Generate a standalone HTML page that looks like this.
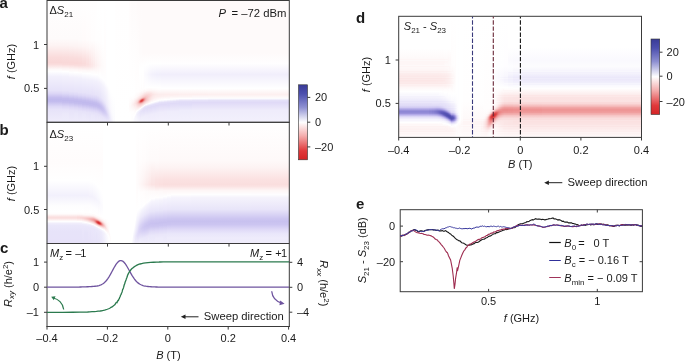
<!DOCTYPE html>
<html><head><meta charset="utf-8"><title>Figure</title>
<style>
html,body{margin:0;padding:0;background:#fff;}
svg{display:block;will-change:transform;font-family:"Liberation Sans", sans-serif;fill:#1a1a1a;}
</style></head>
<body>
<svg width="685" height="362" viewBox="0 0 685 362">
<rect width="685" height="362" fill="#fff"/>
<defs>
<filter id="b0_6" x="-50%" y="-50%" width="200%" height="200%"><feGaussianBlur stdDeviation="0.6"/></filter>
<filter id="b1" x="-50%" y="-50%" width="200%" height="200%"><feGaussianBlur stdDeviation="1"/></filter>
<filter id="b1_5" x="-50%" y="-50%" width="200%" height="200%"><feGaussianBlur stdDeviation="1.5"/></filter>
<filter id="b2" x="-50%" y="-50%" width="200%" height="200%"><feGaussianBlur stdDeviation="2"/></filter>
<filter id="b2_5" x="-50%" y="-50%" width="200%" height="200%"><feGaussianBlur stdDeviation="2.5"/></filter>
<filter id="b3" x="-50%" y="-50%" width="200%" height="200%"><feGaussianBlur stdDeviation="3"/></filter>
<filter id="b4" x="-50%" y="-50%" width="200%" height="200%"><feGaussianBlur stdDeviation="4"/></filter>
<filter id="b5" x="-50%" y="-50%" width="200%" height="200%"><feGaussianBlur stdDeviation="5"/></filter>
<filter id="b6" x="-50%" y="-50%" width="200%" height="200%"><feGaussianBlur stdDeviation="6"/></filter>
<linearGradient id="cbar" x1="0" y1="0" x2="0" y2="1">
<stop offset="0" stop-color="#393b97"/>
<stop offset="0.12" stop-color="#4c4fae"/>
<stop offset="0.3" stop-color="#8e90d2"/>
<stop offset="0.5" stop-color="#ffffff"/>
<stop offset="0.68" stop-color="#f4adad"/>
<stop offset="0.88" stop-color="#e0393b"/>
<stop offset="1" stop-color="#d42426"/>
</linearGradient>
<clipPath id="ca"><rect x="47" y="0.5" width="242.3" height="121.8"/></clipPath>
<clipPath id="cb"><rect x="47" y="122.3" width="242.3" height="121.2"/></clipPath>
<clipPath id="cd"><rect x="398.7" y="16.3" width="242.8" height="121.1"/></clipPath>
<clipPath id="ce"><rect x="400.2" y="209.7" width="242.2" height="82"/></clipPath>
<linearGradient id="fadeR" x1="0" y1="0" x2="1" y2="0"><stop offset="0" stop-color="#fff" stop-opacity="1"/><stop offset="0.75" stop-color="#fff" stop-opacity="1"/><stop offset="1" stop-color="#fff" stop-opacity="0"/></linearGradient>
</defs>
<defs><linearGradient id="ga0" gradientUnits="userSpaceOnUse" x1="0" y1="0" x2="0" y2="122"><stop offset="0.0041" stop-color="#fffefe"/><stop offset="0.3156" stop-color="#fefbfb"/><stop offset="0.3730" stop-color="#fdf3f3"/><stop offset="0.4713" stop-color="#fadbdb"/><stop offset="0.5123" stop-color="#f9d7d7"/><stop offset="0.5287" stop-color="#fadddd"/><stop offset="0.5697" stop-color="#fefafa"/><stop offset="0.5861" stop-color="#fefeff"/><stop offset="0.6270" stop-color="#f2f0fc"/><stop offset="0.7418" stop-color="#e6e2f9"/><stop offset="0.7664" stop-color="#dcd6f6"/><stop offset="0.7992" stop-color="#c6beef"/><stop offset="0.8156" stop-color="#c0b9ed"/><stop offset="0.8320" stop-color="#c3bcee"/><stop offset="0.8730" stop-color="#ded9f7"/><stop offset="0.8975" stop-color="#e7e3f9"/><stop offset="0.9959" stop-color="#efecfb"/></linearGradient>
<linearGradient id="ga1" gradientUnits="userSpaceOnUse" x1="0" y1="0" x2="0" y2="122"><stop offset="0.0041" stop-color="#fffefe"/><stop offset="0.3156" stop-color="#fefbfb"/><stop offset="0.3730" stop-color="#fdf3f3"/><stop offset="0.4713" stop-color="#fadcdc"/><stop offset="0.5123" stop-color="#f9d8d8"/><stop offset="0.5287" stop-color="#fadbdb"/><stop offset="0.5615" stop-color="#fdf3f3"/><stop offset="0.5861" stop-color="#ffffff"/><stop offset="0.6270" stop-color="#f3f1fc"/><stop offset="0.7418" stop-color="#e7e3f9"/><stop offset="0.7664" stop-color="#ded9f7"/><stop offset="0.8074" stop-color="#c4bcee"/><stop offset="0.8238" stop-color="#c0b9ed"/><stop offset="0.8402" stop-color="#c5beee"/><stop offset="0.8730" stop-color="#dcd6f6"/><stop offset="0.8975" stop-color="#e6e2f9"/><stop offset="0.9303" stop-color="#ebe8fa"/><stop offset="0.9959" stop-color="#eeecfb"/></linearGradient>
<linearGradient id="ga2" gradientUnits="userSpaceOnUse" x1="0" y1="0" x2="0" y2="122"><stop offset="0.0041" stop-color="#fffefe"/><stop offset="0.3156" stop-color="#fefbfb"/><stop offset="0.3730" stop-color="#fdf4f4"/><stop offset="0.4713" stop-color="#fadddd"/><stop offset="0.5123" stop-color="#fad8d8"/><stop offset="0.5287" stop-color="#fadada"/><stop offset="0.5697" stop-color="#fef7f7"/><stop offset="0.5943" stop-color="#fefeff"/><stop offset="0.6352" stop-color="#f3f0fc"/><stop offset="0.7500" stop-color="#e6e2f9"/><stop offset="0.7746" stop-color="#dcd7f6"/><stop offset="0.8074" stop-color="#c6bfef"/><stop offset="0.8238" stop-color="#c1b9ed"/><stop offset="0.8402" stop-color="#c3bcee"/><stop offset="0.8811" stop-color="#ded8f7"/><stop offset="0.9057" stop-color="#e7e3f9"/><stop offset="0.9959" stop-color="#eeebfb"/></linearGradient>
<linearGradient id="ga3" gradientUnits="userSpaceOnUse" x1="0" y1="0" x2="0" y2="122"><stop offset="0.0041" stop-color="#fffefe"/><stop offset="0.3156" stop-color="#fefbfb"/><stop offset="0.3811" stop-color="#fdf3f3"/><stop offset="0.4795" stop-color="#fadcdc"/><stop offset="0.5205" stop-color="#fad8d8"/><stop offset="0.5369" stop-color="#fadede"/><stop offset="0.5697" stop-color="#fef6f6"/><stop offset="0.5943" stop-color="#ffffff"/><stop offset="0.6352" stop-color="#f3f1fc"/><stop offset="0.7500" stop-color="#e7e3f9"/><stop offset="0.7746" stop-color="#ded9f7"/><stop offset="0.8156" stop-color="#c4bcee"/><stop offset="0.8320" stop-color="#c0b9ed"/><stop offset="0.8484" stop-color="#c5beee"/><stop offset="0.8811" stop-color="#dcd6f6"/><stop offset="0.9057" stop-color="#e6e2f9"/><stop offset="0.9303" stop-color="#eae7fa"/><stop offset="0.9959" stop-color="#eeebfb"/></linearGradient>
<linearGradient id="ga4" gradientUnits="userSpaceOnUse" x1="0" y1="0" x2="0" y2="122"><stop offset="0.0041" stop-color="#fffefe"/><stop offset="0.3238" stop-color="#fefbfb"/><stop offset="0.3811" stop-color="#fdf4f4"/><stop offset="0.4795" stop-color="#fadddd"/><stop offset="0.5205" stop-color="#fad9d9"/><stop offset="0.5369" stop-color="#fadddd"/><stop offset="0.5697" stop-color="#fef4f4"/><stop offset="0.5943" stop-color="#fffefe"/><stop offset="0.6434" stop-color="#f2f0fc"/><stop offset="0.7582" stop-color="#e6e2f9"/><stop offset="0.7828" stop-color="#dcd7f6"/><stop offset="0.8156" stop-color="#c6bfef"/><stop offset="0.8320" stop-color="#c1b9ed"/><stop offset="0.8484" stop-color="#c3bcee"/><stop offset="0.8893" stop-color="#ded8f7"/><stop offset="0.9139" stop-color="#e7e3f9"/><stop offset="0.9959" stop-color="#eeebfb"/></linearGradient>
<linearGradient id="ga5" gradientUnits="userSpaceOnUse" x1="0" y1="0" x2="0" y2="122"><stop offset="0.0041" stop-color="#fffefe"/><stop offset="0.3238" stop-color="#fffbfb"/><stop offset="0.3811" stop-color="#fef5f5"/><stop offset="0.4795" stop-color="#fbe0e0"/><stop offset="0.5205" stop-color="#fadbdb"/><stop offset="0.5369" stop-color="#fadede"/><stop offset="0.5779" stop-color="#fef8f8"/><stop offset="0.6025" stop-color="#fefeff"/><stop offset="0.6516" stop-color="#f2f0fc"/><stop offset="0.7582" stop-color="#e7e3f9"/><stop offset="0.7828" stop-color="#dfd9f7"/><stop offset="0.8238" stop-color="#c4bdee"/><stop offset="0.8402" stop-color="#c0b9ed"/><stop offset="0.8566" stop-color="#c5bdee"/><stop offset="0.8893" stop-color="#dbd5f6"/><stop offset="0.9139" stop-color="#e6e2f9"/><stop offset="0.9385" stop-color="#eae7fa"/><stop offset="0.9959" stop-color="#eeebfb"/></linearGradient>
<linearGradient id="ga6" gradientUnits="userSpaceOnUse" x1="0" y1="0" x2="0" y2="122"><stop offset="0.0041" stop-color="#fffefe"/><stop offset="0.3238" stop-color="#fffcfc"/><stop offset="0.3893" stop-color="#fef5f5"/><stop offset="0.4877" stop-color="#fbe2e2"/><stop offset="0.5287" stop-color="#fbdfdf"/><stop offset="0.5451" stop-color="#fbe4e4"/><stop offset="0.5779" stop-color="#fef7f7"/><stop offset="0.6025" stop-color="#ffffff"/><stop offset="0.6516" stop-color="#f3f1fc"/><stop offset="0.7664" stop-color="#e6e2f9"/><stop offset="0.7910" stop-color="#ddd7f6"/><stop offset="0.8238" stop-color="#c7bfef"/><stop offset="0.8402" stop-color="#c1b9ed"/><stop offset="0.8566" stop-color="#c3bbee"/><stop offset="0.8975" stop-color="#ded8f7"/><stop offset="0.9221" stop-color="#e7e3f9"/><stop offset="0.9959" stop-color="#eeebfb"/></linearGradient>
<linearGradient id="ga7" gradientUnits="userSpaceOnUse" x1="0" y1="0" x2="0" y2="122"><stop offset="0.0041" stop-color="#fffefe"/><stop offset="0.3320" stop-color="#fffcfc"/><stop offset="0.3893" stop-color="#fef7f7"/><stop offset="0.4877" stop-color="#fce6e6"/><stop offset="0.5287" stop-color="#fbe3e3"/><stop offset="0.5451" stop-color="#fce6e6"/><stop offset="0.5779" stop-color="#fef7f7"/><stop offset="0.6025" stop-color="#ffffff"/><stop offset="0.6598" stop-color="#f2f0fc"/><stop offset="0.7664" stop-color="#e7e3f9"/><stop offset="0.7910" stop-color="#ded9f7"/><stop offset="0.8320" stop-color="#c4bdee"/><stop offset="0.8484" stop-color="#c0b9ed"/><stop offset="0.8648" stop-color="#c5beee"/><stop offset="0.8975" stop-color="#dcd6f6"/><stop offset="0.9221" stop-color="#e6e2f9"/><stop offset="0.9959" stop-color="#edeafb"/></linearGradient>
<linearGradient id="ga8" gradientUnits="userSpaceOnUse" x1="0" y1="0" x2="0" y2="122"><stop offset="0.0041" stop-color="#fffefe"/><stop offset="0.3320" stop-color="#fffdfd"/><stop offset="0.5287" stop-color="#fce7e7"/><stop offset="0.5451" stop-color="#fce9e9"/><stop offset="0.5861" stop-color="#fefbfb"/><stop offset="0.6107" stop-color="#fefeff"/><stop offset="0.6598" stop-color="#f2f0fc"/><stop offset="0.7746" stop-color="#e6e1f9"/><stop offset="0.7992" stop-color="#dcd6f6"/><stop offset="0.8320" stop-color="#c6beef"/><stop offset="0.8484" stop-color="#c1b9ed"/><stop offset="0.8648" stop-color="#c4bcee"/><stop offset="0.8975" stop-color="#dad4f6"/><stop offset="0.9221" stop-color="#e5e1f9"/><stop offset="0.9467" stop-color="#eae7fa"/><stop offset="0.9959" stop-color="#edeafb"/></linearGradient>
<linearGradient id="ga9" gradientUnits="userSpaceOnUse" x1="0" y1="0" x2="0" y2="122"><stop offset="0.0041" stop-color="#fffefe"/><stop offset="0.3320" stop-color="#fffdfd"/><stop offset="0.5287" stop-color="#fcebeb"/><stop offset="0.5451" stop-color="#fceded"/><stop offset="0.5861" stop-color="#fefbfb"/><stop offset="0.6107" stop-color="#fffeff"/><stop offset="0.6598" stop-color="#f3f1fc"/><stop offset="0.7746" stop-color="#e7e2f9"/><stop offset="0.7992" stop-color="#ddd8f7"/><stop offset="0.8402" stop-color="#c3bcee"/><stop offset="0.8566" stop-color="#c1b9ed"/><stop offset="0.8730" stop-color="#c7bfef"/><stop offset="0.9057" stop-color="#ddd7f7"/><stop offset="0.9221" stop-color="#e4e0f8"/><stop offset="0.9467" stop-color="#eae6fa"/><stop offset="0.9959" stop-color="#edeafb"/></linearGradient>
<linearGradient id="ga10" gradientUnits="userSpaceOnUse" x1="0" y1="0" x2="0" y2="122"><stop offset="0.0041" stop-color="#fffefe"/><stop offset="0.3320" stop-color="#fffefe"/><stop offset="0.5369" stop-color="#fdf0f0"/><stop offset="0.6107" stop-color="#ffffff"/><stop offset="0.6680" stop-color="#f2f0fc"/><stop offset="0.7746" stop-color="#e8e4f9"/><stop offset="0.8074" stop-color="#dbd5f6"/><stop offset="0.8402" stop-color="#c5beee"/><stop offset="0.8566" stop-color="#c1b9ed"/><stop offset="0.8730" stop-color="#c5beee"/><stop offset="0.9057" stop-color="#dbd5f6"/><stop offset="0.9303" stop-color="#e6e2f9"/><stop offset="0.9959" stop-color="#edeafb"/></linearGradient>
<linearGradient id="ga11" gradientUnits="userSpaceOnUse" x1="0" y1="0" x2="0" y2="122"><stop offset="0.0041" stop-color="#ffffff"/><stop offset="0.3320" stop-color="#fffefe"/><stop offset="0.5369" stop-color="#fdf3f3"/><stop offset="0.6107" stop-color="#ffffff"/><stop offset="0.6680" stop-color="#f3f1fc"/><stop offset="0.7828" stop-color="#e7e3f9"/><stop offset="0.8074" stop-color="#ded8f7"/><stop offset="0.8484" stop-color="#c4bdee"/><stop offset="0.8648" stop-color="#c2baed"/><stop offset="0.8811" stop-color="#c7c0ef"/><stop offset="0.9139" stop-color="#ded8f7"/><stop offset="0.9303" stop-color="#e5e0f8"/><stop offset="0.9549" stop-color="#eae6fa"/><stop offset="0.9959" stop-color="#edeafa"/></linearGradient>
<linearGradient id="ga12" gradientUnits="userSpaceOnUse" x1="0" y1="0" x2="0" y2="122"><stop offset="0.0041" stop-color="#ffffff"/><stop offset="0.3320" stop-color="#fffefe"/><stop offset="0.5369" stop-color="#fef4f4"/><stop offset="0.6189" stop-color="#fefeff"/><stop offset="0.6762" stop-color="#f3f0fc"/><stop offset="0.7828" stop-color="#e8e4f9"/><stop offset="0.8156" stop-color="#dcd6f6"/><stop offset="0.8484" stop-color="#c7bfef"/><stop offset="0.8648" stop-color="#c2baed"/><stop offset="0.8811" stop-color="#c6beef"/><stop offset="0.9139" stop-color="#dcd6f6"/><stop offset="0.9385" stop-color="#e6e2f9"/><stop offset="0.9959" stop-color="#edeafa"/></linearGradient>
<linearGradient id="ga13" gradientUnits="userSpaceOnUse" x1="0" y1="0" x2="0" y2="122"><stop offset="0.0041" stop-color="#ffffff"/><stop offset="0.3402" stop-color="#fffefe"/><stop offset="0.5369" stop-color="#fef6f6"/><stop offset="0.6025" stop-color="#fffefe"/><stop offset="0.6270" stop-color="#fefeff"/><stop offset="0.6762" stop-color="#f3f1fc"/><stop offset="0.7910" stop-color="#e8e4f9"/><stop offset="0.8156" stop-color="#dfdaf7"/><stop offset="0.8566" stop-color="#c6beef"/><stop offset="0.8730" stop-color="#c3bbee"/><stop offset="0.8893" stop-color="#c8c1ef"/><stop offset="0.9221" stop-color="#ded8f7"/><stop offset="0.9385" stop-color="#e5e1f8"/><stop offset="0.9631" stop-color="#eae7fa"/><stop offset="0.9959" stop-color="#edeafa"/></linearGradient>
<linearGradient id="ga14" gradientUnits="userSpaceOnUse" x1="0" y1="0" x2="0" y2="122"><stop offset="0.0041" stop-color="#ffffff"/><stop offset="0.3402" stop-color="#fffefe"/><stop offset="0.5369" stop-color="#fef7f7"/><stop offset="0.6025" stop-color="#fffefe"/><stop offset="0.6352" stop-color="#fefeff"/><stop offset="0.6844" stop-color="#f3f1fc"/><stop offset="0.7992" stop-color="#e7e3f9"/><stop offset="0.8238" stop-color="#ded9f7"/><stop offset="0.8566" stop-color="#cac3f0"/><stop offset="0.8730" stop-color="#c4bdee"/><stop offset="0.8893" stop-color="#c7bfef"/><stop offset="0.9221" stop-color="#dbd5f6"/><stop offset="0.9467" stop-color="#e6e2f9"/><stop offset="0.9959" stop-color="#edeafa"/></linearGradient>
<linearGradient id="ga15" gradientUnits="userSpaceOnUse" x1="0" y1="0" x2="0" y2="122"><stop offset="0.0041" stop-color="#ffffff"/><stop offset="0.3402" stop-color="#fffefe"/><stop offset="0.5369" stop-color="#fef9f9"/><stop offset="0.6352" stop-color="#fefeff"/><stop offset="0.6926" stop-color="#f3f1fc"/><stop offset="0.7992" stop-color="#e9e6fa"/><stop offset="0.8238" stop-color="#e2ddf8"/><stop offset="0.8648" stop-color="#cac3f0"/><stop offset="0.8811" stop-color="#c6beef"/><stop offset="0.8975" stop-color="#c9c1f0"/><stop offset="0.9303" stop-color="#ddd7f6"/><stop offset="0.9549" stop-color="#e7e3f9"/><stop offset="0.9959" stop-color="#edeafa"/></linearGradient>
<linearGradient id="ga16" gradientUnits="userSpaceOnUse" x1="0" y1="0" x2="0" y2="122"><stop offset="0.0041" stop-color="#ffffff"/><stop offset="0.3402" stop-color="#ffffff"/><stop offset="0.5369" stop-color="#fefafa"/><stop offset="0.6434" stop-color="#fefeff"/><stop offset="0.7008" stop-color="#f4f2fc"/><stop offset="0.8074" stop-color="#eae7fa"/><stop offset="0.8320" stop-color="#e3def8"/><stop offset="0.8730" stop-color="#ccc5f1"/><stop offset="0.8893" stop-color="#c8c1ef"/><stop offset="0.9057" stop-color="#cbc4f0"/><stop offset="0.9549" stop-color="#e6e1f9"/><stop offset="0.9959" stop-color="#edeafa"/></linearGradient>
<linearGradient id="ga17" gradientUnits="userSpaceOnUse" x1="0" y1="0" x2="0" y2="122"><stop offset="0.0041" stop-color="#ffffff"/><stop offset="0.3402" stop-color="#ffffff"/><stop offset="0.5451" stop-color="#fefbfb"/><stop offset="0.6516" stop-color="#fefeff"/><stop offset="0.7090" stop-color="#f4f2fc"/><stop offset="0.8156" stop-color="#ebe8fa"/><stop offset="0.8402" stop-color="#e4e0f8"/><stop offset="0.8811" stop-color="#cfc8f2"/><stop offset="0.8975" stop-color="#cbc4f0"/><stop offset="0.9139" stop-color="#cec7f1"/><stop offset="0.9631" stop-color="#e7e3f9"/><stop offset="0.9959" stop-color="#edeafb"/></linearGradient>
<linearGradient id="ga18" gradientUnits="userSpaceOnUse" x1="0" y1="0" x2="0" y2="122"><stop offset="0.0041" stop-color="#ffffff"/><stop offset="0.5451" stop-color="#fffcfc"/><stop offset="0.6598" stop-color="#fefeff"/><stop offset="0.7172" stop-color="#f5f3fd"/><stop offset="0.8238" stop-color="#edeafa"/><stop offset="0.8484" stop-color="#e6e2f9"/><stop offset="0.8893" stop-color="#d3cdf3"/><stop offset="0.9057" stop-color="#cfc8f2"/><stop offset="0.9221" stop-color="#d1cbf3"/><stop offset="0.9631" stop-color="#e5e1f8"/><stop offset="0.9959" stop-color="#edeafb"/></linearGradient>
<linearGradient id="ga19" gradientUnits="userSpaceOnUse" x1="0" y1="0" x2="0" y2="122"><stop offset="0.0041" stop-color="#ffffff"/><stop offset="0.5451" stop-color="#fffcfc"/><stop offset="0.6762" stop-color="#fefeff"/><stop offset="0.7254" stop-color="#f6f5fd"/><stop offset="0.8402" stop-color="#edeafb"/><stop offset="0.9139" stop-color="#d4cdf4"/><stop offset="0.9303" stop-color="#d5cff4"/><stop offset="0.9713" stop-color="#e7e2f9"/><stop offset="0.9959" stop-color="#edebfb"/></linearGradient>
<linearGradient id="ga20" gradientUnits="userSpaceOnUse" x1="0" y1="0" x2="0" y2="122"><stop offset="0.0041" stop-color="#ffffff"/><stop offset="0.6844" stop-color="#fefeff"/><stop offset="0.7418" stop-color="#f7f5fd"/><stop offset="0.8484" stop-color="#f0edfb"/><stop offset="0.8730" stop-color="#eae7fa"/><stop offset="0.9139" stop-color="#dcd6f6"/><stop offset="0.9303" stop-color="#d9d3f5"/><stop offset="0.9467" stop-color="#dcd6f6"/><stop offset="0.9959" stop-color="#edeafb"/></linearGradient>
<linearGradient id="ga21" gradientUnits="userSpaceOnUse" x1="0" y1="0" x2="0" y2="122"><stop offset="0.0041" stop-color="#ffffff"/><stop offset="0.6926" stop-color="#ffffff"/><stop offset="0.7500" stop-color="#f8f7fd"/><stop offset="0.8566" stop-color="#f2f0fc"/><stop offset="0.9385" stop-color="#dfdaf7"/><stop offset="0.9631" stop-color="#e2def8"/><stop offset="0.9959" stop-color="#edeafa"/></linearGradient>
<linearGradient id="ga22" gradientUnits="userSpaceOnUse" x1="0" y1="0" x2="0" y2="122"><stop offset="0.0041" stop-color="#ffffff"/><stop offset="0.7008" stop-color="#ffffff"/><stop offset="0.8730" stop-color="#f4f2fc"/><stop offset="0.9467" stop-color="#e5e1f8"/><stop offset="0.9713" stop-color="#e6e2f9"/><stop offset="0.9959" stop-color="#edeafa"/></linearGradient>
<linearGradient id="ga23" gradientUnits="userSpaceOnUse" x1="0" y1="0" x2="0" y2="122"><stop offset="0.0041" stop-color="#ffffff"/><stop offset="0.7172" stop-color="#ffffff"/><stop offset="0.8893" stop-color="#f6f5fd"/><stop offset="0.9631" stop-color="#eae7fa"/><stop offset="0.9959" stop-color="#eeebfb"/></linearGradient>
<linearGradient id="ga24" gradientUnits="userSpaceOnUse" x1="0" y1="0" x2="0" y2="122"><stop offset="0.0041" stop-color="#ffffff"/><stop offset="0.7336" stop-color="#ffffff"/><stop offset="0.8975" stop-color="#f9f7fd"/><stop offset="0.9713" stop-color="#efedfb"/><stop offset="0.9959" stop-color="#f0edfb"/></linearGradient>
<linearGradient id="ga25" gradientUnits="userSpaceOnUse" x1="0" y1="0" x2="0" y2="122"><stop offset="0.0041" stop-color="#ffffff"/><stop offset="0.7500" stop-color="#ffffff"/><stop offset="0.9139" stop-color="#faf9fe"/><stop offset="0.9959" stop-color="#f3f1fc"/></linearGradient>
<linearGradient id="ga26" gradientUnits="userSpaceOnUse" x1="0" y1="0" x2="0" y2="122"><stop offset="0.0041" stop-color="#ffffff"/><stop offset="0.7664" stop-color="#ffffff"/><stop offset="0.9303" stop-color="#fbfbfe"/><stop offset="0.9959" stop-color="#f7f5fd"/></linearGradient>
<linearGradient id="ga27" gradientUnits="userSpaceOnUse" x1="0" y1="0" x2="0" y2="122"><stop offset="0.0041" stop-color="#ffffff"/><stop offset="0.7828" stop-color="#ffffff"/><stop offset="0.9959" stop-color="#fbfbfe"/></linearGradient>
<linearGradient id="ga28" gradientUnits="userSpaceOnUse" x1="0" y1="0" x2="0" y2="122"><stop offset="0.0041" stop-color="#fffefe"/><stop offset="0.9959" stop-color="#ffffff"/></linearGradient>
<linearGradient id="ga29" gradientUnits="userSpaceOnUse" x1="0" y1="0" x2="0" y2="122"><stop offset="0.0041" stop-color="#fffcfc"/><stop offset="0.7828" stop-color="#ffffff"/><stop offset="0.8730" stop-color="#fefafa"/><stop offset="0.9303" stop-color="#ffffff"/><stop offset="0.9959" stop-color="#ffffff"/></linearGradient>
<linearGradient id="ga30" gradientUnits="userSpaceOnUse" x1="0" y1="0" x2="0" y2="122"><stop offset="0.0041" stop-color="#fefbfb"/><stop offset="0.7828" stop-color="#ffffff"/><stop offset="0.8648" stop-color="#fef6f6"/><stop offset="0.9221" stop-color="#fffefe"/><stop offset="0.9959" stop-color="#fffefe"/></linearGradient>
<linearGradient id="ga31" gradientUnits="userSpaceOnUse" x1="0" y1="0" x2="0" y2="122"><stop offset="0.0041" stop-color="#fefbfb"/><stop offset="0.7746" stop-color="#ffffff"/><stop offset="0.8074" stop-color="#fffdfd"/><stop offset="0.8566" stop-color="#fdf2f2"/><stop offset="0.9221" stop-color="#fffefe"/><stop offset="0.9959" stop-color="#fefdff"/></linearGradient>
<linearGradient id="ga32" gradientUnits="userSpaceOnUse" x1="0" y1="0" x2="0" y2="122"><stop offset="0.0041" stop-color="#fefbfb"/><stop offset="0.7746" stop-color="#ffffff"/><stop offset="0.8074" stop-color="#fffcfc"/><stop offset="0.8566" stop-color="#fdeeee"/><stop offset="0.9139" stop-color="#fffdfd"/><stop offset="0.9631" stop-color="#ffffff"/><stop offset="0.9959" stop-color="#fbfafe"/></linearGradient>
<linearGradient id="ga33" gradientUnits="userSpaceOnUse" x1="0" y1="0" x2="0" y2="122"><stop offset="0.0041" stop-color="#fefbfb"/><stop offset="0.7664" stop-color="#ffffff"/><stop offset="0.7992" stop-color="#fffcfc"/><stop offset="0.8484" stop-color="#fce9e9"/><stop offset="0.8648" stop-color="#fcebeb"/><stop offset="0.8975" stop-color="#fef9f9"/><stop offset="0.9467" stop-color="#ffffff"/><stop offset="0.9713" stop-color="#f9f8fe"/><stop offset="0.9959" stop-color="#f9f8fe"/></linearGradient>
<linearGradient id="ga34" gradientUnits="userSpaceOnUse" x1="0" y1="0" x2="0" y2="122"><stop offset="0.0041" stop-color="#fefbfb"/><stop offset="0.7582" stop-color="#fffefe"/><stop offset="0.7992" stop-color="#fefafa"/><stop offset="0.8320" stop-color="#fce8e8"/><stop offset="0.8484" stop-color="#fbe3e3"/><stop offset="0.8893" stop-color="#fdf3f3"/><stop offset="0.9303" stop-color="#ffffff"/><stop offset="0.9549" stop-color="#f7f5fd"/><stop offset="0.9959" stop-color="#f8f7fd"/></linearGradient>
<linearGradient id="ga35" gradientUnits="userSpaceOnUse" x1="0" y1="0" x2="0" y2="122"><stop offset="0.0041" stop-color="#fefbfb"/><stop offset="0.7500" stop-color="#fffefe"/><stop offset="0.7910" stop-color="#fefafa"/><stop offset="0.8074" stop-color="#fdf2f2"/><stop offset="0.8320" stop-color="#fbdfdf"/><stop offset="0.8484" stop-color="#fadbdb"/><stop offset="0.9139" stop-color="#ffffff"/><stop offset="0.9385" stop-color="#f4f2fc"/><stop offset="0.9959" stop-color="#f8f7fd"/></linearGradient>
<linearGradient id="ga36" gradientUnits="userSpaceOnUse" x1="0" y1="0" x2="0" y2="122"><stop offset="0.0041" stop-color="#fefafa"/><stop offset="0.7500" stop-color="#fffefe"/><stop offset="0.7910" stop-color="#fef7f7"/><stop offset="0.8074" stop-color="#fcecec"/><stop offset="0.8402" stop-color="#f8cdcd"/><stop offset="0.8484" stop-color="#f8d0d0"/><stop offset="0.9057" stop-color="#fffefe"/><stop offset="0.9221" stop-color="#f4f2fc"/><stop offset="0.9385" stop-color="#f0eefb"/><stop offset="0.9959" stop-color="#f7f6fd"/></linearGradient>
<linearGradient id="ga37" gradientUnits="userSpaceOnUse" x1="0" y1="0" x2="0" y2="122"><stop offset="0.0041" stop-color="#fefafa"/><stop offset="0.7500" stop-color="#fffefe"/><stop offset="0.7828" stop-color="#fef7f7"/><stop offset="0.7992" stop-color="#fcecec"/><stop offset="0.8156" stop-color="#fadada"/><stop offset="0.8320" stop-color="#f4b8b8"/><stop offset="0.8402" stop-color="#f3b3b3"/><stop offset="0.8566" stop-color="#f8d0d0"/><stop offset="0.8975" stop-color="#fefbfb"/><stop offset="0.9057" stop-color="#faf9fe"/><stop offset="0.9139" stop-color="#f2f0fc"/><stop offset="0.9303" stop-color="#eeebfb"/><stop offset="0.9959" stop-color="#f6f4fd"/></linearGradient>
<linearGradient id="ga38" gradientUnits="userSpaceOnUse" x1="0" y1="0" x2="0" y2="122"><stop offset="0.0041" stop-color="#fefafa"/><stop offset="0.4303" stop-color="#fefbfb"/><stop offset="0.5697" stop-color="#ffffff"/><stop offset="0.7500" stop-color="#fffdfd"/><stop offset="0.7828" stop-color="#fdf3f3"/><stop offset="0.7992" stop-color="#fbe5e5"/><stop offset="0.8074" stop-color="#fadbdb"/><stop offset="0.8156" stop-color="#f7c8c8"/><stop offset="0.8238" stop-color="#f1a4a4"/><stop offset="0.8320" stop-color="#eb8686"/><stop offset="0.8402" stop-color="#ed9191"/><stop offset="0.8484" stop-color="#f4b5b5"/><stop offset="0.8566" stop-color="#f8cccc"/><stop offset="0.8893" stop-color="#fef8f8"/><stop offset="0.8975" stop-color="#fcfcfe"/><stop offset="0.9057" stop-color="#f2f0fc"/><stop offset="0.9221" stop-color="#ebe8fa"/><stop offset="0.9959" stop-color="#f5f3fc"/></linearGradient>
<linearGradient id="ga39" gradientUnits="userSpaceOnUse" x1="0" y1="0" x2="0" y2="122"><stop offset="0.0041" stop-color="#fefafa"/><stop offset="0.4303" stop-color="#fefbfb"/><stop offset="0.5615" stop-color="#ffffff"/><stop offset="0.7172" stop-color="#ffffff"/><stop offset="0.7500" stop-color="#fffcfc"/><stop offset="0.7828" stop-color="#fdeeee"/><stop offset="0.7992" stop-color="#fadddd"/><stop offset="0.8074" stop-color="#f8cdcd"/><stop offset="0.8156" stop-color="#f1a4a4"/><stop offset="0.8238" stop-color="#e66767"/><stop offset="0.8320" stop-color="#e25151"/><stop offset="0.8402" stop-color="#ea8080"/><stop offset="0.8484" stop-color="#f3b3b3"/><stop offset="0.8566" stop-color="#f8cdcd"/><stop offset="0.8893" stop-color="#fffeff"/><stop offset="0.8975" stop-color="#f3f1fc"/><stop offset="0.9057" stop-color="#ece8fa"/><stop offset="0.9139" stop-color="#e9e5f9"/><stop offset="0.9303" stop-color="#e9e5fa"/><stop offset="0.9959" stop-color="#f4f2fc"/></linearGradient>
<linearGradient id="ga40" gradientUnits="userSpaceOnUse" x1="0" y1="0" x2="0" y2="122"><stop offset="0.0041" stop-color="#fefafa"/><stop offset="0.4303" stop-color="#fefbfb"/><stop offset="0.5533" stop-color="#ffffff"/><stop offset="0.7418" stop-color="#fffdfd"/><stop offset="0.7746" stop-color="#fdefef"/><stop offset="0.7910" stop-color="#fbe0e0"/><stop offset="0.7992" stop-color="#f9d4d4"/><stop offset="0.8074" stop-color="#f4b6b6"/><stop offset="0.8156" stop-color="#e87575"/><stop offset="0.8238" stop-color="#dc4142"/><stop offset="0.8320" stop-color="#df4b4b"/><stop offset="0.8402" stop-color="#ec8d8d"/><stop offset="0.8484" stop-color="#f5bcbc"/><stop offset="0.8566" stop-color="#f9d2d2"/><stop offset="0.8811" stop-color="#fffcfc"/><stop offset="0.8975" stop-color="#ebe8fa"/><stop offset="0.9139" stop-color="#e6e2f9"/><stop offset="0.9631" stop-color="#f0eefb"/><stop offset="0.9959" stop-color="#f3f1fc"/></linearGradient>
<linearGradient id="ga41" gradientUnits="userSpaceOnUse" x1="0" y1="0" x2="0" y2="122"><stop offset="0.0041" stop-color="#fefafa"/><stop offset="0.4303" stop-color="#fefafa"/><stop offset="0.5533" stop-color="#ffffff"/><stop offset="0.7172" stop-color="#ffffff"/><stop offset="0.7418" stop-color="#fffcfc"/><stop offset="0.7582" stop-color="#fef6f6"/><stop offset="0.7746" stop-color="#fceaea"/><stop offset="0.7910" stop-color="#fad8d8"/><stop offset="0.7992" stop-color="#f7c8c8"/><stop offset="0.8074" stop-color="#f09e9e"/><stop offset="0.8156" stop-color="#e35858"/><stop offset="0.8238" stop-color="#dd4545"/><stop offset="0.8320" stop-color="#e66b6b"/><stop offset="0.8402" stop-color="#f1a7a7"/><stop offset="0.8484" stop-color="#f7c8c8"/><stop offset="0.8566" stop-color="#fadada"/><stop offset="0.8730" stop-color="#fef8f8"/><stop offset="0.8811" stop-color="#f7f6fd"/><stop offset="0.8893" stop-color="#ece8fa"/><stop offset="0.9057" stop-color="#e5e0f8"/><stop offset="0.9631" stop-color="#f0eefb"/><stop offset="0.9959" stop-color="#f3f1fc"/></linearGradient>
<linearGradient id="ga42" gradientUnits="userSpaceOnUse" x1="0" y1="0" x2="0" y2="122"><stop offset="0.0041" stop-color="#fefafa"/><stop offset="0.4303" stop-color="#fefafa"/><stop offset="0.5451" stop-color="#ffffff"/><stop offset="0.7336" stop-color="#fffdfd"/><stop offset="0.7582" stop-color="#fdf3f3"/><stop offset="0.7746" stop-color="#fbe5e5"/><stop offset="0.7910" stop-color="#f9d1d1"/><stop offset="0.7992" stop-color="#f5bebe"/><stop offset="0.8156" stop-color="#e66969"/><stop offset="0.8238" stop-color="#e76f6f"/><stop offset="0.8320" stop-color="#ef9b9b"/><stop offset="0.8402" stop-color="#f5bfbf"/><stop offset="0.8484" stop-color="#f9d4d4"/><stop offset="0.8648" stop-color="#fdf3f3"/><stop offset="0.8730" stop-color="#fbfafe"/><stop offset="0.8811" stop-color="#edeafa"/><stop offset="0.8893" stop-color="#e6e2f9"/><stop offset="0.8975" stop-color="#e4dff8"/><stop offset="0.9139" stop-color="#e5e1f8"/><stop offset="0.9549" stop-color="#efedfb"/><stop offset="0.9959" stop-color="#f2f0fc"/></linearGradient>
<linearGradient id="ga43" gradientUnits="userSpaceOnUse" x1="0" y1="0" x2="0" y2="122"><stop offset="0.0041" stop-color="#fefafa"/><stop offset="0.4303" stop-color="#fefafa"/><stop offset="0.5369" stop-color="#ffffff"/><stop offset="0.6107" stop-color="#fcfbfe"/><stop offset="0.7254" stop-color="#fffefe"/><stop offset="0.7500" stop-color="#fef6f6"/><stop offset="0.7828" stop-color="#f9d7d7"/><stop offset="0.7910" stop-color="#f8cccc"/><stop offset="0.7992" stop-color="#f4baba"/><stop offset="0.8074" stop-color="#f09f9f"/><stop offset="0.8156" stop-color="#ed9191"/><stop offset="0.8238" stop-color="#f0a0a0"/><stop offset="0.8320" stop-color="#f5bbbb"/><stop offset="0.8402" stop-color="#f8cfcf"/><stop offset="0.8648" stop-color="#fefeff"/><stop offset="0.8730" stop-color="#efecfb"/><stop offset="0.8811" stop-color="#e6e2f9"/><stop offset="0.8893" stop-color="#e3dff8"/><stop offset="0.9057" stop-color="#e4dff8"/><stop offset="0.9549" stop-color="#f0edfb"/><stop offset="0.9959" stop-color="#f2f0fc"/></linearGradient>
<linearGradient id="ga44" gradientUnits="userSpaceOnUse" x1="0" y1="0" x2="0" y2="122"><stop offset="0.0041" stop-color="#fefafa"/><stop offset="0.4303" stop-color="#fefafa"/><stop offset="0.5369" stop-color="#ffffff"/><stop offset="0.6107" stop-color="#fbfafe"/><stop offset="0.7172" stop-color="#ffffff"/><stop offset="0.7336" stop-color="#fffdfd"/><stop offset="0.7500" stop-color="#fef5f5"/><stop offset="0.7828" stop-color="#f9d3d3"/><stop offset="0.8074" stop-color="#f3b2b2"/><stop offset="0.8156" stop-color="#f3b1b1"/><stop offset="0.8238" stop-color="#f5bdbd"/><stop offset="0.8566" stop-color="#fef8f8"/><stop offset="0.8648" stop-color="#f6f4fd"/><stop offset="0.8730" stop-color="#e9e6fa"/><stop offset="0.8811" stop-color="#e4dff8"/><stop offset="0.8893" stop-color="#e2ddf8"/><stop offset="0.9467" stop-color="#efecfb"/><stop offset="0.9959" stop-color="#f2f0fc"/></linearGradient>
<linearGradient id="ga45" gradientUnits="userSpaceOnUse" x1="0" y1="0" x2="0" y2="122"><stop offset="0.0041" stop-color="#fefafa"/><stop offset="0.4303" stop-color="#fefafa"/><stop offset="0.5287" stop-color="#ffffff"/><stop offset="0.6107" stop-color="#faf9fe"/><stop offset="0.7172" stop-color="#ffffff"/><stop offset="0.7418" stop-color="#fef9f9"/><stop offset="0.7910" stop-color="#f7caca"/><stop offset="0.8074" stop-color="#f6c1c1"/><stop offset="0.8156" stop-color="#f6c3c3"/><stop offset="0.8238" stop-color="#f7cbcb"/><stop offset="0.8566" stop-color="#fffefe"/><stop offset="0.8730" stop-color="#e6e2f9"/><stop offset="0.8893" stop-color="#e1dcf8"/><stop offset="0.9467" stop-color="#efecfb"/><stop offset="0.9959" stop-color="#f2f0fc"/></linearGradient>
<linearGradient id="ga46" gradientUnits="userSpaceOnUse" x1="0" y1="0" x2="0" y2="122"><stop offset="0.0041" stop-color="#fefafa"/><stop offset="0.4303" stop-color="#fefafa"/><stop offset="0.5287" stop-color="#ffffff"/><stop offset="0.6107" stop-color="#f9f8fd"/><stop offset="0.7172" stop-color="#ffffff"/><stop offset="0.7418" stop-color="#fef8f8"/><stop offset="0.7828" stop-color="#f9d1d1"/><stop offset="0.7992" stop-color="#f7cbcb"/><stop offset="0.8156" stop-color="#f8cece"/><stop offset="0.8238" stop-color="#f9d5d5"/><stop offset="0.8484" stop-color="#fef6f6"/><stop offset="0.8566" stop-color="#faf9fe"/><stop offset="0.8648" stop-color="#ece9fa"/><stop offset="0.8730" stop-color="#e4dff8"/><stop offset="0.8811" stop-color="#e1dcf8"/><stop offset="0.8975" stop-color="#e2ddf8"/><stop offset="0.9467" stop-color="#efecfb"/><stop offset="0.9959" stop-color="#f2f0fc"/></linearGradient>
<linearGradient id="ga47" gradientUnits="userSpaceOnUse" x1="0" y1="0" x2="0" y2="122"><stop offset="0.0041" stop-color="#fefafa"/><stop offset="0.4303" stop-color="#fefafa"/><stop offset="0.5287" stop-color="#ffffff"/><stop offset="0.6107" stop-color="#f7f6fd"/><stop offset="0.7172" stop-color="#ffffff"/><stop offset="0.7418" stop-color="#fef7f7"/><stop offset="0.7746" stop-color="#fad8d8"/><stop offset="0.7910" stop-color="#f9d1d1"/><stop offset="0.8156" stop-color="#f9d7d7"/><stop offset="0.8238" stop-color="#fadede"/><stop offset="0.8484" stop-color="#fffbfb"/><stop offset="0.8566" stop-color="#f5f4fd"/><stop offset="0.8648" stop-color="#e8e5f9"/><stop offset="0.8730" stop-color="#e2def8"/><stop offset="0.8811" stop-color="#e1dcf7"/><stop offset="0.9467" stop-color="#efecfb"/><stop offset="0.9959" stop-color="#f2effc"/></linearGradient>
<linearGradient id="ga48" gradientUnits="userSpaceOnUse" x1="0" y1="0" x2="0" y2="122"><stop offset="0.0041" stop-color="#fefafa"/><stop offset="0.4303" stop-color="#fefafa"/><stop offset="0.5205" stop-color="#ffffff"/><stop offset="0.6107" stop-color="#f6f5fd"/><stop offset="0.7172" stop-color="#ffffff"/><stop offset="0.7418" stop-color="#fef6f6"/><stop offset="0.7746" stop-color="#fadada"/><stop offset="0.7910" stop-color="#f9d7d7"/><stop offset="0.8156" stop-color="#fbdfdf"/><stop offset="0.8484" stop-color="#fefeff"/><stop offset="0.8648" stop-color="#e6e2f9"/><stop offset="0.8811" stop-color="#e0dbf7"/><stop offset="0.9385" stop-color="#eeebfb"/><stop offset="0.9959" stop-color="#f2effc"/></linearGradient>
<linearGradient id="ga49" gradientUnits="userSpaceOnUse" x1="0" y1="0" x2="0" y2="122"><stop offset="0.0041" stop-color="#fefafa"/><stop offset="0.4303" stop-color="#fefafa"/><stop offset="0.5205" stop-color="#ffffff"/><stop offset="0.6107" stop-color="#f5f3fd"/><stop offset="0.7172" stop-color="#ffffff"/><stop offset="0.7418" stop-color="#fef6f6"/><stop offset="0.7664" stop-color="#fbe1e1"/><stop offset="0.7828" stop-color="#fadbdb"/><stop offset="0.8156" stop-color="#fbe5e5"/><stop offset="0.8402" stop-color="#fefafa"/><stop offset="0.8484" stop-color="#faf9fe"/><stop offset="0.8566" stop-color="#edeafa"/><stop offset="0.8648" stop-color="#e4dff8"/><stop offset="0.8811" stop-color="#e0dbf7"/><stop offset="0.9385" stop-color="#eeebfb"/><stop offset="0.9959" stop-color="#f2effc"/></linearGradient>
<linearGradient id="ga50" gradientUnits="userSpaceOnUse" x1="0" y1="0" x2="0" y2="122"><stop offset="0.0041" stop-color="#fefafa"/><stop offset="0.4303" stop-color="#fefafa"/><stop offset="0.5205" stop-color="#ffffff"/><stop offset="0.6107" stop-color="#f4f2fc"/><stop offset="0.7172" stop-color="#ffffff"/><stop offset="0.7418" stop-color="#fef6f6"/><stop offset="0.7664" stop-color="#fbe3e3"/><stop offset="0.7828" stop-color="#fbdfdf"/><stop offset="0.8156" stop-color="#fcebeb"/><stop offset="0.8402" stop-color="#fffefe"/><stop offset="0.8484" stop-color="#f6f4fd"/><stop offset="0.8566" stop-color="#e9e6fa"/><stop offset="0.8648" stop-color="#e2def8"/><stop offset="0.8730" stop-color="#e0dbf7"/><stop offset="0.8893" stop-color="#e2ddf8"/><stop offset="0.9385" stop-color="#efecfb"/><stop offset="0.9959" stop-color="#f2effc"/></linearGradient>
<linearGradient id="ga51" gradientUnits="userSpaceOnUse" x1="0" y1="0" x2="0" y2="122"><stop offset="0.0041" stop-color="#fefafa"/><stop offset="0.4303" stop-color="#fefafa"/><stop offset="0.5205" stop-color="#ffffff"/><stop offset="0.6107" stop-color="#f3f1fc"/><stop offset="0.7172" stop-color="#ffffff"/><stop offset="0.7336" stop-color="#fefbfb"/><stop offset="0.7746" stop-color="#fbe3e3"/><stop offset="0.8074" stop-color="#fcebeb"/><stop offset="0.8402" stop-color="#fdfdff"/><stop offset="0.8566" stop-color="#e6e2f9"/><stop offset="0.8730" stop-color="#e0dbf7"/><stop offset="0.9385" stop-color="#efecfb"/><stop offset="0.9959" stop-color="#f2effc"/></linearGradient>
<linearGradient id="ga52" gradientUnits="userSpaceOnUse" x1="0" y1="0" x2="0" y2="122"><stop offset="0.0041" stop-color="#fefafa"/><stop offset="0.4303" stop-color="#fefafa"/><stop offset="0.5205" stop-color="#ffffff"/><stop offset="0.6107" stop-color="#f3f1fc"/><stop offset="0.7172" stop-color="#ffffff"/><stop offset="0.7336" stop-color="#fefbfb"/><stop offset="0.7746" stop-color="#fbe6e6"/><stop offset="0.8074" stop-color="#fdeeee"/><stop offset="0.8320" stop-color="#fffcfc"/><stop offset="0.8402" stop-color="#fbfafe"/><stop offset="0.8566" stop-color="#e4e0f8"/><stop offset="0.8730" stop-color="#e0dbf7"/><stop offset="0.9303" stop-color="#eeebfb"/><stop offset="0.9959" stop-color="#f2effc"/></linearGradient>
<linearGradient id="ga53" gradientUnits="userSpaceOnUse" x1="0" y1="0" x2="0" y2="122"><stop offset="0.0041" stop-color="#fefafa"/><stop offset="0.4303" stop-color="#fefafa"/><stop offset="0.5205" stop-color="#ffffff"/><stop offset="0.6107" stop-color="#f2f0fc"/><stop offset="0.7172" stop-color="#ffffff"/><stop offset="0.7336" stop-color="#fefbfb"/><stop offset="0.7746" stop-color="#fce8e8"/><stop offset="0.7992" stop-color="#fdeded"/><stop offset="0.8320" stop-color="#fffefe"/><stop offset="0.8402" stop-color="#f7f6fd"/><stop offset="0.8484" stop-color="#ebe7fa"/><stop offset="0.8566" stop-color="#e3def8"/><stop offset="0.8730" stop-color="#e0dbf7"/><stop offset="0.9303" stop-color="#eeebfb"/><stop offset="0.9959" stop-color="#f2effc"/></linearGradient>
<linearGradient id="ga54" gradientUnits="userSpaceOnUse" x1="0" y1="0" x2="0" y2="122"><stop offset="0.0041" stop-color="#fefafa"/><stop offset="0.4303" stop-color="#fefafa"/><stop offset="0.5205" stop-color="#ffffff"/><stop offset="0.6107" stop-color="#f2f0fc"/><stop offset="0.7172" stop-color="#ffffff"/><stop offset="0.7336" stop-color="#fffbfb"/><stop offset="0.7746" stop-color="#fceaea"/><stop offset="0.7992" stop-color="#fdefef"/><stop offset="0.8320" stop-color="#fefeff"/><stop offset="0.8484" stop-color="#e8e4f9"/><stop offset="0.8566" stop-color="#e2ddf8"/><stop offset="0.8648" stop-color="#e0dbf7"/><stop offset="0.8811" stop-color="#e1ddf8"/><stop offset="0.9303" stop-color="#eeecfb"/><stop offset="0.9959" stop-color="#f2effc"/></linearGradient>
<linearGradient id="ga55" gradientUnits="userSpaceOnUse" x1="0" y1="0" x2="0" y2="122"><stop offset="0.0041" stop-color="#fefafa"/><stop offset="0.4303" stop-color="#fefafa"/><stop offset="0.5205" stop-color="#ffffff"/><stop offset="0.6107" stop-color="#f1effc"/><stop offset="0.7172" stop-color="#ffffff"/><stop offset="0.7336" stop-color="#fffcfc"/><stop offset="0.7746" stop-color="#fcebeb"/><stop offset="0.7992" stop-color="#fdf0f0"/><stop offset="0.8238" stop-color="#fffcfc"/><stop offset="0.8320" stop-color="#fcfbfe"/><stop offset="0.8484" stop-color="#e6e1f9"/><stop offset="0.8648" stop-color="#e0daf7"/><stop offset="0.9303" stop-color="#efecfb"/><stop offset="0.9959" stop-color="#f2effc"/></linearGradient>
<linearGradient id="ga56" gradientUnits="userSpaceOnUse" x1="0" y1="0" x2="0" y2="122"><stop offset="0.0041" stop-color="#fefafa"/><stop offset="0.4303" stop-color="#fefafa"/><stop offset="0.5205" stop-color="#ffffff"/><stop offset="0.6107" stop-color="#f1effc"/><stop offset="0.7172" stop-color="#ffffff"/><stop offset="0.7336" stop-color="#fffcfc"/><stop offset="0.7746" stop-color="#fcecec"/><stop offset="0.7910" stop-color="#fdeeee"/><stop offset="0.8238" stop-color="#fffefe"/><stop offset="0.8320" stop-color="#f9f8fe"/><stop offset="0.8484" stop-color="#e4dff8"/><stop offset="0.8648" stop-color="#e0daf7"/><stop offset="0.9221" stop-color="#eeebfb"/><stop offset="0.9959" stop-color="#f2f0fc"/></linearGradient>
<linearGradient id="ga57" gradientUnits="userSpaceOnUse" x1="0" y1="0" x2="0" y2="122"><stop offset="0.0041" stop-color="#fefafa"/><stop offset="0.4303" stop-color="#fefafa"/><stop offset="0.5205" stop-color="#ffffff"/><stop offset="0.6107" stop-color="#f1effc"/><stop offset="0.7172" stop-color="#ffffff"/><stop offset="0.7336" stop-color="#fffdfd"/><stop offset="0.7746" stop-color="#fceded"/><stop offset="0.7910" stop-color="#fdeeee"/><stop offset="0.8238" stop-color="#ffffff"/><stop offset="0.8320" stop-color="#f6f5fd"/><stop offset="0.8402" stop-color="#eae6fa"/><stop offset="0.8484" stop-color="#e2def8"/><stop offset="0.8648" stop-color="#e0dbf7"/><stop offset="0.9221" stop-color="#eeebfb"/><stop offset="0.9959" stop-color="#f2f0fc"/></linearGradient>
<linearGradient id="ga58" gradientUnits="userSpaceOnUse" x1="0" y1="0" x2="0" y2="122"><stop offset="0.0041" stop-color="#fefafa"/><stop offset="0.4303" stop-color="#fefafa"/><stop offset="0.5205" stop-color="#ffffff"/><stop offset="0.6107" stop-color="#f1effb"/><stop offset="0.7172" stop-color="#ffffff"/><stop offset="0.7336" stop-color="#fffdfd"/><stop offset="0.7746" stop-color="#fceded"/><stop offset="0.7910" stop-color="#fdefef"/><stop offset="0.8156" stop-color="#fffcfc"/><stop offset="0.8238" stop-color="#fcfcfe"/><stop offset="0.8402" stop-color="#e6e2f9"/><stop offset="0.8566" stop-color="#e0daf7"/><stop offset="0.9221" stop-color="#efecfb"/><stop offset="0.9959" stop-color="#f2f0fc"/></linearGradient>
<linearGradient id="ga59" gradientUnits="userSpaceOnUse" x1="0" y1="0" x2="0" y2="122"><stop offset="0.0041" stop-color="#fefafa"/><stop offset="0.4303" stop-color="#fefafa"/><stop offset="0.5205" stop-color="#fffeff"/><stop offset="0.6107" stop-color="#f1eefb"/><stop offset="0.7254" stop-color="#ffffff"/><stop offset="0.7746" stop-color="#fceded"/><stop offset="0.7910" stop-color="#fdf0f0"/><stop offset="0.8156" stop-color="#fffdfd"/><stop offset="0.8238" stop-color="#faf9fe"/><stop offset="0.8402" stop-color="#e4e0f8"/><stop offset="0.8566" stop-color="#e0daf7"/><stop offset="0.9221" stop-color="#efecfb"/><stop offset="0.9959" stop-color="#f2f0fc"/></linearGradient>
<linearGradient id="ga60" gradientUnits="userSpaceOnUse" x1="0" y1="0" x2="0" y2="122"><stop offset="0.0041" stop-color="#fefafa"/><stop offset="0.4303" stop-color="#fefafa"/><stop offset="0.5205" stop-color="#fffeff"/><stop offset="0.6107" stop-color="#f1eefb"/><stop offset="0.7254" stop-color="#ffffff"/><stop offset="0.7746" stop-color="#fdeded"/><stop offset="0.7910" stop-color="#fdf1f1"/><stop offset="0.8156" stop-color="#ffffff"/><stop offset="0.8238" stop-color="#f7f6fd"/><stop offset="0.8320" stop-color="#ebe8fa"/><stop offset="0.8402" stop-color="#e3def8"/><stop offset="0.8566" stop-color="#e0daf7"/><stop offset="0.9139" stop-color="#eeebfb"/><stop offset="0.9959" stop-color="#f2f0fc"/></linearGradient>
<linearGradient id="ga61" gradientUnits="userSpaceOnUse" x1="0" y1="0" x2="0" y2="122"><stop offset="0.0041" stop-color="#fefafa"/><stop offset="0.4303" stop-color="#fefafa"/><stop offset="0.5205" stop-color="#fffeff"/><stop offset="0.6107" stop-color="#f1eefb"/><stop offset="0.7254" stop-color="#ffffff"/><stop offset="0.7746" stop-color="#fdeded"/><stop offset="0.7910" stop-color="#fdf2f2"/><stop offset="0.8156" stop-color="#fefeff"/><stop offset="0.8320" stop-color="#e8e4f9"/><stop offset="0.8402" stop-color="#e2ddf8"/><stop offset="0.8484" stop-color="#e0dbf7"/><stop offset="0.8648" stop-color="#e1dcf8"/><stop offset="0.9139" stop-color="#eeecfb"/><stop offset="0.9959" stop-color="#f2f0fc"/></linearGradient>
<linearGradient id="ga62" gradientUnits="userSpaceOnUse" x1="0" y1="0" x2="0" y2="122"><stop offset="0.0041" stop-color="#fefafa"/><stop offset="0.4303" stop-color="#fefafa"/><stop offset="0.5205" stop-color="#fffeff"/><stop offset="0.6107" stop-color="#f1eefb"/><stop offset="0.7254" stop-color="#ffffff"/><stop offset="0.7746" stop-color="#fdeeee"/><stop offset="0.7828" stop-color="#fdefef"/><stop offset="0.8074" stop-color="#fffcfc"/><stop offset="0.8156" stop-color="#fcfcfe"/><stop offset="0.8320" stop-color="#e6e2f9"/><stop offset="0.8484" stop-color="#e0daf7"/><stop offset="0.9139" stop-color="#efecfb"/><stop offset="0.9959" stop-color="#f2f0fc"/></linearGradient>
<linearGradient id="ga63" gradientUnits="userSpaceOnUse" x1="0" y1="0" x2="0" y2="122"><stop offset="0.0041" stop-color="#fefafa"/><stop offset="0.4303" stop-color="#fefafa"/><stop offset="0.5205" stop-color="#fffeff"/><stop offset="0.6107" stop-color="#f1eefb"/><stop offset="0.7254" stop-color="#ffffff"/><stop offset="0.7746" stop-color="#fdeeee"/><stop offset="0.7910" stop-color="#fdf3f3"/><stop offset="0.8074" stop-color="#fffdfd"/><stop offset="0.8156" stop-color="#faf9fe"/><stop offset="0.8320" stop-color="#e4e0f8"/><stop offset="0.8484" stop-color="#e0daf7"/><stop offset="0.9139" stop-color="#efecfb"/><stop offset="0.9959" stop-color="#f2f0fc"/></linearGradient>
<linearGradient id="ga64" gradientUnits="userSpaceOnUse" x1="0" y1="0" x2="0" y2="122"><stop offset="0.0041" stop-color="#fefafa"/><stop offset="0.4303" stop-color="#fefafa"/><stop offset="0.5205" stop-color="#fffeff"/><stop offset="0.6107" stop-color="#f1eefb"/><stop offset="0.7254" stop-color="#ffffff"/><stop offset="0.7746" stop-color="#fdeeee"/><stop offset="0.7910" stop-color="#fdf3f3"/><stop offset="0.8074" stop-color="#fffefe"/><stop offset="0.8156" stop-color="#f7f6fd"/><stop offset="0.8238" stop-color="#ebe7fa"/><stop offset="0.8320" stop-color="#e3def8"/><stop offset="0.8484" stop-color="#e0dbf7"/><stop offset="0.9139" stop-color="#efecfb"/><stop offset="0.9959" stop-color="#f2f0fc"/></linearGradient>
<linearGradient id="ga65" gradientUnits="userSpaceOnUse" x1="0" y1="0" x2="0" y2="122"><stop offset="0.0041" stop-color="#fefafa"/><stop offset="0.4303" stop-color="#fefafa"/><stop offset="0.5205" stop-color="#fffeff"/><stop offset="0.6107" stop-color="#f1eefb"/><stop offset="0.7254" stop-color="#ffffff"/><stop offset="0.7746" stop-color="#fdefef"/><stop offset="0.7910" stop-color="#fdf4f4"/><stop offset="0.8074" stop-color="#fffeff"/><stop offset="0.8238" stop-color="#e8e4f9"/><stop offset="0.8320" stop-color="#e2ddf8"/><stop offset="0.8402" stop-color="#e0dbf7"/><stop offset="0.8566" stop-color="#e1dcf8"/><stop offset="0.9057" stop-color="#eeecfb"/><stop offset="0.9959" stop-color="#f2f0fc"/></linearGradient>
<linearGradient id="ga66" gradientUnits="userSpaceOnUse" x1="0" y1="0" x2="0" y2="122"><stop offset="0.0041" stop-color="#fefafa"/><stop offset="0.4303" stop-color="#fefafa"/><stop offset="0.5205" stop-color="#fffeff"/><stop offset="0.6107" stop-color="#f1eefb"/><stop offset="0.7254" stop-color="#ffffff"/><stop offset="0.7746" stop-color="#fdefef"/><stop offset="0.8074" stop-color="#fdfdff"/><stop offset="0.8238" stop-color="#e6e2f9"/><stop offset="0.8402" stop-color="#e0daf7"/><stop offset="0.9057" stop-color="#efecfb"/><stop offset="0.9959" stop-color="#f2f0fc"/></linearGradient>
<linearGradient id="ga67" gradientUnits="userSpaceOnUse" x1="0" y1="0" x2="0" y2="122"><stop offset="0.0041" stop-color="#fefafa"/><stop offset="0.4303" stop-color="#fefafa"/><stop offset="0.5205" stop-color="#fffeff"/><stop offset="0.6107" stop-color="#f1eefb"/><stop offset="0.7254" stop-color="#ffffff"/><stop offset="0.7746" stop-color="#fdf0f0"/><stop offset="0.7992" stop-color="#fefafa"/><stop offset="0.8074" stop-color="#fbfbfe"/><stop offset="0.8238" stop-color="#e4e0f8"/><stop offset="0.8402" stop-color="#e0daf7"/><stop offset="0.9057" stop-color="#efecfb"/><stop offset="0.9959" stop-color="#f2f0fc"/></linearGradient>
<linearGradient id="gb0" gradientUnits="userSpaceOnUse" x1="0" y1="122" x2="0" y2="244"><stop offset="0.0041" stop-color="#ffffff"/><stop offset="0.3238" stop-color="#fffcfc"/><stop offset="0.4795" stop-color="#ffffff"/><stop offset="0.6025" stop-color="#f2f0fc"/><stop offset="0.6844" stop-color="#fdfdfe"/><stop offset="0.7336" stop-color="#ffffff"/><stop offset="0.7500" stop-color="#fffdfd"/><stop offset="0.7582" stop-color="#fef7f7"/><stop offset="0.7746" stop-color="#fbe4e4"/><stop offset="0.7828" stop-color="#fadede"/><stop offset="0.7910" stop-color="#fbe2e2"/><stop offset="0.8074" stop-color="#fef7f7"/><stop offset="0.8156" stop-color="#fefeff"/><stop offset="0.8320" stop-color="#f0edfb"/><stop offset="0.8484" stop-color="#eae7fa"/><stop offset="0.8975" stop-color="#e7e3f9"/><stop offset="0.9959" stop-color="#e7e2f9"/></linearGradient>
<linearGradient id="gb1" gradientUnits="userSpaceOnUse" x1="0" y1="122" x2="0" y2="244"><stop offset="0.0041" stop-color="#ffffff"/><stop offset="0.3238" stop-color="#fffcfc"/><stop offset="0.4795" stop-color="#ffffff"/><stop offset="0.6025" stop-color="#f2f0fc"/><stop offset="0.6844" stop-color="#fdfdfe"/><stop offset="0.7336" stop-color="#ffffff"/><stop offset="0.7500" stop-color="#fffcfc"/><stop offset="0.7582" stop-color="#fef7f7"/><stop offset="0.7746" stop-color="#fbe0e0"/><stop offset="0.7828" stop-color="#fadada"/><stop offset="0.7910" stop-color="#fadede"/><stop offset="0.8156" stop-color="#ffffff"/><stop offset="0.8320" stop-color="#f0edfb"/><stop offset="0.8484" stop-color="#eae7fa"/><stop offset="0.8975" stop-color="#e7e3f9"/><stop offset="0.9959" stop-color="#e7e2f9"/></linearGradient>
<linearGradient id="gb2" gradientUnits="userSpaceOnUse" x1="0" y1="122" x2="0" y2="244"><stop offset="0.0041" stop-color="#ffffff"/><stop offset="0.3238" stop-color="#fffcfc"/><stop offset="0.4795" stop-color="#ffffff"/><stop offset="0.6025" stop-color="#f2f0fc"/><stop offset="0.6844" stop-color="#fdfdfe"/><stop offset="0.7336" stop-color="#ffffff"/><stop offset="0.7500" stop-color="#fffcfc"/><stop offset="0.7582" stop-color="#fef7f7"/><stop offset="0.7746" stop-color="#fbe0e0"/><stop offset="0.7828" stop-color="#f9d7d7"/><stop offset="0.7910" stop-color="#fadada"/><stop offset="0.8156" stop-color="#fffefe"/><stop offset="0.8320" stop-color="#f1eefb"/><stop offset="0.8484" stop-color="#ebe7fa"/><stop offset="0.8975" stop-color="#e7e3f9"/><stop offset="0.9959" stop-color="#e7e2f9"/></linearGradient>
<linearGradient id="gb3" gradientUnits="userSpaceOnUse" x1="0" y1="122" x2="0" y2="244"><stop offset="0.0041" stop-color="#ffffff"/><stop offset="0.3238" stop-color="#fffcfc"/><stop offset="0.4795" stop-color="#ffffff"/><stop offset="0.6025" stop-color="#f2f0fc"/><stop offset="0.6844" stop-color="#fdfdfe"/><stop offset="0.7336" stop-color="#ffffff"/><stop offset="0.7500" stop-color="#fffdfd"/><stop offset="0.7582" stop-color="#fef8f8"/><stop offset="0.7828" stop-color="#f9d6d6"/><stop offset="0.7910" stop-color="#f9d6d6"/><stop offset="0.8156" stop-color="#fefbfb"/><stop offset="0.8238" stop-color="#faf9fe"/><stop offset="0.8402" stop-color="#edeafa"/><stop offset="0.8566" stop-color="#eae6fa"/><stop offset="0.9959" stop-color="#e7e2f9"/></linearGradient>
<linearGradient id="gb4" gradientUnits="userSpaceOnUse" x1="0" y1="122" x2="0" y2="244"><stop offset="0.0041" stop-color="#ffffff"/><stop offset="0.3238" stop-color="#fffcfc"/><stop offset="0.4795" stop-color="#ffffff"/><stop offset="0.6025" stop-color="#f2f0fc"/><stop offset="0.6844" stop-color="#fdfdfe"/><stop offset="0.7336" stop-color="#ffffff"/><stop offset="0.7500" stop-color="#fffdfd"/><stop offset="0.7582" stop-color="#fef9f9"/><stop offset="0.7664" stop-color="#fdefef"/><stop offset="0.7828" stop-color="#f9d5d5"/><stop offset="0.7910" stop-color="#f9d4d4"/><stop offset="0.8156" stop-color="#fef9f9"/><stop offset="0.8238" stop-color="#fbfbfe"/><stop offset="0.8402" stop-color="#eeebfb"/><stop offset="0.8566" stop-color="#eae6fa"/><stop offset="0.9959" stop-color="#e7e2f9"/></linearGradient>
<linearGradient id="gb5" gradientUnits="userSpaceOnUse" x1="0" y1="122" x2="0" y2="244"><stop offset="0.0041" stop-color="#ffffff"/><stop offset="0.3238" stop-color="#fffcfc"/><stop offset="0.4795" stop-color="#ffffff"/><stop offset="0.6025" stop-color="#f2f0fc"/><stop offset="0.6844" stop-color="#fdfdfe"/><stop offset="0.7418" stop-color="#fffefe"/><stop offset="0.7582" stop-color="#fef9f9"/><stop offset="0.7664" stop-color="#fdf0f0"/><stop offset="0.7828" stop-color="#f9d4d4"/><stop offset="0.7910" stop-color="#f8d0d0"/><stop offset="0.7992" stop-color="#fadada"/><stop offset="0.8156" stop-color="#fef7f7"/><stop offset="0.8238" stop-color="#fdfdfe"/><stop offset="0.8402" stop-color="#eeebfb"/><stop offset="0.8566" stop-color="#eae7fa"/><stop offset="0.9057" stop-color="#e7e3f9"/><stop offset="0.9959" stop-color="#e7e2f9"/></linearGradient>
<linearGradient id="gb6" gradientUnits="userSpaceOnUse" x1="0" y1="122" x2="0" y2="244"><stop offset="0.0041" stop-color="#ffffff"/><stop offset="0.3238" stop-color="#fffcfc"/><stop offset="0.4795" stop-color="#ffffff"/><stop offset="0.6025" stop-color="#f2f0fc"/><stop offset="0.6844" stop-color="#fdfdfe"/><stop offset="0.7418" stop-color="#fffefe"/><stop offset="0.7582" stop-color="#fef9f9"/><stop offset="0.7664" stop-color="#fdf1f1"/><stop offset="0.7828" stop-color="#f9d3d3"/><stop offset="0.7910" stop-color="#f8cdcd"/><stop offset="0.7992" stop-color="#f9d5d5"/><stop offset="0.8156" stop-color="#fef4f4"/><stop offset="0.8238" stop-color="#fffeff"/><stop offset="0.8402" stop-color="#efecfb"/><stop offset="0.8566" stop-color="#eae7fa"/><stop offset="0.9057" stop-color="#e7e3f9"/><stop offset="0.9959" stop-color="#e7e2f9"/></linearGradient>
<linearGradient id="gb7" gradientUnits="userSpaceOnUse" x1="0" y1="122" x2="0" y2="244"><stop offset="0.0041" stop-color="#ffffff"/><stop offset="0.3238" stop-color="#fffcfc"/><stop offset="0.4795" stop-color="#ffffff"/><stop offset="0.6025" stop-color="#f2f0fc"/><stop offset="0.6844" stop-color="#fdfdfe"/><stop offset="0.7418" stop-color="#fffefe"/><stop offset="0.7582" stop-color="#fefafa"/><stop offset="0.7664" stop-color="#fdf1f1"/><stop offset="0.7828" stop-color="#f9d2d2"/><stop offset="0.7910" stop-color="#f7c9c9"/><stop offset="0.7992" stop-color="#f8d0d0"/><stop offset="0.8156" stop-color="#fdf1f1"/><stop offset="0.8238" stop-color="#fffdfd"/><stop offset="0.8402" stop-color="#f0edfb"/><stop offset="0.8566" stop-color="#eae7fa"/><stop offset="0.9057" stop-color="#e7e3f9"/><stop offset="0.9959" stop-color="#e7e2f9"/></linearGradient>
<linearGradient id="gb8" gradientUnits="userSpaceOnUse" x1="0" y1="122" x2="0" y2="244"><stop offset="0.0041" stop-color="#ffffff"/><stop offset="0.3238" stop-color="#fffcfc"/><stop offset="0.4795" stop-color="#ffffff"/><stop offset="0.6025" stop-color="#f2f0fc"/><stop offset="0.6844" stop-color="#fdfdfe"/><stop offset="0.7418" stop-color="#fffefe"/><stop offset="0.7582" stop-color="#fefafa"/><stop offset="0.7664" stop-color="#fdf1f1"/><stop offset="0.7828" stop-color="#f8d1d1"/><stop offset="0.7910" stop-color="#f6c5c5"/><stop offset="0.7992" stop-color="#f7caca"/><stop offset="0.8156" stop-color="#fceded"/><stop offset="0.8238" stop-color="#fefafa"/><stop offset="0.8320" stop-color="#f9f8fe"/><stop offset="0.8402" stop-color="#f1effb"/><stop offset="0.8566" stop-color="#ebe7fa"/><stop offset="0.9057" stop-color="#e7e3f9"/><stop offset="0.9959" stop-color="#e7e2f9"/></linearGradient>
<linearGradient id="gb9" gradientUnits="userSpaceOnUse" x1="0" y1="122" x2="0" y2="244"><stop offset="0.0041" stop-color="#ffffff"/><stop offset="0.3238" stop-color="#fffcfc"/><stop offset="0.4795" stop-color="#ffffff"/><stop offset="0.6025" stop-color="#f3f0fc"/><stop offset="0.6844" stop-color="#fdfdfe"/><stop offset="0.7418" stop-color="#fffefe"/><stop offset="0.7582" stop-color="#fefafa"/><stop offset="0.7664" stop-color="#fdf2f2"/><stop offset="0.7910" stop-color="#f6c1c1"/><stop offset="0.7992" stop-color="#f6c3c3"/><stop offset="0.8238" stop-color="#fef7f7"/><stop offset="0.8320" stop-color="#fbfbfe"/><stop offset="0.8402" stop-color="#f2f0fc"/><stop offset="0.8484" stop-color="#edeafb"/><stop offset="0.8648" stop-color="#eae6fa"/><stop offset="0.9959" stop-color="#e7e2f9"/></linearGradient>
<linearGradient id="gb10" gradientUnits="userSpaceOnUse" x1="0" y1="122" x2="0" y2="244"><stop offset="0.0041" stop-color="#ffffff"/><stop offset="0.3238" stop-color="#fffcfc"/><stop offset="0.4795" stop-color="#ffffff"/><stop offset="0.6107" stop-color="#f3f1fc"/><stop offset="0.6844" stop-color="#fdfdfe"/><stop offset="0.7418" stop-color="#ffffff"/><stop offset="0.7582" stop-color="#fefafa"/><stop offset="0.7664" stop-color="#fdf2f2"/><stop offset="0.7746" stop-color="#fbe3e3"/><stop offset="0.7910" stop-color="#f5bdbd"/><stop offset="0.7992" stop-color="#f5bcbc"/><stop offset="0.8074" stop-color="#f8cbcb"/><stop offset="0.8238" stop-color="#fdf2f2"/><stop offset="0.8320" stop-color="#fefeff"/><stop offset="0.8402" stop-color="#f4f2fc"/><stop offset="0.8484" stop-color="#eeebfb"/><stop offset="0.8648" stop-color="#eae6fa"/><stop offset="0.9959" stop-color="#e7e2f9"/></linearGradient>
<linearGradient id="gb11" gradientUnits="userSpaceOnUse" x1="0" y1="122" x2="0" y2="244"><stop offset="0.0041" stop-color="#ffffff"/><stop offset="0.3320" stop-color="#fffcfc"/><stop offset="0.4877" stop-color="#ffffff"/><stop offset="0.6107" stop-color="#f3f1fc"/><stop offset="0.6844" stop-color="#fdfcfe"/><stop offset="0.7418" stop-color="#ffffff"/><stop offset="0.7582" stop-color="#fefafa"/><stop offset="0.7664" stop-color="#fdf3f3"/><stop offset="0.7746" stop-color="#fbe4e4"/><stop offset="0.7910" stop-color="#f4b9b9"/><stop offset="0.7992" stop-color="#f3b4b4"/><stop offset="0.8074" stop-color="#f6c2c2"/><stop offset="0.8238" stop-color="#fcecec"/><stop offset="0.8320" stop-color="#fffcfc"/><stop offset="0.8484" stop-color="#efecfb"/><stop offset="0.8648" stop-color="#eae7fa"/><stop offset="0.9057" stop-color="#e7e3f9"/><stop offset="0.9959" stop-color="#e7e2f9"/></linearGradient>
<linearGradient id="gb12" gradientUnits="userSpaceOnUse" x1="0" y1="122" x2="0" y2="244"><stop offset="0.0041" stop-color="#ffffff"/><stop offset="0.3320" stop-color="#fffcfc"/><stop offset="0.4877" stop-color="#ffffff"/><stop offset="0.6107" stop-color="#f3f1fc"/><stop offset="0.6926" stop-color="#fdfdff"/><stop offset="0.7418" stop-color="#ffffff"/><stop offset="0.7582" stop-color="#fefbfb"/><stop offset="0.7664" stop-color="#fdf4f4"/><stop offset="0.7746" stop-color="#fbe5e5"/><stop offset="0.7910" stop-color="#f4b7b7"/><stop offset="0.7992" stop-color="#f2adad"/><stop offset="0.8074" stop-color="#f4b8b8"/><stop offset="0.8238" stop-color="#fbe5e5"/><stop offset="0.8320" stop-color="#fef6f6"/><stop offset="0.8402" stop-color="#faf9fe"/><stop offset="0.8484" stop-color="#f1eefb"/><stop offset="0.8566" stop-color="#ece9fa"/><stop offset="0.8730" stop-color="#e9e6fa"/><stop offset="0.9959" stop-color="#e7e2f9"/></linearGradient>
<linearGradient id="gb13" gradientUnits="userSpaceOnUse" x1="0" y1="122" x2="0" y2="244"><stop offset="0.0041" stop-color="#ffffff"/><stop offset="0.3238" stop-color="#fffcfc"/><stop offset="0.4877" stop-color="#ffffff"/><stop offset="0.6107" stop-color="#f3f1fc"/><stop offset="0.7008" stop-color="#fefdff"/><stop offset="0.7500" stop-color="#fffefe"/><stop offset="0.7664" stop-color="#fef5f5"/><stop offset="0.7746" stop-color="#fce7e7"/><stop offset="0.7910" stop-color="#f4b5b5"/><stop offset="0.7992" stop-color="#f1a6a6"/><stop offset="0.8074" stop-color="#f2adad"/><stop offset="0.8238" stop-color="#fadcdc"/><stop offset="0.8320" stop-color="#fdefef"/><stop offset="0.8402" stop-color="#fefeff"/><stop offset="0.8484" stop-color="#f3f1fc"/><stop offset="0.8566" stop-color="#edeafb"/><stop offset="0.8730" stop-color="#eae6fa"/><stop offset="0.9959" stop-color="#e7e2f9"/></linearGradient>
<linearGradient id="gb14" gradientUnits="userSpaceOnUse" x1="0" y1="122" x2="0" y2="244"><stop offset="0.0041" stop-color="#ffffff"/><stop offset="0.3320" stop-color="#fffcfc"/><stop offset="0.4959" stop-color="#ffffff"/><stop offset="0.6189" stop-color="#f4f2fc"/><stop offset="0.7008" stop-color="#fdfdff"/><stop offset="0.7500" stop-color="#fffefe"/><stop offset="0.7664" stop-color="#fef6f6"/><stop offset="0.7746" stop-color="#fce9e9"/><stop offset="0.7828" stop-color="#f9d2d2"/><stop offset="0.7910" stop-color="#f4b5b5"/><stop offset="0.7992" stop-color="#f0a1a1"/><stop offset="0.8074" stop-color="#f0a2a2"/><stop offset="0.8156" stop-color="#f4b6b6"/><stop offset="0.8238" stop-color="#f8d1d1"/><stop offset="0.8320" stop-color="#fce7e7"/><stop offset="0.8402" stop-color="#fefbfb"/><stop offset="0.8566" stop-color="#efecfb"/><stop offset="0.8730" stop-color="#eae6fa"/><stop offset="0.9959" stop-color="#e7e3f9"/></linearGradient>
<linearGradient id="gb15" gradientUnits="userSpaceOnUse" x1="0" y1="122" x2="0" y2="244"><stop offset="0.0041" stop-color="#ffffff"/><stop offset="0.3238" stop-color="#fffcfc"/><stop offset="0.4959" stop-color="#ffffff"/><stop offset="0.6270" stop-color="#f4f2fc"/><stop offset="0.7008" stop-color="#fdfdff"/><stop offset="0.7500" stop-color="#fffefe"/><stop offset="0.7664" stop-color="#fef9f9"/><stop offset="0.7746" stop-color="#fdeeee"/><stop offset="0.7828" stop-color="#fadada"/><stop offset="0.7992" stop-color="#f09f9f"/><stop offset="0.8074" stop-color="#ed9292"/><stop offset="0.8156" stop-color="#f09e9e"/><stop offset="0.8320" stop-color="#fadada"/><stop offset="0.8402" stop-color="#fdf1f1"/><stop offset="0.8484" stop-color="#fcfbfe"/><stop offset="0.8566" stop-color="#f2effc"/><stop offset="0.8648" stop-color="#edeafa"/><stop offset="0.8811" stop-color="#e9e6fa"/><stop offset="0.9959" stop-color="#e7e3f9"/></linearGradient>
<linearGradient id="gb16" gradientUnits="userSpaceOnUse" x1="0" y1="122" x2="0" y2="244"><stop offset="0.0041" stop-color="#ffffff"/><stop offset="0.3320" stop-color="#fffcfc"/><stop offset="0.5041" stop-color="#ffffff"/><stop offset="0.6270" stop-color="#f5f3fc"/><stop offset="0.7090" stop-color="#fdfdff"/><stop offset="0.7582" stop-color="#fffefe"/><stop offset="0.7746" stop-color="#fdf4f4"/><stop offset="0.7828" stop-color="#fbe4e4"/><stop offset="0.7910" stop-color="#f7caca"/><stop offset="0.8074" stop-color="#eb8383"/><stop offset="0.8156" stop-color="#e97b7b"/><stop offset="0.8238" stop-color="#ef9999"/><stop offset="0.8320" stop-color="#f6c4c4"/><stop offset="0.8402" stop-color="#fbe3e3"/><stop offset="0.8484" stop-color="#fef9f9"/><stop offset="0.8566" stop-color="#f6f5fd"/><stop offset="0.8648" stop-color="#efecfb"/><stop offset="0.8811" stop-color="#eae7fa"/><stop offset="0.9959" stop-color="#e7e3f9"/></linearGradient>
<linearGradient id="gb17" gradientUnits="userSpaceOnUse" x1="0" y1="122" x2="0" y2="244"><stop offset="0.0041" stop-color="#ffffff"/><stop offset="0.3320" stop-color="#fffcfc"/><stop offset="0.5123" stop-color="#ffffff"/><stop offset="0.6352" stop-color="#f5f4fd"/><stop offset="0.7172" stop-color="#fefdff"/><stop offset="0.7582" stop-color="#fffefe"/><stop offset="0.7746" stop-color="#fef7f7"/><stop offset="0.7828" stop-color="#fcecec"/><stop offset="0.7910" stop-color="#fad8d8"/><stop offset="0.7992" stop-color="#f3b3b3"/><stop offset="0.8074" stop-color="#ea8080"/><stop offset="0.8156" stop-color="#e25353"/><stop offset="0.8238" stop-color="#e56262"/><stop offset="0.8320" stop-color="#f09e9e"/><stop offset="0.8402" stop-color="#f9d2d2"/><stop offset="0.8484" stop-color="#fdeded"/><stop offset="0.8566" stop-color="#fdfdff"/><stop offset="0.8648" stop-color="#f2f0fc"/><stop offset="0.8811" stop-color="#ebe8fa"/><stop offset="0.9221" stop-color="#e7e4f9"/><stop offset="0.9959" stop-color="#e7e3f9"/></linearGradient>
<linearGradient id="gb18" gradientUnits="userSpaceOnUse" x1="0" y1="122" x2="0" y2="244"><stop offset="0.0041" stop-color="#ffffff"/><stop offset="0.3320" stop-color="#fffcfc"/><stop offset="0.5205" stop-color="#ffffff"/><stop offset="0.6434" stop-color="#f6f5fd"/><stop offset="0.7254" stop-color="#fefeff"/><stop offset="0.7664" stop-color="#fffdfd"/><stop offset="0.7828" stop-color="#fdf2f2"/><stop offset="0.7910" stop-color="#fbe3e3"/><stop offset="0.7992" stop-color="#f6c5c5"/><stop offset="0.8074" stop-color="#ed8d8d"/><stop offset="0.8156" stop-color="#df4949"/><stop offset="0.8238" stop-color="#d93a3b"/><stop offset="0.8320" stop-color="#e56565"/><stop offset="0.8402" stop-color="#f3b4b4"/><stop offset="0.8484" stop-color="#fbe0e0"/><stop offset="0.8566" stop-color="#fef7f7"/><stop offset="0.8648" stop-color="#f7f6fd"/><stop offset="0.8730" stop-color="#f0edfb"/><stop offset="0.8893" stop-color="#eae7fa"/><stop offset="0.9959" stop-color="#e7e3f9"/></linearGradient>
<linearGradient id="gb19" gradientUnits="userSpaceOnUse" x1="0" y1="122" x2="0" y2="244"><stop offset="0.0041" stop-color="#ffffff"/><stop offset="0.3320" stop-color="#fffcfc"/><stop offset="0.5287" stop-color="#ffffff"/><stop offset="0.6516" stop-color="#f7f6fd"/><stop offset="0.7664" stop-color="#fffefe"/><stop offset="0.7828" stop-color="#fef6f6"/><stop offset="0.7910" stop-color="#fcecec"/><stop offset="0.7992" stop-color="#f9d7d7"/><stop offset="0.8074" stop-color="#f1a8a8"/><stop offset="0.8156" stop-color="#e35555"/><stop offset="0.8238" stop-color="#d42c2e"/><stop offset="0.8320" stop-color="#da3d3e"/><stop offset="0.8402" stop-color="#ec8c8c"/><stop offset="0.8484" stop-color="#f8cfcf"/><stop offset="0.8566" stop-color="#fdeded"/><stop offset="0.8648" stop-color="#fefeff"/><stop offset="0.8730" stop-color="#f3f1fc"/><stop offset="0.8893" stop-color="#ebe8fa"/><stop offset="0.9959" stop-color="#e7e4f9"/></linearGradient>
<linearGradient id="gb20" gradientUnits="userSpaceOnUse" x1="0" y1="122" x2="0" y2="244"><stop offset="0.0041" stop-color="#ffffff"/><stop offset="0.3320" stop-color="#fffcfc"/><stop offset="0.5369" stop-color="#ffffff"/><stop offset="0.6598" stop-color="#f8f7fd"/><stop offset="0.7582" stop-color="#ffffff"/><stop offset="0.7746" stop-color="#fffdfd"/><stop offset="0.7910" stop-color="#fdf2f2"/><stop offset="0.7992" stop-color="#fbe4e4"/><stop offset="0.8074" stop-color="#f7c6c6"/><stop offset="0.8156" stop-color="#eb8585"/><stop offset="0.8238" stop-color="#db3e3f"/><stop offset="0.8320" stop-color="#d73335"/><stop offset="0.8402" stop-color="#e66868"/><stop offset="0.8484" stop-color="#f4b9b9"/><stop offset="0.8566" stop-color="#fbe3e3"/><stop offset="0.8648" stop-color="#fef8f8"/><stop offset="0.8730" stop-color="#f8f7fd"/><stop offset="0.8811" stop-color="#f0eefb"/><stop offset="0.8975" stop-color="#ebe8fa"/><stop offset="0.9959" stop-color="#e8e4f9"/></linearGradient>
<linearGradient id="gb21" gradientUnits="userSpaceOnUse" x1="0" y1="122" x2="0" y2="244"><stop offset="0.0041" stop-color="#ffffff"/><stop offset="0.3320" stop-color="#fffcfc"/><stop offset="0.5451" stop-color="#ffffff"/><stop offset="0.6680" stop-color="#faf9fe"/><stop offset="0.7746" stop-color="#fffefe"/><stop offset="0.7910" stop-color="#fef6f6"/><stop offset="0.7992" stop-color="#fceded"/><stop offset="0.8074" stop-color="#fadbdb"/><stop offset="0.8156" stop-color="#f3b3b3"/><stop offset="0.8238" stop-color="#e77070"/><stop offset="0.8320" stop-color="#de4848"/><stop offset="0.8402" stop-color="#e45f5f"/><stop offset="0.8484" stop-color="#f1a5a5"/><stop offset="0.8566" stop-color="#f9d7d7"/><stop offset="0.8648" stop-color="#fdf0f0"/><stop offset="0.8730" stop-color="#fefeff"/><stop offset="0.8811" stop-color="#f4f2fc"/><stop offset="0.8975" stop-color="#edeafa"/><stop offset="0.9959" stop-color="#e9e5f9"/></linearGradient>
<linearGradient id="gb22" gradientUnits="userSpaceOnUse" x1="0" y1="122" x2="0" y2="244"><stop offset="0.0041" stop-color="#ffffff"/><stop offset="0.3320" stop-color="#fffcfc"/><stop offset="0.5533" stop-color="#ffffff"/><stop offset="0.6844" stop-color="#fbfafe"/><stop offset="0.7746" stop-color="#ffffff"/><stop offset="0.7910" stop-color="#fefafa"/><stop offset="0.7992" stop-color="#fdf3f3"/><stop offset="0.8074" stop-color="#fce8e8"/><stop offset="0.8156" stop-color="#f9d3d3"/><stop offset="0.8320" stop-color="#ea7c7c"/><stop offset="0.8402" stop-color="#e97878"/><stop offset="0.8484" stop-color="#f0a0a0"/><stop offset="0.8566" stop-color="#f8cccc"/><stop offset="0.8648" stop-color="#fce8e8"/><stop offset="0.8730" stop-color="#fef9f9"/><stop offset="0.8811" stop-color="#f9f9fe"/><stop offset="0.8893" stop-color="#f2f0fc"/><stop offset="0.9057" stop-color="#edeafb"/><stop offset="0.9959" stop-color="#eae7fa"/></linearGradient>
<linearGradient id="gb23" gradientUnits="userSpaceOnUse" x1="0" y1="122" x2="0" y2="244"><stop offset="0.0041" stop-color="#ffffff"/><stop offset="0.3320" stop-color="#fffcfc"/><stop offset="0.5697" stop-color="#ffffff"/><stop offset="0.6926" stop-color="#fcfbfe"/><stop offset="0.7746" stop-color="#ffffff"/><stop offset="0.7910" stop-color="#fffcfc"/><stop offset="0.8074" stop-color="#fdf0f0"/><stop offset="0.8156" stop-color="#fbe4e4"/><stop offset="0.8238" stop-color="#f8cece"/><stop offset="0.8320" stop-color="#f3afaf"/><stop offset="0.8402" stop-color="#ef9c9c"/><stop offset="0.8484" stop-color="#f1a8a8"/><stop offset="0.8648" stop-color="#fbe0e0"/><stop offset="0.8730" stop-color="#fdf2f2"/><stop offset="0.8811" stop-color="#ffffff"/><stop offset="0.8893" stop-color="#f6f5fd"/><stop offset="0.9057" stop-color="#f0edfb"/><stop offset="0.9959" stop-color="#ece9fa"/></linearGradient>
<linearGradient id="gb24" gradientUnits="userSpaceOnUse" x1="0" y1="122" x2="0" y2="244"><stop offset="0.0041" stop-color="#ffffff"/><stop offset="0.7828" stop-color="#ffffff"/><stop offset="0.7992" stop-color="#fefbfb"/><stop offset="0.8156" stop-color="#fdeeee"/><stop offset="0.8238" stop-color="#fbe2e2"/><stop offset="0.8402" stop-color="#f5bdbd"/><stop offset="0.8484" stop-color="#f4b9b9"/><stop offset="0.8566" stop-color="#f7c6c6"/><stop offset="0.8730" stop-color="#fceded"/><stop offset="0.8811" stop-color="#fefafa"/><stop offset="0.8893" stop-color="#fbfbfe"/><stop offset="0.8975" stop-color="#f5f4fd"/><stop offset="0.9139" stop-color="#f1effc"/><stop offset="0.9959" stop-color="#eeecfb"/></linearGradient>
<linearGradient id="gb25" gradientUnits="userSpaceOnUse" x1="0" y1="122" x2="0" y2="244"><stop offset="0.0041" stop-color="#ffffff"/><stop offset="0.7828" stop-color="#ffffff"/><stop offset="0.7992" stop-color="#fffdfd"/><stop offset="0.8156" stop-color="#fef5f5"/><stop offset="0.8238" stop-color="#fdeeee"/><stop offset="0.8484" stop-color="#f8cccc"/><stop offset="0.8566" stop-color="#f8cdcd"/><stop offset="0.8811" stop-color="#fef6f6"/><stop offset="0.8893" stop-color="#fffefe"/><stop offset="0.9139" stop-color="#f4f2fc"/><stop offset="0.9959" stop-color="#f1effc"/></linearGradient>
<linearGradient id="gb26" gradientUnits="userSpaceOnUse" x1="0" y1="122" x2="0" y2="244"><stop offset="0.0041" stop-color="#ffffff"/><stop offset="0.7910" stop-color="#ffffff"/><stop offset="0.8238" stop-color="#fef5f5"/><stop offset="0.8566" stop-color="#fadcdc"/><stop offset="0.8648" stop-color="#fadbdb"/><stop offset="0.8975" stop-color="#fffefe"/><stop offset="0.9221" stop-color="#f7f5fd"/><stop offset="0.9959" stop-color="#f4f3fc"/></linearGradient>
<linearGradient id="gb27" gradientUnits="userSpaceOnUse" x1="0" y1="122" x2="0" y2="244"><stop offset="0.0041" stop-color="#ffffff"/><stop offset="0.7910" stop-color="#ffffff"/><stop offset="0.8238" stop-color="#fef9f9"/><stop offset="0.8730" stop-color="#fce7e7"/><stop offset="0.9057" stop-color="#fffefe"/><stop offset="0.9303" stop-color="#f9f8fe"/><stop offset="0.9959" stop-color="#f7f6fd"/></linearGradient>
<linearGradient id="gb28" gradientUnits="userSpaceOnUse" x1="0" y1="122" x2="0" y2="244"><stop offset="0.0041" stop-color="#ffffff"/><stop offset="0.7910" stop-color="#ffffff"/><stop offset="0.8156" stop-color="#fffdfd"/><stop offset="0.8811" stop-color="#fdf0f0"/><stop offset="0.9221" stop-color="#fefeff"/><stop offset="0.9467" stop-color="#fbfafe"/><stop offset="0.9959" stop-color="#faf9fe"/></linearGradient>
<linearGradient id="gb29" gradientUnits="userSpaceOnUse" x1="0" y1="122" x2="0" y2="244"><stop offset="0.0041" stop-color="#ffffff"/><stop offset="0.7992" stop-color="#ffffff"/><stop offset="0.8975" stop-color="#fef6f6"/><stop offset="0.9303" stop-color="#ffffff"/><stop offset="0.9959" stop-color="#fcfbfe"/></linearGradient>
<linearGradient id="gb30" gradientUnits="userSpaceOnUse" x1="0" y1="122" x2="0" y2="244"><stop offset="0.0041" stop-color="#ffffff"/><stop offset="0.7992" stop-color="#ffffff"/><stop offset="0.8566" stop-color="#fffcfc"/><stop offset="0.8893" stop-color="#fffefe"/><stop offset="0.9221" stop-color="#fef9f9"/><stop offset="0.9549" stop-color="#ffffff"/><stop offset="0.9959" stop-color="#fdfdfe"/></linearGradient>
<linearGradient id="gb31" gradientUnits="userSpaceOnUse" x1="0" y1="122" x2="0" y2="244"><stop offset="0.0041" stop-color="#ffffff"/><stop offset="0.9139" stop-color="#ffffff"/><stop offset="0.9549" stop-color="#fffbfb"/><stop offset="0.9959" stop-color="#fefeff"/></linearGradient>
<linearGradient id="gb32" gradientUnits="userSpaceOnUse" x1="0" y1="122" x2="0" y2="244"><stop offset="0.0041" stop-color="#ffffff"/><stop offset="0.9959" stop-color="#ffffff"/></linearGradient>
<linearGradient id="gb33" gradientUnits="userSpaceOnUse" x1="0" y1="122" x2="0" y2="244"><stop offset="0.0041" stop-color="#ffffff"/><stop offset="0.9385" stop-color="#ffffff"/><stop offset="0.9959" stop-color="#f8f7fd"/></linearGradient>
<linearGradient id="gb34" gradientUnits="userSpaceOnUse" x1="0" y1="122" x2="0" y2="244"><stop offset="0.0041" stop-color="#ffffff"/><stop offset="0.8893" stop-color="#ffffff"/><stop offset="0.9385" stop-color="#f6f5fd"/><stop offset="0.9959" stop-color="#f4f3fc"/></linearGradient>
<linearGradient id="gb35" gradientUnits="userSpaceOnUse" x1="0" y1="122" x2="0" y2="244"><stop offset="0.0041" stop-color="#ffffff"/><stop offset="0.8484" stop-color="#ffffff"/><stop offset="0.9385" stop-color="#f1eefb"/><stop offset="0.9959" stop-color="#f2effc"/></linearGradient>
<linearGradient id="gb36" gradientUnits="userSpaceOnUse" x1="0" y1="122" x2="0" y2="244"><stop offset="0.0041" stop-color="#ffffff"/><stop offset="0.7992" stop-color="#ffffff"/><stop offset="0.9303" stop-color="#ebe8fa"/><stop offset="0.9631" stop-color="#ebe8fa"/><stop offset="0.9959" stop-color="#f0eefb"/></linearGradient>
<linearGradient id="gb37" gradientUnits="userSpaceOnUse" x1="0" y1="122" x2="0" y2="244"><stop offset="0.0041" stop-color="#ffffff"/><stop offset="0.5123" stop-color="#fffcfc"/><stop offset="0.7500" stop-color="#ffffff"/><stop offset="0.9303" stop-color="#e6e2f9"/><stop offset="0.9959" stop-color="#f0eefb"/></linearGradient>
<linearGradient id="gb38" gradientUnits="userSpaceOnUse" x1="0" y1="122" x2="0" y2="244"><stop offset="0.0041" stop-color="#ffffff"/><stop offset="0.5123" stop-color="#fefbfb"/><stop offset="0.7254" stop-color="#ffffff"/><stop offset="0.9139" stop-color="#e2ddf8"/><stop offset="0.9385" stop-color="#e4dff8"/><stop offset="0.9959" stop-color="#f1eefb"/></linearGradient>
<linearGradient id="gb39" gradientUnits="userSpaceOnUse" x1="0" y1="122" x2="0" y2="244"><stop offset="0.0041" stop-color="#ffffff"/><stop offset="0.5123" stop-color="#fefafa"/><stop offset="0.5779" stop-color="#fffefe"/><stop offset="0.7172" stop-color="#ffffff"/><stop offset="0.7992" stop-color="#f1effc"/><stop offset="0.8730" stop-color="#e0dbf7"/><stop offset="0.8975" stop-color="#ded8f7"/><stop offset="0.9221" stop-color="#e0dbf7"/><stop offset="0.9959" stop-color="#f1effc"/></linearGradient>
<linearGradient id="gb40" gradientUnits="userSpaceOnUse" x1="0" y1="122" x2="0" y2="244"><stop offset="0.0041" stop-color="#ffffff"/><stop offset="0.3156" stop-color="#fffdfd"/><stop offset="0.5123" stop-color="#fef8f8"/><stop offset="0.5779" stop-color="#fffefe"/><stop offset="0.7090" stop-color="#ffffff"/><stop offset="0.7910" stop-color="#efecfb"/><stop offset="0.8566" stop-color="#ddd7f7"/><stop offset="0.8811" stop-color="#dad4f6"/><stop offset="0.9057" stop-color="#dcd6f6"/><stop offset="0.9631" stop-color="#ece9fa"/><stop offset="0.9959" stop-color="#f2effc"/></linearGradient>
<linearGradient id="gb41" gradientUnits="userSpaceOnUse" x1="0" y1="122" x2="0" y2="244"><stop offset="0.0041" stop-color="#ffffff"/><stop offset="0.3156" stop-color="#fffdfd"/><stop offset="0.5123" stop-color="#fef7f7"/><stop offset="0.5779" stop-color="#fffdfd"/><stop offset="0.7008" stop-color="#ffffff"/><stop offset="0.7828" stop-color="#edeafa"/><stop offset="0.8484" stop-color="#dad4f6"/><stop offset="0.8730" stop-color="#d6d0f4"/><stop offset="0.8975" stop-color="#dad3f5"/><stop offset="0.9631" stop-color="#edeafb"/><stop offset="0.9959" stop-color="#f1effc"/></linearGradient>
<linearGradient id="gb42" gradientUnits="userSpaceOnUse" x1="0" y1="122" x2="0" y2="244"><stop offset="0.0041" stop-color="#ffffff"/><stop offset="0.3156" stop-color="#fffdfd"/><stop offset="0.5123" stop-color="#fef5f5"/><stop offset="0.5779" stop-color="#fffdfd"/><stop offset="0.7008" stop-color="#fefeff"/><stop offset="0.7254" stop-color="#f6f5fd"/><stop offset="0.7746" stop-color="#edeafa"/><stop offset="0.8402" stop-color="#d8d2f5"/><stop offset="0.8730" stop-color="#d3cdf3"/><stop offset="0.8975" stop-color="#d8d2f5"/><stop offset="0.9549" stop-color="#ebe8fa"/><stop offset="0.9959" stop-color="#f1eefb"/></linearGradient>
<linearGradient id="gb43" gradientUnits="userSpaceOnUse" x1="0" y1="122" x2="0" y2="244"><stop offset="0.0041" stop-color="#ffffff"/><stop offset="0.3156" stop-color="#fffcfc"/><stop offset="0.5123" stop-color="#fdf4f4"/><stop offset="0.5779" stop-color="#fffdfd"/><stop offset="0.6926" stop-color="#fffeff"/><stop offset="0.7172" stop-color="#f6f5fd"/><stop offset="0.7746" stop-color="#ebe7fa"/><stop offset="0.8402" stop-color="#d5cef4"/><stop offset="0.8648" stop-color="#d1caf2"/><stop offset="0.8893" stop-color="#d4cef4"/><stop offset="0.9549" stop-color="#ebe8fa"/><stop offset="0.9959" stop-color="#f0eefb"/></linearGradient>
<linearGradient id="gb44" gradientUnits="userSpaceOnUse" x1="0" y1="122" x2="0" y2="244"><stop offset="0.0041" stop-color="#ffffff"/><stop offset="0.3156" stop-color="#fffcfc"/><stop offset="0.5123" stop-color="#fdf2f2"/><stop offset="0.5697" stop-color="#fffcfc"/><stop offset="0.6844" stop-color="#ffffff"/><stop offset="0.7090" stop-color="#f6f5fd"/><stop offset="0.7664" stop-color="#ebe8fa"/><stop offset="0.8402" stop-color="#d2cbf3"/><stop offset="0.8648" stop-color="#cfc8f2"/><stop offset="0.8893" stop-color="#d4cef4"/><stop offset="0.9467" stop-color="#e9e6fa"/><stop offset="0.9959" stop-color="#f0eefb"/></linearGradient>
<linearGradient id="gb45" gradientUnits="userSpaceOnUse" x1="0" y1="122" x2="0" y2="244"><stop offset="0.0041" stop-color="#ffffff"/><stop offset="0.3156" stop-color="#fffcfc"/><stop offset="0.5123" stop-color="#fdf0f0"/><stop offset="0.5697" stop-color="#fffcfc"/><stop offset="0.6762" stop-color="#ffffff"/><stop offset="0.7008" stop-color="#f6f5fd"/><stop offset="0.7582" stop-color="#ebe8fa"/><stop offset="0.8320" stop-color="#d1cbf3"/><stop offset="0.8566" stop-color="#cdc6f1"/><stop offset="0.8811" stop-color="#d1caf3"/><stop offset="0.9467" stop-color="#eae6fa"/><stop offset="0.9959" stop-color="#f0edfb"/></linearGradient>
<linearGradient id="gb46" gradientUnits="userSpaceOnUse" x1="0" y1="122" x2="0" y2="244"><stop offset="0.0041" stop-color="#ffffff"/><stop offset="0.3156" stop-color="#fffcfc"/><stop offset="0.5123" stop-color="#fdeeee"/><stop offset="0.5697" stop-color="#fefbfb"/><stop offset="0.6680" stop-color="#fffefe"/><stop offset="0.6926" stop-color="#f7f5fd"/><stop offset="0.7582" stop-color="#eae6fa"/><stop offset="0.8320" stop-color="#cfc8f2"/><stop offset="0.8566" stop-color="#ccc5f1"/><stop offset="0.8811" stop-color="#d2cbf3"/><stop offset="0.9467" stop-color="#eae7fa"/><stop offset="0.9959" stop-color="#f0edfb"/></linearGradient>
<linearGradient id="gb47" gradientUnits="userSpaceOnUse" x1="0" y1="122" x2="0" y2="244"><stop offset="0.0041" stop-color="#ffffff"/><stop offset="0.3156" stop-color="#fefbfb"/><stop offset="0.5123" stop-color="#fcecec"/><stop offset="0.5697" stop-color="#fefbfb"/><stop offset="0.6598" stop-color="#fffefe"/><stop offset="0.6926" stop-color="#f5f3fc"/><stop offset="0.7500" stop-color="#eae7fa"/><stop offset="0.8238" stop-color="#cfc9f2"/><stop offset="0.8484" stop-color="#cbc4f0"/><stop offset="0.8730" stop-color="#cfc8f2"/><stop offset="0.9385" stop-color="#e9e5fa"/><stop offset="0.9959" stop-color="#efedfb"/></linearGradient>
<linearGradient id="gb48" gradientUnits="userSpaceOnUse" x1="0" y1="122" x2="0" y2="244"><stop offset="0.0041" stop-color="#ffffff"/><stop offset="0.3156" stop-color="#fefbfb"/><stop offset="0.5123" stop-color="#fcebeb"/><stop offset="0.5697" stop-color="#fefbfb"/><stop offset="0.6598" stop-color="#fefeff"/><stop offset="0.6844" stop-color="#f5f3fd"/><stop offset="0.7500" stop-color="#e9e5f9"/><stop offset="0.8238" stop-color="#cec7f1"/><stop offset="0.8484" stop-color="#cac3f0"/><stop offset="0.8730" stop-color="#d0c9f2"/><stop offset="0.9385" stop-color="#eae6fa"/><stop offset="0.9959" stop-color="#efedfb"/></linearGradient>
<linearGradient id="gb49" gradientUnits="userSpaceOnUse" x1="0" y1="122" x2="0" y2="244"><stop offset="0.0041" stop-color="#ffffff"/><stop offset="0.3156" stop-color="#fefbfb"/><stop offset="0.5123" stop-color="#fce9e9"/><stop offset="0.5697" stop-color="#fefafa"/><stop offset="0.6516" stop-color="#fffeff"/><stop offset="0.6762" stop-color="#f5f4fd"/><stop offset="0.7418" stop-color="#eae6fa"/><stop offset="0.8156" stop-color="#cec7f2"/><stop offset="0.8402" stop-color="#cac3f0"/><stop offset="0.8648" stop-color="#cec7f1"/><stop offset="0.9303" stop-color="#e9e5f9"/><stop offset="0.9549" stop-color="#edeafb"/><stop offset="0.9959" stop-color="#efedfb"/></linearGradient>
<linearGradient id="gb50" gradientUnits="userSpaceOnUse" x1="0" y1="122" x2="0" y2="244"><stop offset="0.0041" stop-color="#ffffff"/><stop offset="0.3156" stop-color="#fefafa"/><stop offset="0.5123" stop-color="#fce7e7"/><stop offset="0.5697" stop-color="#fefafa"/><stop offset="0.6434" stop-color="#ffffff"/><stop offset="0.6680" stop-color="#f5f4fd"/><stop offset="0.7418" stop-color="#e8e4f9"/><stop offset="0.8156" stop-color="#cdc6f1"/><stop offset="0.8402" stop-color="#c9c2f0"/><stop offset="0.8648" stop-color="#cfc8f2"/><stop offset="0.9057" stop-color="#e2ddf8"/><stop offset="0.9303" stop-color="#e9e6fa"/><stop offset="0.9959" stop-color="#efedfb"/></linearGradient>
<linearGradient id="gb51" gradientUnits="userSpaceOnUse" x1="0" y1="122" x2="0" y2="244"><stop offset="0.0041" stop-color="#ffffff"/><stop offset="0.3156" stop-color="#fefafa"/><stop offset="0.5123" stop-color="#fce6e6"/><stop offset="0.5697" stop-color="#fefafa"/><stop offset="0.6352" stop-color="#ffffff"/><stop offset="0.6598" stop-color="#f6f4fd"/><stop offset="0.7336" stop-color="#e9e6fa"/><stop offset="0.8074" stop-color="#cec7f1"/><stop offset="0.8320" stop-color="#c9c2f0"/><stop offset="0.8566" stop-color="#cdc6f1"/><stop offset="0.8975" stop-color="#dfdaf7"/><stop offset="0.9303" stop-color="#eae6fa"/><stop offset="0.9959" stop-color="#efedfb"/></linearGradient>
<linearGradient id="gb52" gradientUnits="userSpaceOnUse" x1="0" y1="122" x2="0" y2="244"><stop offset="0.0041" stop-color="#ffffff"/><stop offset="0.3156" stop-color="#fefafa"/><stop offset="0.4713" stop-color="#fbe6e6"/><stop offset="0.5123" stop-color="#fbe3e3"/><stop offset="0.5697" stop-color="#fefafa"/><stop offset="0.6270" stop-color="#fffeff"/><stop offset="0.6516" stop-color="#f6f4fd"/><stop offset="0.7336" stop-color="#e8e5f9"/><stop offset="0.8074" stop-color="#cdc6f1"/><stop offset="0.8320" stop-color="#c9c1f0"/><stop offset="0.8566" stop-color="#cdc6f1"/><stop offset="0.8975" stop-color="#e0dbf7"/><stop offset="0.9303" stop-color="#eae7fa"/><stop offset="0.9959" stop-color="#efecfb"/></linearGradient>
<linearGradient id="gb53" gradientUnits="userSpaceOnUse" x1="0" y1="122" x2="0" y2="244"><stop offset="0.0041" stop-color="#ffffff"/><stop offset="0.3156" stop-color="#fefafa"/><stop offset="0.3730" stop-color="#fdf4f4"/><stop offset="0.4713" stop-color="#fbe3e3"/><stop offset="0.5123" stop-color="#fbe1e1"/><stop offset="0.5287" stop-color="#fbe5e5"/><stop offset="0.5697" stop-color="#fef9f9"/><stop offset="0.6189" stop-color="#fffefe"/><stop offset="0.6434" stop-color="#f6f5fd"/><stop offset="0.7254" stop-color="#e9e6fa"/><stop offset="0.7992" stop-color="#cec7f2"/><stop offset="0.8320" stop-color="#c8c1ef"/><stop offset="0.8566" stop-color="#cec7f1"/><stop offset="0.8893" stop-color="#ded8f7"/><stop offset="0.9221" stop-color="#e9e5f9"/><stop offset="0.9549" stop-color="#eeebfb"/><stop offset="0.9959" stop-color="#efecfb"/></linearGradient>
<linearGradient id="gb54" gradientUnits="userSpaceOnUse" x1="0" y1="122" x2="0" y2="244"><stop offset="0.0041" stop-color="#ffffff"/><stop offset="0.3156" stop-color="#fef9f9"/><stop offset="0.3730" stop-color="#fdf3f3"/><stop offset="0.4713" stop-color="#fbe2e2"/><stop offset="0.5123" stop-color="#fbdfdf"/><stop offset="0.5287" stop-color="#fbe4e4"/><stop offset="0.5533" stop-color="#fdf3f3"/><stop offset="0.5697" stop-color="#fef9f9"/><stop offset="0.6189" stop-color="#fefdff"/><stop offset="0.6434" stop-color="#f5f3fc"/><stop offset="0.7254" stop-color="#e8e5f9"/><stop offset="0.7992" stop-color="#cdc6f1"/><stop offset="0.8238" stop-color="#c8c1ef"/><stop offset="0.8484" stop-color="#ccc5f1"/><stop offset="0.8893" stop-color="#dfdaf7"/><stop offset="0.9221" stop-color="#eae6fa"/><stop offset="0.9549" stop-color="#eeebfb"/><stop offset="0.9959" stop-color="#efecfb"/></linearGradient>
<linearGradient id="gb55" gradientUnits="userSpaceOnUse" x1="0" y1="122" x2="0" y2="244"><stop offset="0.0041" stop-color="#ffffff"/><stop offset="0.3156" stop-color="#fef9f9"/><stop offset="0.3730" stop-color="#fdf3f3"/><stop offset="0.4713" stop-color="#fbe1e1"/><stop offset="0.5123" stop-color="#fadede"/><stop offset="0.5287" stop-color="#fbe3e3"/><stop offset="0.5615" stop-color="#fef6f6"/><stop offset="0.6107" stop-color="#fefeff"/><stop offset="0.6352" stop-color="#f5f3fd"/><stop offset="0.7172" stop-color="#eae6fa"/><stop offset="0.7992" stop-color="#ccc5f1"/><stop offset="0.8238" stop-color="#c8c1ef"/><stop offset="0.8484" stop-color="#cdc6f1"/><stop offset="0.8893" stop-color="#e0dbf7"/><stop offset="0.9221" stop-color="#eae7fa"/><stop offset="0.9959" stop-color="#efecfb"/></linearGradient>
<linearGradient id="gb56" gradientUnits="userSpaceOnUse" x1="0" y1="122" x2="0" y2="244"><stop offset="0.0041" stop-color="#ffffff"/><stop offset="0.3156" stop-color="#fef9f9"/><stop offset="0.3730" stop-color="#fdf3f3"/><stop offset="0.4713" stop-color="#fbe1e1"/><stop offset="0.5123" stop-color="#fadede"/><stop offset="0.5287" stop-color="#fbe3e3"/><stop offset="0.5615" stop-color="#fef6f6"/><stop offset="0.6025" stop-color="#fffeff"/><stop offset="0.6270" stop-color="#f5f4fd"/><stop offset="0.7172" stop-color="#e9e5f9"/><stop offset="0.7910" stop-color="#cdc7f1"/><stop offset="0.8156" stop-color="#c8c1ef"/><stop offset="0.8402" stop-color="#cbc4f1"/><stop offset="0.8893" stop-color="#e2ddf8"/><stop offset="0.9139" stop-color="#e9e6fa"/><stop offset="0.9467" stop-color="#eeebfb"/><stop offset="0.9959" stop-color="#efecfb"/></linearGradient>
<linearGradient id="gb57" gradientUnits="userSpaceOnUse" x1="0" y1="122" x2="0" y2="244"><stop offset="0.0041" stop-color="#ffffff"/><stop offset="0.3156" stop-color="#fef9f9"/><stop offset="0.3730" stop-color="#fdf3f3"/><stop offset="0.4713" stop-color="#fbe1e1"/><stop offset="0.5123" stop-color="#fadede"/><stop offset="0.5287" stop-color="#fbe3e3"/><stop offset="0.5615" stop-color="#fef6f6"/><stop offset="0.5943" stop-color="#fffefe"/><stop offset="0.6189" stop-color="#f6f4fd"/><stop offset="0.7172" stop-color="#e8e5f9"/><stop offset="0.7910" stop-color="#cdc6f1"/><stop offset="0.8156" stop-color="#c8c1ef"/><stop offset="0.8402" stop-color="#ccc5f1"/><stop offset="0.8811" stop-color="#dfd9f7"/><stop offset="0.9139" stop-color="#e9e6fa"/><stop offset="0.9467" stop-color="#eeebfb"/><stop offset="0.9959" stop-color="#efecfb"/></linearGradient>
<linearGradient id="gb58" gradientUnits="userSpaceOnUse" x1="0" y1="122" x2="0" y2="244"><stop offset="0.0041" stop-color="#ffffff"/><stop offset="0.3156" stop-color="#fef9f9"/><stop offset="0.3730" stop-color="#fdf3f3"/><stop offset="0.4713" stop-color="#fbe1e1"/><stop offset="0.5123" stop-color="#fadede"/><stop offset="0.5287" stop-color="#fbe3e3"/><stop offset="0.5615" stop-color="#fef6f6"/><stop offset="0.5943" stop-color="#fefeff"/><stop offset="0.6189" stop-color="#f5f3fc"/><stop offset="0.7172" stop-color="#e8e5f9"/><stop offset="0.7910" stop-color="#cdc6f1"/><stop offset="0.8156" stop-color="#c8c1ef"/><stop offset="0.8402" stop-color="#ccc5f1"/><stop offset="0.8811" stop-color="#dfd9f7"/><stop offset="0.9139" stop-color="#e9e6fa"/><stop offset="0.9467" stop-color="#eeebfb"/><stop offset="0.9959" stop-color="#efecfb"/></linearGradient>
<linearGradient id="gb59" gradientUnits="userSpaceOnUse" x1="0" y1="122" x2="0" y2="244"><stop offset="0.0041" stop-color="#ffffff"/><stop offset="0.3156" stop-color="#fef9f9"/><stop offset="0.3730" stop-color="#fdf3f3"/><stop offset="0.4713" stop-color="#fbe1e1"/><stop offset="0.5123" stop-color="#fadede"/><stop offset="0.5287" stop-color="#fbe3e3"/><stop offset="0.5615" stop-color="#fef6f6"/><stop offset="0.5943" stop-color="#fefdff"/><stop offset="0.6189" stop-color="#f5f3fc"/><stop offset="0.7172" stop-color="#e8e4f9"/><stop offset="0.7910" stop-color="#cdc6f1"/><stop offset="0.8156" stop-color="#c8c1ef"/><stop offset="0.8402" stop-color="#ccc5f1"/><stop offset="0.8811" stop-color="#dfd9f7"/><stop offset="0.9139" stop-color="#e9e6fa"/><stop offset="0.9467" stop-color="#eeebfb"/><stop offset="0.9959" stop-color="#efecfb"/></linearGradient>
<linearGradient id="gd0" gradientUnits="userSpaceOnUse" x1="0" y1="16" x2="0" y2="138"><stop offset="0.0041" stop-color="#ffffff"/><stop offset="0.2664" stop-color="#ffffff"/><stop offset="0.3484" stop-color="#fef9f9"/><stop offset="0.3566" stop-color="#fef6f6"/><stop offset="0.3648" stop-color="#fef9f9"/><stop offset="0.3730" stop-color="#fef6f6"/><stop offset="0.3975" stop-color="#fef6f6"/><stop offset="0.4057" stop-color="#fef9f9"/><stop offset="0.4139" stop-color="#fef5f5"/><stop offset="0.4221" stop-color="#fef8f8"/><stop offset="0.4467" stop-color="#fef5f5"/><stop offset="0.4549" stop-color="#fdf0f0"/><stop offset="0.4631" stop-color="#fdf2f2"/><stop offset="0.4713" stop-color="#fceded"/><stop offset="0.4959" stop-color="#fce8e8"/><stop offset="0.5041" stop-color="#fcebeb"/><stop offset="0.5123" stop-color="#fbe6e6"/><stop offset="0.5205" stop-color="#fce9e9"/><stop offset="0.5287" stop-color="#fce6e6"/><stop offset="0.5451" stop-color="#fceaea"/><stop offset="0.5533" stop-color="#fce9e9"/><stop offset="0.5615" stop-color="#fdf0f0"/><stop offset="0.5697" stop-color="#fdefef"/><stop offset="0.5861" stop-color="#fef7f7"/><stop offset="0.6189" stop-color="#ffffff"/><stop offset="0.6434" stop-color="#f9f8fd"/><stop offset="0.6516" stop-color="#f9f8fe"/><stop offset="0.6598" stop-color="#f4f2fc"/><stop offset="0.6680" stop-color="#f4f2fc"/><stop offset="0.6926" stop-color="#edeafb"/><stop offset="0.7008" stop-color="#e8e4f9"/><stop offset="0.7090" stop-color="#eae6fa"/><stop offset="0.7172" stop-color="#e5e0f8"/><stop offset="0.7336" stop-color="#e0dbf7"/><stop offset="0.7500" stop-color="#d1caf2"/><stop offset="0.7582" stop-color="#bcb4eb"/><stop offset="0.7746" stop-color="#9991da"/><stop offset="0.7828" stop-color="#8e87d5"/><stop offset="0.7910" stop-color="#918ad6"/><stop offset="0.7992" stop-color="#9b92db"/><stop offset="0.8074" stop-color="#b2a9e8"/><stop offset="0.8238" stop-color="#dad4f6"/><stop offset="0.8320" stop-color="#e6e2f9"/><stop offset="0.8484" stop-color="#f6f4fd"/><stop offset="0.8566" stop-color="#f7f5fd"/><stop offset="0.8730" stop-color="#ffffff"/><stop offset="0.8893" stop-color="#fef7f7"/><stop offset="0.8975" stop-color="#fef8f8"/><stop offset="0.9057" stop-color="#fdf2f2"/><stop offset="0.9139" stop-color="#fdf4f4"/><stop offset="0.9303" stop-color="#fdf1f1"/><stop offset="0.9385" stop-color="#fdf4f4"/><stop offset="0.9467" stop-color="#fdf1f1"/><stop offset="0.9549" stop-color="#fef7f7"/><stop offset="0.9631" stop-color="#fef5f5"/><stop offset="0.9959" stop-color="#fffdfd"/></linearGradient>
<linearGradient id="gd1" gradientUnits="userSpaceOnUse" x1="0" y1="16" x2="0" y2="138"><stop offset="0.0041" stop-color="#ffffff"/><stop offset="0.2664" stop-color="#ffffff"/><stop offset="0.3484" stop-color="#fef9f9"/><stop offset="0.3566" stop-color="#fef6f6"/><stop offset="0.3648" stop-color="#fef9f9"/><stop offset="0.3730" stop-color="#fef6f6"/><stop offset="0.3975" stop-color="#fef6f6"/><stop offset="0.4057" stop-color="#fef9f9"/><stop offset="0.4139" stop-color="#fef5f5"/><stop offset="0.4221" stop-color="#fef8f8"/><stop offset="0.4467" stop-color="#fef5f5"/><stop offset="0.4549" stop-color="#fdf0f0"/><stop offset="0.4631" stop-color="#fdf2f2"/><stop offset="0.4713" stop-color="#fceded"/><stop offset="0.4959" stop-color="#fce8e8"/><stop offset="0.5041" stop-color="#fcebeb"/><stop offset="0.5123" stop-color="#fbe6e6"/><stop offset="0.5205" stop-color="#fce9e9"/><stop offset="0.5287" stop-color="#fce6e6"/><stop offset="0.5451" stop-color="#fceaea"/><stop offset="0.5533" stop-color="#fce9e9"/><stop offset="0.5615" stop-color="#fdf0f0"/><stop offset="0.5697" stop-color="#fdefef"/><stop offset="0.5861" stop-color="#fef7f7"/><stop offset="0.6189" stop-color="#ffffff"/><stop offset="0.6434" stop-color="#f9f8fd"/><stop offset="0.6516" stop-color="#f9f8fe"/><stop offset="0.6598" stop-color="#f4f2fc"/><stop offset="0.6680" stop-color="#f4f2fc"/><stop offset="0.6926" stop-color="#edeafb"/><stop offset="0.7008" stop-color="#e8e4f9"/><stop offset="0.7090" stop-color="#eae6fa"/><stop offset="0.7172" stop-color="#e5e0f8"/><stop offset="0.7336" stop-color="#e0dbf7"/><stop offset="0.7500" stop-color="#d0c9f2"/><stop offset="0.7582" stop-color="#bab2eb"/><stop offset="0.7746" stop-color="#958dd8"/><stop offset="0.7828" stop-color="#8a83d2"/><stop offset="0.7910" stop-color="#8d86d4"/><stop offset="0.7992" stop-color="#978fd9"/><stop offset="0.8074" stop-color="#afa6e7"/><stop offset="0.8238" stop-color="#dad3f5"/><stop offset="0.8320" stop-color="#e6e2f9"/><stop offset="0.8484" stop-color="#f5f4fd"/><stop offset="0.8566" stop-color="#f7f5fd"/><stop offset="0.8730" stop-color="#ffffff"/><stop offset="0.8893" stop-color="#fef7f7"/><stop offset="0.8975" stop-color="#fef8f8"/><stop offset="0.9057" stop-color="#fdf2f2"/><stop offset="0.9139" stop-color="#fdf4f4"/><stop offset="0.9303" stop-color="#fdf1f1"/><stop offset="0.9385" stop-color="#fdf4f4"/><stop offset="0.9467" stop-color="#fdf1f1"/><stop offset="0.9549" stop-color="#fef7f7"/><stop offset="0.9631" stop-color="#fef5f5"/><stop offset="0.9959" stop-color="#fffdfd"/></linearGradient>
<linearGradient id="gd2" gradientUnits="userSpaceOnUse" x1="0" y1="16" x2="0" y2="138"><stop offset="0.0041" stop-color="#ffffff"/><stop offset="0.2664" stop-color="#ffffff"/><stop offset="0.3484" stop-color="#fef9f9"/><stop offset="0.3566" stop-color="#fef6f6"/><stop offset="0.3648" stop-color="#fef9f9"/><stop offset="0.3730" stop-color="#fef6f6"/><stop offset="0.3975" stop-color="#fef6f6"/><stop offset="0.4057" stop-color="#fef9f9"/><stop offset="0.4139" stop-color="#fef5f5"/><stop offset="0.4221" stop-color="#fef8f8"/><stop offset="0.4467" stop-color="#fef5f5"/><stop offset="0.4549" stop-color="#fdf0f0"/><stop offset="0.4631" stop-color="#fdf2f2"/><stop offset="0.4713" stop-color="#fceded"/><stop offset="0.4959" stop-color="#fce8e8"/><stop offset="0.5041" stop-color="#fcebeb"/><stop offset="0.5123" stop-color="#fbe6e6"/><stop offset="0.5205" stop-color="#fce9e9"/><stop offset="0.5287" stop-color="#fce6e6"/><stop offset="0.5451" stop-color="#fceaea"/><stop offset="0.5533" stop-color="#fce9e9"/><stop offset="0.5615" stop-color="#fdf0f0"/><stop offset="0.5697" stop-color="#fdefef"/><stop offset="0.5861" stop-color="#fef7f7"/><stop offset="0.6189" stop-color="#ffffff"/><stop offset="0.6434" stop-color="#f9f8fd"/><stop offset="0.6516" stop-color="#f9f8fe"/><stop offset="0.6598" stop-color="#f4f2fc"/><stop offset="0.6680" stop-color="#f4f2fc"/><stop offset="0.6926" stop-color="#edeafb"/><stop offset="0.7008" stop-color="#e8e4f9"/><stop offset="0.7090" stop-color="#eae6fa"/><stop offset="0.7336" stop-color="#e0dbf7"/><stop offset="0.7500" stop-color="#cfc8f2"/><stop offset="0.7582" stop-color="#b9b0ea"/><stop offset="0.7746" stop-color="#928ad6"/><stop offset="0.7828" stop-color="#867fd0"/><stop offset="0.7910" stop-color="#8982d2"/><stop offset="0.7992" stop-color="#948cd7"/><stop offset="0.8074" stop-color="#ada4e5"/><stop offset="0.8238" stop-color="#d9d2f5"/><stop offset="0.8320" stop-color="#e6e1f9"/><stop offset="0.8484" stop-color="#f5f4fd"/><stop offset="0.8566" stop-color="#f7f5fd"/><stop offset="0.8730" stop-color="#ffffff"/><stop offset="0.8893" stop-color="#fef7f7"/><stop offset="0.8975" stop-color="#fef8f8"/><stop offset="0.9057" stop-color="#fdf2f2"/><stop offset="0.9139" stop-color="#fdf4f4"/><stop offset="0.9303" stop-color="#fdf1f1"/><stop offset="0.9385" stop-color="#fdf4f4"/><stop offset="0.9467" stop-color="#fdf1f1"/><stop offset="0.9549" stop-color="#fef7f7"/><stop offset="0.9631" stop-color="#fef5f5"/><stop offset="0.9959" stop-color="#fffdfd"/></linearGradient>
<linearGradient id="gd3" gradientUnits="userSpaceOnUse" x1="0" y1="16" x2="0" y2="138"><stop offset="0.0041" stop-color="#ffffff"/><stop offset="0.2664" stop-color="#ffffff"/><stop offset="0.3484" stop-color="#fef9f9"/><stop offset="0.3566" stop-color="#fef6f6"/><stop offset="0.3648" stop-color="#fef9f9"/><stop offset="0.3730" stop-color="#fef6f6"/><stop offset="0.3975" stop-color="#fef6f6"/><stop offset="0.4057" stop-color="#fef9f9"/><stop offset="0.4139" stop-color="#fef5f5"/><stop offset="0.4221" stop-color="#fef8f8"/><stop offset="0.4467" stop-color="#fef5f5"/><stop offset="0.4549" stop-color="#fdf0f0"/><stop offset="0.4631" stop-color="#fdf2f2"/><stop offset="0.4713" stop-color="#fceded"/><stop offset="0.4959" stop-color="#fce8e8"/><stop offset="0.5041" stop-color="#fcebeb"/><stop offset="0.5123" stop-color="#fbe6e6"/><stop offset="0.5205" stop-color="#fce9e9"/><stop offset="0.5287" stop-color="#fce6e6"/><stop offset="0.5451" stop-color="#fceaea"/><stop offset="0.5533" stop-color="#fce9e9"/><stop offset="0.5615" stop-color="#fdf0f0"/><stop offset="0.5697" stop-color="#fdefef"/><stop offset="0.5861" stop-color="#fef7f7"/><stop offset="0.6189" stop-color="#ffffff"/><stop offset="0.6434" stop-color="#f9f8fd"/><stop offset="0.6516" stop-color="#f9f8fe"/><stop offset="0.6598" stop-color="#f4f2fc"/><stop offset="0.6680" stop-color="#f4f2fc"/><stop offset="0.6926" stop-color="#edeafb"/><stop offset="0.7008" stop-color="#e8e4f9"/><stop offset="0.7090" stop-color="#eae6fa"/><stop offset="0.7336" stop-color="#e0dbf7"/><stop offset="0.7500" stop-color="#cec7f1"/><stop offset="0.7582" stop-color="#b7afe9"/><stop offset="0.7746" stop-color="#8f87d5"/><stop offset="0.7828" stop-color="#827bce"/><stop offset="0.7910" stop-color="#857ecf"/><stop offset="0.7992" stop-color="#9089d6"/><stop offset="0.8074" stop-color="#aaa2e4"/><stop offset="0.8238" stop-color="#d8d2f5"/><stop offset="0.8320" stop-color="#e5e1f9"/><stop offset="0.8484" stop-color="#f5f4fd"/><stop offset="0.8566" stop-color="#f7f5fd"/><stop offset="0.8730" stop-color="#ffffff"/><stop offset="0.8893" stop-color="#fef7f7"/><stop offset="0.8975" stop-color="#fef8f8"/><stop offset="0.9057" stop-color="#fdf2f2"/><stop offset="0.9139" stop-color="#fdf4f4"/><stop offset="0.9303" stop-color="#fdf1f1"/><stop offset="0.9385" stop-color="#fdf4f4"/><stop offset="0.9467" stop-color="#fdf1f1"/><stop offset="0.9549" stop-color="#fef7f7"/><stop offset="0.9631" stop-color="#fef5f5"/><stop offset="0.9959" stop-color="#fffdfd"/></linearGradient>
<linearGradient id="gd4" gradientUnits="userSpaceOnUse" x1="0" y1="16" x2="0" y2="138"><stop offset="0.0041" stop-color="#ffffff"/><stop offset="0.2664" stop-color="#ffffff"/><stop offset="0.3484" stop-color="#fef9f9"/><stop offset="0.3566" stop-color="#fef6f6"/><stop offset="0.3648" stop-color="#fef9f9"/><stop offset="0.3730" stop-color="#fef6f6"/><stop offset="0.3975" stop-color="#fef6f6"/><stop offset="0.4057" stop-color="#fef9f9"/><stop offset="0.4139" stop-color="#fef5f5"/><stop offset="0.4221" stop-color="#fef8f8"/><stop offset="0.4467" stop-color="#fef5f5"/><stop offset="0.4549" stop-color="#fdf0f0"/><stop offset="0.4631" stop-color="#fdf2f2"/><stop offset="0.4713" stop-color="#fceded"/><stop offset="0.4959" stop-color="#fce8e8"/><stop offset="0.5041" stop-color="#fcebeb"/><stop offset="0.5123" stop-color="#fbe6e6"/><stop offset="0.5205" stop-color="#fce9e9"/><stop offset="0.5287" stop-color="#fce6e6"/><stop offset="0.5451" stop-color="#fceaea"/><stop offset="0.5533" stop-color="#fce9e9"/><stop offset="0.5615" stop-color="#fdf0f0"/><stop offset="0.5697" stop-color="#fdefef"/><stop offset="0.5861" stop-color="#fef7f7"/><stop offset="0.6189" stop-color="#ffffff"/><stop offset="0.6434" stop-color="#f9f8fd"/><stop offset="0.6516" stop-color="#f9f8fe"/><stop offset="0.6598" stop-color="#f4f2fc"/><stop offset="0.6680" stop-color="#f4f2fc"/><stop offset="0.6926" stop-color="#edeafb"/><stop offset="0.7008" stop-color="#e8e4f9"/><stop offset="0.7090" stop-color="#eae6fa"/><stop offset="0.7336" stop-color="#e0dbf7"/><stop offset="0.7500" stop-color="#cdc6f1"/><stop offset="0.7582" stop-color="#b6ade9"/><stop offset="0.7746" stop-color="#8c84d3"/><stop offset="0.7828" stop-color="#7f78cc"/><stop offset="0.7910" stop-color="#827bce"/><stop offset="0.7992" stop-color="#8d86d4"/><stop offset="0.8074" stop-color="#a8a0e3"/><stop offset="0.8238" stop-color="#d7d1f5"/><stop offset="0.8320" stop-color="#e5e1f9"/><stop offset="0.8484" stop-color="#f5f4fd"/><stop offset="0.8566" stop-color="#f7f5fd"/><stop offset="0.8730" stop-color="#ffffff"/><stop offset="0.8893" stop-color="#fef7f7"/><stop offset="0.8975" stop-color="#fef8f8"/><stop offset="0.9057" stop-color="#fdf2f2"/><stop offset="0.9139" stop-color="#fdf4f4"/><stop offset="0.9303" stop-color="#fdf1f1"/><stop offset="0.9385" stop-color="#fdf4f4"/><stop offset="0.9467" stop-color="#fdf1f1"/><stop offset="0.9549" stop-color="#fef7f7"/><stop offset="0.9631" stop-color="#fef5f5"/><stop offset="0.9959" stop-color="#fffdfd"/></linearGradient>
<linearGradient id="gd5" gradientUnits="userSpaceOnUse" x1="0" y1="16" x2="0" y2="138"><stop offset="0.0041" stop-color="#ffffff"/><stop offset="0.2664" stop-color="#ffffff"/><stop offset="0.3484" stop-color="#fef9f9"/><stop offset="0.3566" stop-color="#fef6f6"/><stop offset="0.3648" stop-color="#fef9f9"/><stop offset="0.3730" stop-color="#fef6f6"/><stop offset="0.3975" stop-color="#fef6f6"/><stop offset="0.4057" stop-color="#fef9f9"/><stop offset="0.4139" stop-color="#fef5f5"/><stop offset="0.4221" stop-color="#fef8f8"/><stop offset="0.4467" stop-color="#fef5f5"/><stop offset="0.4549" stop-color="#fdf0f0"/><stop offset="0.4631" stop-color="#fdf2f2"/><stop offset="0.4713" stop-color="#fceded"/><stop offset="0.4959" stop-color="#fce8e8"/><stop offset="0.5041" stop-color="#fcebeb"/><stop offset="0.5123" stop-color="#fbe6e6"/><stop offset="0.5205" stop-color="#fce9e9"/><stop offset="0.5287" stop-color="#fce7e7"/><stop offset="0.5451" stop-color="#fceaea"/><stop offset="0.5533" stop-color="#fce9e9"/><stop offset="0.5615" stop-color="#fdf0f0"/><stop offset="0.5697" stop-color="#fdefef"/><stop offset="0.5861" stop-color="#fef7f7"/><stop offset="0.6189" stop-color="#ffffff"/><stop offset="0.6434" stop-color="#f9f8fd"/><stop offset="0.6516" stop-color="#f9f8fe"/><stop offset="0.6598" stop-color="#f4f2fc"/><stop offset="0.6680" stop-color="#f4f3fc"/><stop offset="0.6926" stop-color="#edeafb"/><stop offset="0.7008" stop-color="#e8e4f9"/><stop offset="0.7090" stop-color="#eae6fa"/><stop offset="0.7336" stop-color="#e0daf7"/><stop offset="0.7500" stop-color="#ccc5f1"/><stop offset="0.7582" stop-color="#b4abe8"/><stop offset="0.7746" stop-color="#8881d1"/><stop offset="0.7828" stop-color="#7b74ca"/><stop offset="0.7910" stop-color="#7e77cb"/><stop offset="0.7992" stop-color="#8a82d2"/><stop offset="0.8074" stop-color="#a69de1"/><stop offset="0.8238" stop-color="#d6d0f4"/><stop offset="0.8320" stop-color="#e5e0f8"/><stop offset="0.8484" stop-color="#f5f4fd"/><stop offset="0.8566" stop-color="#f7f5fd"/><stop offset="0.8730" stop-color="#ffffff"/><stop offset="0.8893" stop-color="#fef7f7"/><stop offset="0.8975" stop-color="#fef8f8"/><stop offset="0.9057" stop-color="#fdf2f2"/><stop offset="0.9139" stop-color="#fdf4f4"/><stop offset="0.9303" stop-color="#fdf1f1"/><stop offset="0.9385" stop-color="#fdf4f4"/><stop offset="0.9467" stop-color="#fdf1f1"/><stop offset="0.9549" stop-color="#fef7f7"/><stop offset="0.9631" stop-color="#fef5f5"/><stop offset="0.9959" stop-color="#fffdfd"/></linearGradient>
<linearGradient id="gd6" gradientUnits="userSpaceOnUse" x1="0" y1="16" x2="0" y2="138"><stop offset="0.0041" stop-color="#ffffff"/><stop offset="0.2664" stop-color="#ffffff"/><stop offset="0.3484" stop-color="#fef9f9"/><stop offset="0.3566" stop-color="#fef6f6"/><stop offset="0.3648" stop-color="#fef9f9"/><stop offset="0.3730" stop-color="#fef6f6"/><stop offset="0.3975" stop-color="#fef6f6"/><stop offset="0.4057" stop-color="#fef9f9"/><stop offset="0.4139" stop-color="#fef5f5"/><stop offset="0.4221" stop-color="#fef8f8"/><stop offset="0.4467" stop-color="#fef5f5"/><stop offset="0.4549" stop-color="#fdf0f0"/><stop offset="0.4631" stop-color="#fdf2f2"/><stop offset="0.4713" stop-color="#fceded"/><stop offset="0.4959" stop-color="#fce8e8"/><stop offset="0.5041" stop-color="#fcebeb"/><stop offset="0.5123" stop-color="#fbe6e6"/><stop offset="0.5205" stop-color="#fce9e9"/><stop offset="0.5287" stop-color="#fce7e7"/><stop offset="0.5451" stop-color="#fceaea"/><stop offset="0.5533" stop-color="#fce9e9"/><stop offset="0.5615" stop-color="#fdf0f0"/><stop offset="0.5697" stop-color="#fdefef"/><stop offset="0.5861" stop-color="#fef7f7"/><stop offset="0.6189" stop-color="#ffffff"/><stop offset="0.6434" stop-color="#f9f8fd"/><stop offset="0.6516" stop-color="#f9f9fe"/><stop offset="0.6598" stop-color="#f4f2fc"/><stop offset="0.6680" stop-color="#f4f3fc"/><stop offset="0.6926" stop-color="#edeafb"/><stop offset="0.7008" stop-color="#e8e4f9"/><stop offset="0.7090" stop-color="#eae6fa"/><stop offset="0.7336" stop-color="#e0dbf7"/><stop offset="0.7500" stop-color="#ccc5f1"/><stop offset="0.7582" stop-color="#b3abe8"/><stop offset="0.7746" stop-color="#857ecf"/><stop offset="0.7828" stop-color="#7770c7"/><stop offset="0.7910" stop-color="#7972c8"/><stop offset="0.7992" stop-color="#857dcf"/><stop offset="0.8074" stop-color="#a199df"/><stop offset="0.8238" stop-color="#d4cdf4"/><stop offset="0.8320" stop-color="#e4dff8"/><stop offset="0.8484" stop-color="#f5f3fd"/><stop offset="0.8566" stop-color="#f6f5fd"/><stop offset="0.8730" stop-color="#ffffff"/><stop offset="0.8893" stop-color="#fef7f7"/><stop offset="0.8975" stop-color="#fef8f8"/><stop offset="0.9057" stop-color="#fdf2f2"/><stop offset="0.9139" stop-color="#fdf4f4"/><stop offset="0.9303" stop-color="#fdf1f1"/><stop offset="0.9385" stop-color="#fdf4f4"/><stop offset="0.9467" stop-color="#fdf1f1"/><stop offset="0.9549" stop-color="#fef7f7"/><stop offset="0.9631" stop-color="#fef5f5"/><stop offset="0.9959" stop-color="#fffdfd"/></linearGradient>
<linearGradient id="gd7" gradientUnits="userSpaceOnUse" x1="0" y1="16" x2="0" y2="138"><stop offset="0.0041" stop-color="#ffffff"/><stop offset="0.2664" stop-color="#ffffff"/><stop offset="0.3484" stop-color="#fef9f9"/><stop offset="0.3566" stop-color="#fef6f6"/><stop offset="0.3648" stop-color="#fef9f9"/><stop offset="0.3730" stop-color="#fef6f6"/><stop offset="0.3975" stop-color="#fef6f6"/><stop offset="0.4057" stop-color="#fef9f9"/><stop offset="0.4139" stop-color="#fef5f5"/><stop offset="0.4221" stop-color="#fef8f8"/><stop offset="0.4467" stop-color="#fef5f5"/><stop offset="0.4549" stop-color="#fdf0f0"/><stop offset="0.4631" stop-color="#fdf2f2"/><stop offset="0.4713" stop-color="#fceded"/><stop offset="0.4959" stop-color="#fce8e8"/><stop offset="0.5041" stop-color="#fcebeb"/><stop offset="0.5123" stop-color="#fbe6e6"/><stop offset="0.5205" stop-color="#fce9e9"/><stop offset="0.5287" stop-color="#fce7e7"/><stop offset="0.5451" stop-color="#fcebeb"/><stop offset="0.5533" stop-color="#fce9e9"/><stop offset="0.5615" stop-color="#fdf0f0"/><stop offset="0.5697" stop-color="#fdefef"/><stop offset="0.5861" stop-color="#fef7f7"/><stop offset="0.6189" stop-color="#ffffff"/><stop offset="0.6434" stop-color="#f9f8fe"/><stop offset="0.6516" stop-color="#faf9fe"/><stop offset="0.6598" stop-color="#f4f2fc"/><stop offset="0.6680" stop-color="#f5f3fc"/><stop offset="0.6926" stop-color="#eeebfb"/><stop offset="0.7008" stop-color="#e8e5f9"/><stop offset="0.7090" stop-color="#eae6fa"/><stop offset="0.7336" stop-color="#e0dbf7"/><stop offset="0.7500" stop-color="#cdc6f1"/><stop offset="0.7582" stop-color="#b4abe8"/><stop offset="0.7664" stop-color="#9e95dd"/><stop offset="0.7746" stop-color="#837cce"/><stop offset="0.7828" stop-color="#726bc5"/><stop offset="0.7910" stop-color="#726cc5"/><stop offset="0.7992" stop-color="#7e77cb"/><stop offset="0.8074" stop-color="#9b93db"/><stop offset="0.8156" stop-color="#b4abe8"/><stop offset="0.8238" stop-color="#d0caf2"/><stop offset="0.8320" stop-color="#e2ddf8"/><stop offset="0.8484" stop-color="#f4f3fc"/><stop offset="0.8566" stop-color="#f6f4fd"/><stop offset="0.8730" stop-color="#ffffff"/><stop offset="0.8893" stop-color="#fef8f8"/><stop offset="0.8975" stop-color="#fef8f8"/><stop offset="0.9057" stop-color="#fdf2f2"/><stop offset="0.9139" stop-color="#fdf4f4"/><stop offset="0.9303" stop-color="#fdf1f1"/><stop offset="0.9385" stop-color="#fdf4f4"/><stop offset="0.9467" stop-color="#fdf1f1"/><stop offset="0.9549" stop-color="#fef7f7"/><stop offset="0.9631" stop-color="#fef5f5"/><stop offset="0.9959" stop-color="#fffdfd"/></linearGradient>
<linearGradient id="gd8" gradientUnits="userSpaceOnUse" x1="0" y1="16" x2="0" y2="138"><stop offset="0.0041" stop-color="#ffffff"/><stop offset="0.2664" stop-color="#ffffff"/><stop offset="0.3484" stop-color="#fef9f9"/><stop offset="0.3566" stop-color="#fef6f6"/><stop offset="0.3648" stop-color="#fef9f9"/><stop offset="0.3730" stop-color="#fef6f6"/><stop offset="0.3975" stop-color="#fef6f6"/><stop offset="0.4057" stop-color="#fef9f9"/><stop offset="0.4139" stop-color="#fef5f5"/><stop offset="0.4221" stop-color="#fef8f8"/><stop offset="0.4467" stop-color="#fef5f5"/><stop offset="0.4549" stop-color="#fdf0f0"/><stop offset="0.4631" stop-color="#fdf2f2"/><stop offset="0.4713" stop-color="#fdeded"/><stop offset="0.4959" stop-color="#fce9e9"/><stop offset="0.5041" stop-color="#fcebeb"/><stop offset="0.5123" stop-color="#fce6e6"/><stop offset="0.5205" stop-color="#fce9e9"/><stop offset="0.5287" stop-color="#fce7e7"/><stop offset="0.5451" stop-color="#fcebeb"/><stop offset="0.5533" stop-color="#fce9e9"/><stop offset="0.5615" stop-color="#fdf0f0"/><stop offset="0.5697" stop-color="#fdefef"/><stop offset="0.5861" stop-color="#fef7f7"/><stop offset="0.6189" stop-color="#ffffff"/><stop offset="0.6516" stop-color="#faf9fe"/><stop offset="0.6598" stop-color="#f4f3fc"/><stop offset="0.6680" stop-color="#f5f3fc"/><stop offset="0.6926" stop-color="#eeebfb"/><stop offset="0.7008" stop-color="#e9e5f9"/><stop offset="0.7090" stop-color="#eae7fa"/><stop offset="0.7172" stop-color="#e5e1f9"/><stop offset="0.7336" stop-color="#e1dcf7"/><stop offset="0.7500" stop-color="#cec7f2"/><stop offset="0.7582" stop-color="#b5ace9"/><stop offset="0.7664" stop-color="#9e96dd"/><stop offset="0.7746" stop-color="#827acd"/><stop offset="0.7828" stop-color="#6e67c3"/><stop offset="0.7910" stop-color="#6b65c1"/><stop offset="0.7992" stop-color="#756ec7"/><stop offset="0.8156" stop-color="#ada4e5"/><stop offset="0.8238" stop-color="#cbc4f1"/><stop offset="0.8320" stop-color="#dfdaf7"/><stop offset="0.8484" stop-color="#f4f2fc"/><stop offset="0.8566" stop-color="#f5f4fd"/><stop offset="0.8648" stop-color="#fcfbfe"/><stop offset="0.8730" stop-color="#fffeff"/><stop offset="0.8893" stop-color="#fef8f8"/><stop offset="0.8975" stop-color="#fef8f8"/><stop offset="0.9057" stop-color="#fdf2f2"/><stop offset="0.9139" stop-color="#fdf4f4"/><stop offset="0.9303" stop-color="#fdf1f1"/><stop offset="0.9385" stop-color="#fdf4f4"/><stop offset="0.9467" stop-color="#fdf1f1"/><stop offset="0.9549" stop-color="#fef7f7"/><stop offset="0.9631" stop-color="#fef5f5"/><stop offset="0.9959" stop-color="#fffdfd"/></linearGradient>
<linearGradient id="gd9" gradientUnits="userSpaceOnUse" x1="0" y1="16" x2="0" y2="138"><stop offset="0.0041" stop-color="#ffffff"/><stop offset="0.2664" stop-color="#ffffff"/><stop offset="0.3484" stop-color="#fef9f9"/><stop offset="0.3566" stop-color="#fef6f6"/><stop offset="0.3648" stop-color="#fef9f9"/><stop offset="0.3730" stop-color="#fef6f6"/><stop offset="0.3975" stop-color="#fef6f6"/><stop offset="0.4057" stop-color="#fef9f9"/><stop offset="0.4139" stop-color="#fef5f5"/><stop offset="0.4221" stop-color="#fef8f8"/><stop offset="0.4467" stop-color="#fef5f5"/><stop offset="0.4549" stop-color="#fdf0f0"/><stop offset="0.4631" stop-color="#fdf2f2"/><stop offset="0.4713" stop-color="#fdeded"/><stop offset="0.4959" stop-color="#fce9e9"/><stop offset="0.5041" stop-color="#fcebeb"/><stop offset="0.5123" stop-color="#fce6e6"/><stop offset="0.5205" stop-color="#fce9e9"/><stop offset="0.5287" stop-color="#fce7e7"/><stop offset="0.5451" stop-color="#fcebeb"/><stop offset="0.5533" stop-color="#fce9e9"/><stop offset="0.5615" stop-color="#fdf0f0"/><stop offset="0.5697" stop-color="#fdefef"/><stop offset="0.5861" stop-color="#fef7f7"/><stop offset="0.6189" stop-color="#ffffff"/><stop offset="0.6516" stop-color="#faf9fe"/><stop offset="0.6598" stop-color="#f5f3fc"/><stop offset="0.6680" stop-color="#f5f4fd"/><stop offset="0.6926" stop-color="#eeecfb"/><stop offset="0.7008" stop-color="#e9e5fa"/><stop offset="0.7090" stop-color="#ebe7fa"/><stop offset="0.7172" stop-color="#e6e1f9"/><stop offset="0.7254" stop-color="#e5e1f8"/><stop offset="0.7336" stop-color="#e1ddf8"/><stop offset="0.7418" stop-color="#dad3f6"/><stop offset="0.7500" stop-color="#d1caf2"/><stop offset="0.7664" stop-color="#a198df"/><stop offset="0.7746" stop-color="#827bce"/><stop offset="0.7828" stop-color="#6b64c1"/><stop offset="0.7910" stop-color="#645ebd"/><stop offset="0.7992" stop-color="#6b65c1"/><stop offset="0.8156" stop-color="#a49ce0"/><stop offset="0.8238" stop-color="#c4bdee"/><stop offset="0.8320" stop-color="#dcd6f6"/><stop offset="0.8484" stop-color="#f2f0fc"/><stop offset="0.8730" stop-color="#fefeff"/><stop offset="0.8893" stop-color="#fef8f8"/><stop offset="0.8975" stop-color="#fef8f8"/><stop offset="0.9057" stop-color="#fdf2f2"/><stop offset="0.9139" stop-color="#fdf4f4"/><stop offset="0.9303" stop-color="#fdf1f1"/><stop offset="0.9385" stop-color="#fdf4f4"/><stop offset="0.9467" stop-color="#fdf1f1"/><stop offset="0.9549" stop-color="#fef7f7"/><stop offset="0.9631" stop-color="#fef5f5"/><stop offset="0.9959" stop-color="#fffdfd"/></linearGradient>
<linearGradient id="gd10" gradientUnits="userSpaceOnUse" x1="0" y1="16" x2="0" y2="138"><stop offset="0.0041" stop-color="#ffffff"/><stop offset="0.2664" stop-color="#ffffff"/><stop offset="0.3484" stop-color="#fef9f9"/><stop offset="0.3566" stop-color="#fef6f6"/><stop offset="0.3648" stop-color="#fef9f9"/><stop offset="0.3730" stop-color="#fef6f6"/><stop offset="0.3975" stop-color="#fef6f6"/><stop offset="0.4057" stop-color="#fef9f9"/><stop offset="0.4139" stop-color="#fef5f5"/><stop offset="0.4221" stop-color="#fef8f8"/><stop offset="0.4467" stop-color="#fef5f5"/><stop offset="0.4549" stop-color="#fdf0f0"/><stop offset="0.4631" stop-color="#fdf3f3"/><stop offset="0.4713" stop-color="#fdeded"/><stop offset="0.4959" stop-color="#fce9e9"/><stop offset="0.5041" stop-color="#fcebeb"/><stop offset="0.5123" stop-color="#fce6e6"/><stop offset="0.5205" stop-color="#fce9e9"/><stop offset="0.5287" stop-color="#fce7e7"/><stop offset="0.5451" stop-color="#fcebeb"/><stop offset="0.5533" stop-color="#fce9e9"/><stop offset="0.5615" stop-color="#fdf0f0"/><stop offset="0.5697" stop-color="#fdefef"/><stop offset="0.5861" stop-color="#fef7f7"/><stop offset="0.6189" stop-color="#ffffff"/><stop offset="0.6516" stop-color="#fbfafe"/><stop offset="0.6598" stop-color="#f5f4fd"/><stop offset="0.6680" stop-color="#f6f5fd"/><stop offset="0.6926" stop-color="#efecfb"/><stop offset="0.7008" stop-color="#eae6fa"/><stop offset="0.7090" stop-color="#ebe8fa"/><stop offset="0.7172" stop-color="#e6e2f9"/><stop offset="0.7336" stop-color="#e2def8"/><stop offset="0.7500" stop-color="#d4cdf3"/><stop offset="0.7664" stop-color="#a59ce1"/><stop offset="0.7746" stop-color="#857dcf"/><stop offset="0.7828" stop-color="#6a63c0"/><stop offset="0.7910" stop-color="#605aba"/><stop offset="0.7992" stop-color="#615bbb"/><stop offset="0.8156" stop-color="#9991da"/><stop offset="0.8238" stop-color="#bbb2eb"/><stop offset="0.8320" stop-color="#d6cff4"/><stop offset="0.8484" stop-color="#f1eefb"/><stop offset="0.8730" stop-color="#fefdff"/><stop offset="0.8893" stop-color="#fef8f8"/><stop offset="0.8975" stop-color="#fef9f9"/><stop offset="0.9057" stop-color="#fdf2f2"/><stop offset="0.9139" stop-color="#fdf4f4"/><stop offset="0.9303" stop-color="#fdf1f1"/><stop offset="0.9385" stop-color="#fdf4f4"/><stop offset="0.9467" stop-color="#fdf1f1"/><stop offset="0.9549" stop-color="#fef7f7"/><stop offset="0.9631" stop-color="#fef5f5"/><stop offset="0.9959" stop-color="#fffdfd"/></linearGradient>
<linearGradient id="gd11" gradientUnits="userSpaceOnUse" x1="0" y1="16" x2="0" y2="138"><stop offset="0.0041" stop-color="#ffffff"/><stop offset="0.2664" stop-color="#ffffff"/><stop offset="0.3484" stop-color="#fef9f9"/><stop offset="0.3566" stop-color="#fef6f6"/><stop offset="0.3648" stop-color="#fef9f9"/><stop offset="0.3730" stop-color="#fef6f6"/><stop offset="0.3975" stop-color="#fef6f6"/><stop offset="0.4057" stop-color="#fef9f9"/><stop offset="0.4139" stop-color="#fef5f5"/><stop offset="0.4221" stop-color="#fef8f8"/><stop offset="0.4467" stop-color="#fef5f5"/><stop offset="0.4549" stop-color="#fdf0f0"/><stop offset="0.4631" stop-color="#fdf3f3"/><stop offset="0.4713" stop-color="#fdeeee"/><stop offset="0.4959" stop-color="#fce9e9"/><stop offset="0.5041" stop-color="#fcecec"/><stop offset="0.5123" stop-color="#fce7e7"/><stop offset="0.5205" stop-color="#fceaea"/><stop offset="0.5287" stop-color="#fce7e7"/><stop offset="0.5451" stop-color="#fcebeb"/><stop offset="0.5533" stop-color="#fceaea"/><stop offset="0.5615" stop-color="#fdf0f0"/><stop offset="0.5697" stop-color="#fdf0f0"/><stop offset="0.5861" stop-color="#fef7f7"/><stop offset="0.6189" stop-color="#fffefe"/><stop offset="0.6516" stop-color="#fbfafe"/><stop offset="0.6598" stop-color="#f6f4fd"/><stop offset="0.6680" stop-color="#f7f5fd"/><stop offset="0.6926" stop-color="#f0edfb"/><stop offset="0.7008" stop-color="#eae7fa"/><stop offset="0.7090" stop-color="#ece8fa"/><stop offset="0.7172" stop-color="#e7e3f9"/><stop offset="0.7336" stop-color="#e3dff8"/><stop offset="0.7500" stop-color="#d7d1f5"/><stop offset="0.7664" stop-color="#aba2e4"/><stop offset="0.7828" stop-color="#6b65c1"/><stop offset="0.7910" stop-color="#5e59b9"/><stop offset="0.7992" stop-color="#5c57b7"/><stop offset="0.8074" stop-color="#6e67c3"/><stop offset="0.8156" stop-color="#8b83d2"/><stop offset="0.8238" stop-color="#aea5e6"/><stop offset="0.8320" stop-color="#cdc6f1"/><stop offset="0.8484" stop-color="#eeebfb"/><stop offset="0.8566" stop-color="#f2f0fc"/><stop offset="0.8648" stop-color="#faf9fe"/><stop offset="0.8811" stop-color="#fffdfd"/><stop offset="0.8893" stop-color="#fef9f9"/><stop offset="0.8975" stop-color="#fef9f9"/><stop offset="0.9057" stop-color="#fdf2f2"/><stop offset="0.9139" stop-color="#fdf4f4"/><stop offset="0.9303" stop-color="#fdf1f1"/><stop offset="0.9385" stop-color="#fdf4f4"/><stop offset="0.9467" stop-color="#fdf1f1"/><stop offset="0.9549" stop-color="#fef7f7"/><stop offset="0.9631" stop-color="#fef5f5"/><stop offset="0.9959" stop-color="#fffdfd"/></linearGradient>
<linearGradient id="gd12" gradientUnits="userSpaceOnUse" x1="0" y1="16" x2="0" y2="138"><stop offset="0.0041" stop-color="#ffffff"/><stop offset="0.2664" stop-color="#ffffff"/><stop offset="0.3484" stop-color="#fef9f9"/><stop offset="0.3566" stop-color="#fef6f6"/><stop offset="0.3648" stop-color="#fef9f9"/><stop offset="0.3730" stop-color="#fef6f6"/><stop offset="0.3975" stop-color="#fef6f6"/><stop offset="0.4057" stop-color="#fef9f9"/><stop offset="0.4139" stop-color="#fef5f5"/><stop offset="0.4221" stop-color="#fef8f8"/><stop offset="0.4467" stop-color="#fef5f5"/><stop offset="0.4549" stop-color="#fdf0f0"/><stop offset="0.4631" stop-color="#fdf3f3"/><stop offset="0.4713" stop-color="#fdeeee"/><stop offset="0.4959" stop-color="#fce9e9"/><stop offset="0.5041" stop-color="#fcecec"/><stop offset="0.5123" stop-color="#fce7e7"/><stop offset="0.5205" stop-color="#fceaea"/><stop offset="0.5287" stop-color="#fce8e8"/><stop offset="0.5451" stop-color="#fcecec"/><stop offset="0.5533" stop-color="#fceaea"/><stop offset="0.5615" stop-color="#fdf1f1"/><stop offset="0.5697" stop-color="#fdf0f0"/><stop offset="0.5861" stop-color="#fef7f7"/><stop offset="0.6189" stop-color="#fffefe"/><stop offset="0.6516" stop-color="#fbfbfe"/><stop offset="0.6598" stop-color="#f7f5fd"/><stop offset="0.6680" stop-color="#f8f6fd"/><stop offset="0.6926" stop-color="#f0eefb"/><stop offset="0.7008" stop-color="#ebe8fa"/><stop offset="0.7090" stop-color="#ece9fa"/><stop offset="0.7172" stop-color="#e7e3f9"/><stop offset="0.7336" stop-color="#e5e0f8"/><stop offset="0.7500" stop-color="#dbd5f6"/><stop offset="0.7664" stop-color="#b3aae8"/><stop offset="0.7828" stop-color="#716ac4"/><stop offset="0.7910" stop-color="#5d58b8"/><stop offset="0.7992" stop-color="#5854b3"/><stop offset="0.8074" stop-color="#615bbb"/><stop offset="0.8156" stop-color="#7a73c9"/><stop offset="0.8238" stop-color="#a098de"/><stop offset="0.8320" stop-color="#c2baed"/><stop offset="0.8402" stop-color="#d9d3f5"/><stop offset="0.8484" stop-color="#ebe7fa"/><stop offset="0.8648" stop-color="#f9f8fd"/><stop offset="0.8811" stop-color="#fffefe"/><stop offset="0.8975" stop-color="#fef9f9"/><stop offset="0.9057" stop-color="#fdf2f2"/><stop offset="0.9139" stop-color="#fef4f4"/><stop offset="0.9303" stop-color="#fdf1f1"/><stop offset="0.9385" stop-color="#fdf4f4"/><stop offset="0.9467" stop-color="#fdf1f1"/><stop offset="0.9549" stop-color="#fef7f7"/><stop offset="0.9631" stop-color="#fef5f5"/><stop offset="0.9959" stop-color="#fffdfd"/></linearGradient>
<linearGradient id="gd13" gradientUnits="userSpaceOnUse" x1="0" y1="16" x2="0" y2="138"><stop offset="0.0041" stop-color="#ffffff"/><stop offset="0.2664" stop-color="#ffffff"/><stop offset="0.3484" stop-color="#fefafa"/><stop offset="0.3566" stop-color="#fef6f6"/><stop offset="0.3648" stop-color="#fef9f9"/><stop offset="0.3730" stop-color="#fef6f6"/><stop offset="0.4057" stop-color="#fef9f9"/><stop offset="0.4139" stop-color="#fef6f6"/><stop offset="0.4221" stop-color="#fef8f8"/><stop offset="0.4467" stop-color="#fef6f6"/><stop offset="0.4549" stop-color="#fdf1f1"/><stop offset="0.4631" stop-color="#fdf3f3"/><stop offset="0.4713" stop-color="#fdeeee"/><stop offset="0.4959" stop-color="#fceaea"/><stop offset="0.5041" stop-color="#fcecec"/><stop offset="0.5123" stop-color="#fce7e7"/><stop offset="0.5205" stop-color="#fceaea"/><stop offset="0.5287" stop-color="#fce8e8"/><stop offset="0.5451" stop-color="#fcecec"/><stop offset="0.5533" stop-color="#fceaea"/><stop offset="0.5615" stop-color="#fdf1f1"/><stop offset="0.5697" stop-color="#fdf0f0"/><stop offset="0.6025" stop-color="#fffcfc"/><stop offset="0.6270" stop-color="#ffffff"/><stop offset="0.6516" stop-color="#fcfbfe"/><stop offset="0.6598" stop-color="#f8f6fd"/><stop offset="0.6680" stop-color="#f8f7fd"/><stop offset="0.6926" stop-color="#f1effc"/><stop offset="0.7008" stop-color="#ece9fa"/><stop offset="0.7090" stop-color="#edeafb"/><stop offset="0.7172" stop-color="#e8e4f9"/><stop offset="0.7336" stop-color="#e6e1f9"/><stop offset="0.7500" stop-color="#ded9f7"/><stop offset="0.7664" stop-color="#bcb4eb"/><stop offset="0.7828" stop-color="#7a73c9"/><stop offset="0.7910" stop-color="#5f5aba"/><stop offset="0.7992" stop-color="#5552b1"/><stop offset="0.8074" stop-color="#5a56b5"/><stop offset="0.8156" stop-color="#6962c0"/><stop offset="0.8320" stop-color="#b3aae8"/><stop offset="0.8402" stop-color="#cfc8f2"/><stop offset="0.8484" stop-color="#e6e1f9"/><stop offset="0.8648" stop-color="#f7f6fd"/><stop offset="0.8811" stop-color="#ffffff"/><stop offset="0.8975" stop-color="#fef9f9"/><stop offset="0.9057" stop-color="#fdf3f3"/><stop offset="0.9139" stop-color="#fef4f4"/><stop offset="0.9303" stop-color="#fdf1f1"/><stop offset="0.9385" stop-color="#fdf4f4"/><stop offset="0.9467" stop-color="#fdf1f1"/><stop offset="0.9549" stop-color="#fef7f7"/><stop offset="0.9631" stop-color="#fef5f5"/><stop offset="0.9959" stop-color="#fffdfd"/></linearGradient>
<linearGradient id="gd14" gradientUnits="userSpaceOnUse" x1="0" y1="16" x2="0" y2="138"><stop offset="0.0041" stop-color="#ffffff"/><stop offset="0.2664" stop-color="#ffffff"/><stop offset="0.3484" stop-color="#fefafa"/><stop offset="0.3566" stop-color="#fef7f7"/><stop offset="0.3648" stop-color="#fefafa"/><stop offset="0.3730" stop-color="#fef7f7"/><stop offset="0.4057" stop-color="#fefafa"/><stop offset="0.4139" stop-color="#fef6f6"/><stop offset="0.4221" stop-color="#fef9f9"/><stop offset="0.4467" stop-color="#fef6f6"/><stop offset="0.4549" stop-color="#fdf1f1"/><stop offset="0.4631" stop-color="#fdf4f4"/><stop offset="0.4713" stop-color="#fdefef"/><stop offset="0.4959" stop-color="#fceaea"/><stop offset="0.5041" stop-color="#fceded"/><stop offset="0.5123" stop-color="#fce8e8"/><stop offset="0.5205" stop-color="#fcebeb"/><stop offset="0.5533" stop-color="#fcebeb"/><stop offset="0.5615" stop-color="#fdf1f1"/><stop offset="0.5697" stop-color="#fdf0f0"/><stop offset="0.6025" stop-color="#fffcfc"/><stop offset="0.6270" stop-color="#ffffff"/><stop offset="0.6516" stop-color="#fcfcfe"/><stop offset="0.6926" stop-color="#f2f0fc"/><stop offset="0.7008" stop-color="#edeafb"/><stop offset="0.7090" stop-color="#eeebfb"/><stop offset="0.7172" stop-color="#e9e5fa"/><stop offset="0.7500" stop-color="#e1dcf7"/><stop offset="0.7664" stop-color="#c6bfef"/><stop offset="0.7746" stop-color="#a9a0e3"/><stop offset="0.7910" stop-color="#6660be"/><stop offset="0.7992" stop-color="#5552b2"/><stop offset="0.8074" stop-color="#5551b1"/><stop offset="0.8156" stop-color="#5c57b7"/><stop offset="0.8238" stop-color="#7b74ca"/><stop offset="0.8320" stop-color="#a199df"/><stop offset="0.8402" stop-color="#c2baed"/><stop offset="0.8484" stop-color="#ded9f7"/><stop offset="0.8648" stop-color="#f5f3fc"/><stop offset="0.8811" stop-color="#fefeff"/><stop offset="0.8975" stop-color="#fefafa"/><stop offset="0.9057" stop-color="#fdf3f3"/><stop offset="0.9467" stop-color="#fdf1f1"/><stop offset="0.9549" stop-color="#fef7f7"/><stop offset="0.9631" stop-color="#fef5f5"/><stop offset="0.9959" stop-color="#fffdfd"/></linearGradient>
<linearGradient id="gd15" gradientUnits="userSpaceOnUse" x1="0" y1="16" x2="0" y2="138"><stop offset="0.0041" stop-color="#ffffff"/><stop offset="0.2664" stop-color="#ffffff"/><stop offset="0.3484" stop-color="#fefafa"/><stop offset="0.3566" stop-color="#fef7f7"/><stop offset="0.3648" stop-color="#fefafa"/><stop offset="0.3730" stop-color="#fef7f7"/><stop offset="0.4057" stop-color="#fefafa"/><stop offset="0.4139" stop-color="#fef6f6"/><stop offset="0.4221" stop-color="#fef9f9"/><stop offset="0.4467" stop-color="#fef6f6"/><stop offset="0.4549" stop-color="#fdf1f1"/><stop offset="0.4631" stop-color="#fdf4f4"/><stop offset="0.4713" stop-color="#fdefef"/><stop offset="0.4959" stop-color="#fcebeb"/><stop offset="0.5041" stop-color="#fdeeee"/><stop offset="0.5123" stop-color="#fce9e9"/><stop offset="0.5205" stop-color="#fcecec"/><stop offset="0.5533" stop-color="#fcecec"/><stop offset="0.5615" stop-color="#fdf2f2"/><stop offset="0.5697" stop-color="#fdf1f1"/><stop offset="0.6025" stop-color="#fffcfc"/><stop offset="0.6270" stop-color="#ffffff"/><stop offset="0.6680" stop-color="#faf9fe"/><stop offset="0.6926" stop-color="#f4f2fc"/><stop offset="0.7008" stop-color="#eeebfb"/><stop offset="0.7090" stop-color="#efedfb"/><stop offset="0.7172" stop-color="#eae7fa"/><stop offset="0.7500" stop-color="#e3dff8"/><stop offset="0.7664" stop-color="#d0c9f2"/><stop offset="0.7746" stop-color="#b7aee9"/><stop offset="0.7910" stop-color="#756ec6"/><stop offset="0.7992" stop-color="#5955b5"/><stop offset="0.8074" stop-color="#5250af"/><stop offset="0.8156" stop-color="#5451b1"/><stop offset="0.8238" stop-color="#655fbe"/><stop offset="0.8402" stop-color="#b0a7e7"/><stop offset="0.8484" stop-color="#d3cdf3"/><stop offset="0.8648" stop-color="#f1effc"/><stop offset="0.8811" stop-color="#fcfcfe"/><stop offset="0.8893" stop-color="#fffdfd"/><stop offset="0.8975" stop-color="#fefafa"/><stop offset="0.9057" stop-color="#fdf4f4"/><stop offset="0.9467" stop-color="#fdf1f1"/><stop offset="0.9549" stop-color="#fef7f7"/><stop offset="0.9631" stop-color="#fef5f5"/><stop offset="0.9959" stop-color="#fffdfd"/></linearGradient>
<linearGradient id="gd16" gradientUnits="userSpaceOnUse" x1="0" y1="16" x2="0" y2="138"><stop offset="0.0041" stop-color="#ffffff"/><stop offset="0.2664" stop-color="#ffffff"/><stop offset="0.3484" stop-color="#fefafa"/><stop offset="0.3566" stop-color="#fef7f7"/><stop offset="0.3648" stop-color="#fefafa"/><stop offset="0.3730" stop-color="#fef7f7"/><stop offset="0.4057" stop-color="#fefafa"/><stop offset="0.4139" stop-color="#fef7f7"/><stop offset="0.4221" stop-color="#fef9f9"/><stop offset="0.4467" stop-color="#fef7f7"/><stop offset="0.4549" stop-color="#fdf2f2"/><stop offset="0.4631" stop-color="#fef5f5"/><stop offset="0.4713" stop-color="#fdf0f0"/><stop offset="0.4959" stop-color="#fcecec"/><stop offset="0.5041" stop-color="#fdefef"/><stop offset="0.5123" stop-color="#fceaea"/><stop offset="0.5205" stop-color="#fceded"/><stop offset="0.5533" stop-color="#fceded"/><stop offset="0.5615" stop-color="#fdf3f3"/><stop offset="0.5697" stop-color="#fdf2f2"/><stop offset="0.5861" stop-color="#fef8f8"/><stop offset="0.6189" stop-color="#fffefe"/><stop offset="0.6680" stop-color="#fbfafe"/><stop offset="0.6926" stop-color="#f5f3fc"/><stop offset="0.7008" stop-color="#f0edfb"/><stop offset="0.7090" stop-color="#f1eefb"/><stop offset="0.7172" stop-color="#ebe8fa"/><stop offset="0.7500" stop-color="#e5e1f9"/><stop offset="0.7664" stop-color="#d8d2f5"/><stop offset="0.7746" stop-color="#c4bdee"/><stop offset="0.7828" stop-color="#a9a0e3"/><stop offset="0.7910" stop-color="#8780d1"/><stop offset="0.7992" stop-color="#605bbb"/><stop offset="0.8074" stop-color="#5451b1"/><stop offset="0.8156" stop-color="#4f4dad"/><stop offset="0.8238" stop-color="#5955b5"/><stop offset="0.8320" stop-color="#746ec6"/><stop offset="0.8484" stop-color="#c3bbed"/><stop offset="0.8566" stop-color="#dad4f6"/><stop offset="0.8648" stop-color="#ece9fa"/><stop offset="0.8811" stop-color="#fafafe"/><stop offset="0.8893" stop-color="#fffefe"/><stop offset="0.9057" stop-color="#fef4f4"/><stop offset="0.9303" stop-color="#fdf1f1"/><stop offset="0.9385" stop-color="#fdf4f4"/><stop offset="0.9467" stop-color="#fdf1f1"/><stop offset="0.9549" stop-color="#fef7f7"/><stop offset="0.9631" stop-color="#fef5f5"/><stop offset="0.9959" stop-color="#fffdfd"/></linearGradient>
<linearGradient id="gd17" gradientUnits="userSpaceOnUse" x1="0" y1="16" x2="0" y2="138"><stop offset="0.0041" stop-color="#ffffff"/><stop offset="0.2664" stop-color="#ffffff"/><stop offset="0.3566" stop-color="#fef8f8"/><stop offset="0.4057" stop-color="#fefafa"/><stop offset="0.4139" stop-color="#fef7f7"/><stop offset="0.4221" stop-color="#fefafa"/><stop offset="0.4467" stop-color="#fef8f8"/><stop offset="0.4549" stop-color="#fdf3f3"/><stop offset="0.4631" stop-color="#fef6f6"/><stop offset="0.4713" stop-color="#fdf1f1"/><stop offset="0.4959" stop-color="#fdeded"/><stop offset="0.5041" stop-color="#fdf0f0"/><stop offset="0.5123" stop-color="#fcebeb"/><stop offset="0.5205" stop-color="#fdeeee"/><stop offset="0.5533" stop-color="#fdeeee"/><stop offset="0.5615" stop-color="#fdf4f4"/><stop offset="0.5697" stop-color="#fdf2f2"/><stop offset="0.6025" stop-color="#fffcfc"/><stop offset="0.6352" stop-color="#ffffff"/><stop offset="0.6680" stop-color="#fcfbfe"/><stop offset="0.6926" stop-color="#f6f5fd"/><stop offset="0.7008" stop-color="#f1effc"/><stop offset="0.7090" stop-color="#f2f0fc"/><stop offset="0.7172" stop-color="#edeafa"/><stop offset="0.7418" stop-color="#e7e2f9"/><stop offset="0.7500" stop-color="#e7e3f9"/><stop offset="0.7582" stop-color="#e1dcf7"/><stop offset="0.7664" stop-color="#ded9f7"/><stop offset="0.7746" stop-color="#d0c9f2"/><stop offset="0.7828" stop-color="#bab2ea"/><stop offset="0.7910" stop-color="#9d94dc"/><stop offset="0.7992" stop-color="#746dc6"/><stop offset="0.8074" stop-color="#5b56b6"/><stop offset="0.8156" stop-color="#4f4dac"/><stop offset="0.8238" stop-color="#524fae"/><stop offset="0.8320" stop-color="#5f5aba"/><stop offset="0.8402" stop-color="#827bce"/><stop offset="0.8484" stop-color="#ada4e5"/><stop offset="0.8566" stop-color="#cbc4f0"/><stop offset="0.8648" stop-color="#e5e0f8"/><stop offset="0.8811" stop-color="#f8f6fd"/><stop offset="0.8893" stop-color="#fefeff"/><stop offset="0.8975" stop-color="#fffcfc"/><stop offset="0.9057" stop-color="#fef6f6"/><stop offset="0.9467" stop-color="#fdf1f1"/><stop offset="0.9549" stop-color="#fef7f7"/><stop offset="0.9631" stop-color="#fef5f5"/><stop offset="0.9959" stop-color="#fffdfd"/></linearGradient>
<linearGradient id="gd18" gradientUnits="userSpaceOnUse" x1="0" y1="16" x2="0" y2="138"><stop offset="0.0041" stop-color="#ffffff"/><stop offset="0.2664" stop-color="#ffffff"/><stop offset="0.3566" stop-color="#fef9f9"/><stop offset="0.4057" stop-color="#fefbfb"/><stop offset="0.4139" stop-color="#fef8f8"/><stop offset="0.4467" stop-color="#fef8f8"/><stop offset="0.4549" stop-color="#fdf4f4"/><stop offset="0.4631" stop-color="#fef7f7"/><stop offset="0.4713" stop-color="#fdf2f2"/><stop offset="0.4959" stop-color="#fdefef"/><stop offset="0.5041" stop-color="#fdf2f2"/><stop offset="0.5123" stop-color="#fceded"/><stop offset="0.5205" stop-color="#fdf0f0"/><stop offset="0.5533" stop-color="#fdefef"/><stop offset="0.5615" stop-color="#fef5f5"/><stop offset="0.5697" stop-color="#fdf3f3"/><stop offset="0.6025" stop-color="#fffdfd"/><stop offset="0.6352" stop-color="#ffffff"/><stop offset="0.6926" stop-color="#f8f7fd"/><stop offset="0.7008" stop-color="#f3f1fc"/><stop offset="0.7090" stop-color="#f4f2fc"/><stop offset="0.7172" stop-color="#eeecfb"/><stop offset="0.7418" stop-color="#e8e4f9"/><stop offset="0.7500" stop-color="#e9e5fa"/><stop offset="0.7582" stop-color="#e3def8"/><stop offset="0.7664" stop-color="#e2def8"/><stop offset="0.7746" stop-color="#d9d3f5"/><stop offset="0.7828" stop-color="#cac3f0"/><stop offset="0.7910" stop-color="#b2a9e8"/><stop offset="0.8074" stop-color="#6a63c0"/><stop offset="0.8156" stop-color="#5451b0"/><stop offset="0.8238" stop-color="#4f4cac"/><stop offset="0.8320" stop-color="#5551b1"/><stop offset="0.8402" stop-color="#6761bf"/><stop offset="0.8484" stop-color="#948cd7"/><stop offset="0.8566" stop-color="#b6aee9"/><stop offset="0.8648" stop-color="#d9d3f5"/><stop offset="0.8730" stop-color="#e9e5f9"/><stop offset="0.8893" stop-color="#fcfbfe"/><stop offset="0.8975" stop-color="#fffefe"/><stop offset="0.9057" stop-color="#fef7f7"/><stop offset="0.9221" stop-color="#fdf3f3"/><stop offset="0.9385" stop-color="#fdf4f4"/><stop offset="0.9467" stop-color="#fdf1f1"/><stop offset="0.9549" stop-color="#fef7f7"/><stop offset="0.9631" stop-color="#fef5f5"/><stop offset="0.9959" stop-color="#fffdfd"/></linearGradient>
<linearGradient id="gd19" gradientUnits="userSpaceOnUse" x1="0" y1="16" x2="0" y2="138"><stop offset="0.0041" stop-color="#ffffff"/><stop offset="0.2664" stop-color="#ffffff"/><stop offset="0.3566" stop-color="#fef9f9"/><stop offset="0.4057" stop-color="#fefbfb"/><stop offset="0.4467" stop-color="#fef9f9"/><stop offset="0.4549" stop-color="#fef5f5"/><stop offset="0.4631" stop-color="#fef8f8"/><stop offset="0.4713" stop-color="#fdf3f3"/><stop offset="0.4959" stop-color="#fdf1f1"/><stop offset="0.5041" stop-color="#fdf3f3"/><stop offset="0.5123" stop-color="#fdefef"/><stop offset="0.5205" stop-color="#fdf2f2"/><stop offset="0.5533" stop-color="#fdf1f1"/><stop offset="0.5615" stop-color="#fef6f6"/><stop offset="0.5697" stop-color="#fef5f5"/><stop offset="0.6025" stop-color="#fffdfd"/><stop offset="0.6352" stop-color="#ffffff"/><stop offset="0.6926" stop-color="#f9f8fe"/><stop offset="0.7008" stop-color="#f4f3fc"/><stop offset="0.7090" stop-color="#f6f4fd"/><stop offset="0.7172" stop-color="#f0eefb"/><stop offset="0.7418" stop-color="#eae6fa"/><stop offset="0.7500" stop-color="#ebe7fa"/><stop offset="0.7582" stop-color="#e5e1f9"/><stop offset="0.7664" stop-color="#e6e1f9"/><stop offset="0.7828" stop-color="#d6d0f4"/><stop offset="0.7910" stop-color="#c6beef"/><stop offset="0.7992" stop-color="#a69de1"/><stop offset="0.8074" stop-color="#867ed0"/><stop offset="0.8156" stop-color="#5f5aba"/><stop offset="0.8238" stop-color="#5250af"/><stop offset="0.8320" stop-color="#504dad"/><stop offset="0.8402" stop-color="#5955b4"/><stop offset="0.8484" stop-color="#7871c8"/><stop offset="0.8566" stop-color="#9d95dd"/><stop offset="0.8648" stop-color="#c6beef"/><stop offset="0.8730" stop-color="#dfdaf7"/><stop offset="0.8811" stop-color="#eeebfb"/><stop offset="0.8893" stop-color="#f9f8fe"/><stop offset="0.8975" stop-color="#fefeff"/><stop offset="0.9221" stop-color="#fdf4f4"/><stop offset="0.9467" stop-color="#fdf2f2"/><stop offset="0.9549" stop-color="#fef7f7"/><stop offset="0.9631" stop-color="#fef5f5"/><stop offset="0.9959" stop-color="#fffdfd"/></linearGradient>
<linearGradient id="gd20" gradientUnits="userSpaceOnUse" x1="0" y1="16" x2="0" y2="138"><stop offset="0.0041" stop-color="#ffffff"/><stop offset="0.4057" stop-color="#fffcfc"/><stop offset="0.4467" stop-color="#fefafa"/><stop offset="0.4549" stop-color="#fef7f7"/><stop offset="0.4631" stop-color="#fef9f9"/><stop offset="0.4713" stop-color="#fef5f5"/><stop offset="0.4959" stop-color="#fdf3f3"/><stop offset="0.5041" stop-color="#fef6f6"/><stop offset="0.5123" stop-color="#fdf1f1"/><stop offset="0.5205" stop-color="#fef4f4"/><stop offset="0.5533" stop-color="#fdf3f3"/><stop offset="0.5615" stop-color="#fef8f8"/><stop offset="0.5697" stop-color="#fef6f6"/><stop offset="0.6189" stop-color="#fffefe"/><stop offset="0.6516" stop-color="#fffeff"/><stop offset="0.6926" stop-color="#fbfafe"/><stop offset="0.7008" stop-color="#f6f5fd"/><stop offset="0.7090" stop-color="#f8f6fd"/><stop offset="0.7172" stop-color="#f2f0fc"/><stop offset="0.7418" stop-color="#ece9fa"/><stop offset="0.7500" stop-color="#edeafa"/><stop offset="0.7582" stop-color="#e8e4f9"/><stop offset="0.7664" stop-color="#e8e5f9"/><stop offset="0.7828" stop-color="#dfd9f7"/><stop offset="0.7910" stop-color="#d6d0f4"/><stop offset="0.8074" stop-color="#a39be0"/><stop offset="0.8156" stop-color="#7c75ca"/><stop offset="0.8238" stop-color="#5e59b9"/><stop offset="0.8320" stop-color="#5350af"/><stop offset="0.8402" stop-color="#5250af"/><stop offset="0.8484" stop-color="#615bbb"/><stop offset="0.8566" stop-color="#827bce"/><stop offset="0.8648" stop-color="#ada4e5"/><stop offset="0.8730" stop-color="#cfc8f2"/><stop offset="0.8811" stop-color="#e5e1f9"/><stop offset="0.8893" stop-color="#f4f2fc"/><stop offset="0.9057" stop-color="#fffdfd"/><stop offset="0.9221" stop-color="#fef5f5"/><stop offset="0.9467" stop-color="#fdf2f2"/><stop offset="0.9549" stop-color="#fef7f7"/><stop offset="0.9631" stop-color="#fef5f5"/><stop offset="0.9959" stop-color="#fffdfd"/></linearGradient>
<linearGradient id="gd21" gradientUnits="userSpaceOnUse" x1="0" y1="16" x2="0" y2="138"><stop offset="0.0041" stop-color="#ffffff"/><stop offset="0.4057" stop-color="#fffdfd"/><stop offset="0.4549" stop-color="#fef8f8"/><stop offset="0.4631" stop-color="#fefafa"/><stop offset="0.4959" stop-color="#fef5f5"/><stop offset="0.5041" stop-color="#fef8f8"/><stop offset="0.5123" stop-color="#fdf3f3"/><stop offset="0.5205" stop-color="#fef7f7"/><stop offset="0.5533" stop-color="#fef5f5"/><stop offset="0.5615" stop-color="#fefafa"/><stop offset="0.5697" stop-color="#fef8f8"/><stop offset="0.6352" stop-color="#ffffff"/><stop offset="0.6926" stop-color="#fbfafe"/><stop offset="0.7008" stop-color="#f7f5fd"/><stop offset="0.7090" stop-color="#f8f7fd"/><stop offset="0.7172" stop-color="#f3f1fc"/><stop offset="0.7418" stop-color="#edeafa"/><stop offset="0.7500" stop-color="#eeebfb"/><stop offset="0.7582" stop-color="#e9e5f9"/><stop offset="0.7664" stop-color="#eae6fa"/><stop offset="0.7828" stop-color="#e1dbf7"/><stop offset="0.7910" stop-color="#d9d3f5"/><stop offset="0.8074" stop-color="#a8a0e3"/><stop offset="0.8156" stop-color="#827bce"/><stop offset="0.8238" stop-color="#625cbc"/><stop offset="0.8320" stop-color="#5854b3"/><stop offset="0.8402" stop-color="#5753b3"/><stop offset="0.8484" stop-color="#6861bf"/><stop offset="0.8566" stop-color="#8881d1"/><stop offset="0.8648" stop-color="#b2a9e8"/><stop offset="0.8730" stop-color="#d2cbf3"/><stop offset="0.8811" stop-color="#e7e3f9"/><stop offset="0.8893" stop-color="#f5f3fd"/><stop offset="0.8975" stop-color="#fbfafe"/><stop offset="0.9057" stop-color="#fffcfc"/><stop offset="0.9221" stop-color="#fef5f5"/><stop offset="0.9467" stop-color="#fdf2f2"/><stop offset="0.9549" stop-color="#fef8f8"/><stop offset="0.9631" stop-color="#fef6f6"/><stop offset="0.9959" stop-color="#fffdfd"/></linearGradient>
<linearGradient id="gd22" gradientUnits="userSpaceOnUse" x1="0" y1="16" x2="0" y2="138"><stop offset="0.0041" stop-color="#ffffff"/><stop offset="0.4057" stop-color="#fffdfd"/><stop offset="0.4959" stop-color="#fef7f7"/><stop offset="0.5041" stop-color="#fefafa"/><stop offset="0.5123" stop-color="#fef6f6"/><stop offset="0.5205" stop-color="#fef9f9"/><stop offset="0.5533" stop-color="#fef7f7"/><stop offset="0.5615" stop-color="#fefbfb"/><stop offset="0.6352" stop-color="#ffffff"/><stop offset="0.6926" stop-color="#fbfbfe"/><stop offset="0.7008" stop-color="#f8f6fd"/><stop offset="0.7090" stop-color="#f9f8fe"/><stop offset="0.7172" stop-color="#f4f2fc"/><stop offset="0.7418" stop-color="#efecfb"/><stop offset="0.7500" stop-color="#f0edfb"/><stop offset="0.7582" stop-color="#ebe8fa"/><stop offset="0.7664" stop-color="#ece9fa"/><stop offset="0.7910" stop-color="#ddd7f7"/><stop offset="0.8074" stop-color="#b1a8e7"/><stop offset="0.8156" stop-color="#8e86d4"/><stop offset="0.8238" stop-color="#726bc5"/><stop offset="0.8320" stop-color="#605bbb"/><stop offset="0.8402" stop-color="#605aba"/><stop offset="0.8484" stop-color="#7670c7"/><stop offset="0.8566" stop-color="#948cd7"/><stop offset="0.8648" stop-color="#bab2eb"/><stop offset="0.8730" stop-color="#d7d1f5"/><stop offset="0.8811" stop-color="#eae6fa"/><stop offset="0.8893" stop-color="#f7f5fd"/><stop offset="0.8975" stop-color="#fcfbfe"/><stop offset="0.9057" stop-color="#fffcfc"/><stop offset="0.9221" stop-color="#fef6f6"/><stop offset="0.9385" stop-color="#fef6f6"/><stop offset="0.9467" stop-color="#fdf3f3"/><stop offset="0.9549" stop-color="#fef8f8"/><stop offset="0.9631" stop-color="#fef6f6"/><stop offset="0.9959" stop-color="#fffdfd"/></linearGradient>
<linearGradient id="gd23" gradientUnits="userSpaceOnUse" x1="0" y1="16" x2="0" y2="138"><stop offset="0.0041" stop-color="#ffffff"/><stop offset="0.4057" stop-color="#fffefe"/><stop offset="0.5123" stop-color="#fef9f9"/><stop offset="0.6352" stop-color="#ffffff"/><stop offset="0.7090" stop-color="#faf9fe"/><stop offset="0.7172" stop-color="#f6f4fd"/><stop offset="0.7418" stop-color="#f1effc"/><stop offset="0.7500" stop-color="#f3f1fc"/><stop offset="0.7582" stop-color="#eeebfb"/><stop offset="0.7664" stop-color="#f0edfb"/><stop offset="0.7910" stop-color="#e3dff8"/><stop offset="0.8074" stop-color="#c0b8ed"/><stop offset="0.8156" stop-color="#a198df"/><stop offset="0.8238" stop-color="#8982d2"/><stop offset="0.8320" stop-color="#7a73c9"/><stop offset="0.8402" stop-color="#7972c9"/><stop offset="0.8566" stop-color="#a69de1"/><stop offset="0.8648" stop-color="#c8c1ef"/><stop offset="0.8730" stop-color="#dfd9f7"/><stop offset="0.8893" stop-color="#f9f8fd"/><stop offset="0.8975" stop-color="#fdfdff"/><stop offset="0.9221" stop-color="#fef7f7"/><stop offset="0.9385" stop-color="#fef7f7"/><stop offset="0.9467" stop-color="#fdf4f4"/><stop offset="0.9549" stop-color="#fef9f9"/><stop offset="0.9631" stop-color="#fef7f7"/><stop offset="0.9959" stop-color="#fffdfd"/></linearGradient>
<linearGradient id="gd24" gradientUnits="userSpaceOnUse" x1="0" y1="16" x2="0" y2="138"><stop offset="0.0041" stop-color="#ffffff"/><stop offset="0.5123" stop-color="#fffcfc"/><stop offset="0.6352" stop-color="#ffffff"/><stop offset="0.7090" stop-color="#fbfbfe"/><stop offset="0.7418" stop-color="#f5f3fc"/><stop offset="0.7500" stop-color="#f7f5fd"/><stop offset="0.7582" stop-color="#f2f0fc"/><stop offset="0.7664" stop-color="#f4f3fc"/><stop offset="0.7910" stop-color="#ebe8fa"/><stop offset="0.8074" stop-color="#d3ccf3"/><stop offset="0.8156" stop-color="#bab1ea"/><stop offset="0.8238" stop-color="#a89fe2"/><stop offset="0.8320" stop-color="#9c94dc"/><stop offset="0.8402" stop-color="#9b93db"/><stop offset="0.8566" stop-color="#beb6ec"/><stop offset="0.8648" stop-color="#d9d3f5"/><stop offset="0.8730" stop-color="#e8e4f9"/><stop offset="0.8893" stop-color="#fbfbfe"/><stop offset="0.8975" stop-color="#ffffff"/><stop offset="0.9221" stop-color="#fef8f8"/><stop offset="0.9467" stop-color="#fef6f6"/><stop offset="0.9549" stop-color="#fefafa"/><stop offset="0.9631" stop-color="#fef8f8"/><stop offset="0.9959" stop-color="#fffdfd"/></linearGradient>
<linearGradient id="gd25" gradientUnits="userSpaceOnUse" x1="0" y1="16" x2="0" y2="138"><stop offset="0.0041" stop-color="#ffffff"/><stop offset="0.6352" stop-color="#ffffff"/><stop offset="0.7090" stop-color="#fdfcfe"/><stop offset="0.7418" stop-color="#f8f7fd"/><stop offset="0.7500" stop-color="#faf9fe"/><stop offset="0.7582" stop-color="#f7f5fd"/><stop offset="0.7664" stop-color="#f9f8fd"/><stop offset="0.7910" stop-color="#f3f1fc"/><stop offset="0.8074" stop-color="#e4e0f8"/><stop offset="0.8156" stop-color="#d4cef4"/><stop offset="0.8238" stop-color="#c9c1f0"/><stop offset="0.8320" stop-color="#c0b9ed"/><stop offset="0.8402" stop-color="#bfb7ec"/><stop offset="0.8566" stop-color="#d7d1f5"/><stop offset="0.8648" stop-color="#e8e4f9"/><stop offset="0.8893" stop-color="#fefdff"/><stop offset="0.9467" stop-color="#fef8f8"/><stop offset="0.9549" stop-color="#fefbfb"/><stop offset="0.9959" stop-color="#fffdfd"/></linearGradient>
<linearGradient id="gd26" gradientUnits="userSpaceOnUse" x1="0" y1="16" x2="0" y2="138"><stop offset="0.0041" stop-color="#ffffff"/><stop offset="0.6516" stop-color="#ffffff"/><stop offset="0.7664" stop-color="#fcfbfe"/><stop offset="0.7910" stop-color="#f9f8fe"/><stop offset="0.7992" stop-color="#f3f1fc"/><stop offset="0.8074" stop-color="#f1effc"/><stop offset="0.8156" stop-color="#e7e3f9"/><stop offset="0.8238" stop-color="#e2ddf8"/><stop offset="0.8402" stop-color="#ddd7f6"/><stop offset="0.8484" stop-color="#e5e0f8"/><stop offset="0.8566" stop-color="#e9e5f9"/><stop offset="0.8648" stop-color="#f4f2fc"/><stop offset="0.8811" stop-color="#fdfcfe"/><stop offset="0.8893" stop-color="#fffefe"/><stop offset="0.9057" stop-color="#fefafa"/><stop offset="0.9467" stop-color="#fef9f9"/><stop offset="0.9959" stop-color="#fffdfd"/></linearGradient>
<linearGradient id="gd27" gradientUnits="userSpaceOnUse" x1="0" y1="16" x2="0" y2="138"><stop offset="0.0041" stop-color="#ffffff"/><stop offset="0.7664" stop-color="#fefeff"/><stop offset="0.8074" stop-color="#faf9fe"/><stop offset="0.8156" stop-color="#f3f1fc"/><stop offset="0.8402" stop-color="#eeebfb"/><stop offset="0.8730" stop-color="#fefdff"/><stop offset="0.9057" stop-color="#fef9f9"/><stop offset="0.9959" stop-color="#fffdfd"/></linearGradient>
<linearGradient id="gd28" gradientUnits="userSpaceOnUse" x1="0" y1="16" x2="0" y2="138"><stop offset="0.0041" stop-color="#ffffff"/><stop offset="0.7910" stop-color="#ffffff"/><stop offset="0.8402" stop-color="#f8f7fd"/><stop offset="0.8648" stop-color="#ffffff"/><stop offset="0.9057" stop-color="#fef8f8"/><stop offset="0.9959" stop-color="#fffdfd"/></linearGradient>
<linearGradient id="gd29" gradientUnits="userSpaceOnUse" x1="0" y1="16" x2="0" y2="138"><stop offset="0.0041" stop-color="#ffffff"/><stop offset="0.8484" stop-color="#ffffff"/><stop offset="0.9057" stop-color="#fef8f8"/><stop offset="0.9959" stop-color="#fffdfd"/></linearGradient>
<linearGradient id="gd30" gradientUnits="userSpaceOnUse" x1="0" y1="16" x2="0" y2="138"><stop offset="0.0041" stop-color="#ffffff"/><stop offset="0.7008" stop-color="#ffffff"/><stop offset="0.8402" stop-color="#fffcfc"/><stop offset="0.8893" stop-color="#fef7f7"/><stop offset="0.8975" stop-color="#fefafa"/><stop offset="0.9057" stop-color="#fef7f7"/><stop offset="0.9139" stop-color="#fefafa"/><stop offset="0.9467" stop-color="#fef8f8"/><stop offset="0.9959" stop-color="#fffdfd"/></linearGradient>
<linearGradient id="gd31" gradientUnits="userSpaceOnUse" x1="0" y1="16" x2="0" y2="138"><stop offset="0.0041" stop-color="#ffffff"/><stop offset="0.7008" stop-color="#fffefe"/><stop offset="0.8402" stop-color="#fef9f9"/><stop offset="0.8484" stop-color="#fef6f6"/><stop offset="0.8566" stop-color="#fef9f9"/><stop offset="0.8648" stop-color="#fef5f5"/><stop offset="0.8893" stop-color="#fef5f5"/><stop offset="0.8975" stop-color="#fef9f9"/><stop offset="0.9057" stop-color="#fef5f5"/><stop offset="0.9139" stop-color="#fef8f8"/><stop offset="0.9467" stop-color="#fef7f7"/><stop offset="0.9549" stop-color="#fefafa"/><stop offset="0.9631" stop-color="#fef9f9"/><stop offset="0.9959" stop-color="#fffcfc"/></linearGradient>
<linearGradient id="gd32" gradientUnits="userSpaceOnUse" x1="0" y1="16" x2="0" y2="138"><stop offset="0.0041" stop-color="#ffffff"/><stop offset="0.7008" stop-color="#fffefe"/><stop offset="0.8402" stop-color="#fef9f9"/><stop offset="0.8484" stop-color="#fef5f5"/><stop offset="0.8566" stop-color="#fef8f8"/><stop offset="0.8648" stop-color="#fdf4f4"/><stop offset="0.8893" stop-color="#fdf2f2"/><stop offset="0.8975" stop-color="#fef5f5"/><stop offset="0.9057" stop-color="#fdf1f1"/><stop offset="0.9139" stop-color="#fef4f4"/><stop offset="0.9221" stop-color="#fdf3f3"/><stop offset="0.9385" stop-color="#fef6f6"/><stop offset="0.9467" stop-color="#fdf4f4"/><stop offset="0.9549" stop-color="#fef9f9"/><stop offset="0.9631" stop-color="#fef7f7"/><stop offset="0.9959" stop-color="#fffcfc"/></linearGradient>
<linearGradient id="gd33" gradientUnits="userSpaceOnUse" x1="0" y1="16" x2="0" y2="138"><stop offset="0.0041" stop-color="#ffffff"/><stop offset="0.7172" stop-color="#fffefe"/><stop offset="0.8156" stop-color="#fefafa"/><stop offset="0.8402" stop-color="#fef8f8"/><stop offset="0.8484" stop-color="#fdf3f3"/><stop offset="0.8566" stop-color="#fef5f5"/><stop offset="0.8648" stop-color="#fdf0f0"/><stop offset="0.8893" stop-color="#fceded"/><stop offset="0.8975" stop-color="#fdf0f0"/><stop offset="0.9057" stop-color="#fcecec"/><stop offset="0.9385" stop-color="#fef4f4"/><stop offset="0.9467" stop-color="#fdf2f2"/><stop offset="0.9549" stop-color="#fef8f8"/><stop offset="0.9631" stop-color="#fef6f6"/><stop offset="0.9959" stop-color="#fffcfc"/></linearGradient>
<linearGradient id="gd34" gradientUnits="userSpaceOnUse" x1="0" y1="16" x2="0" y2="138"><stop offset="0.0041" stop-color="#ffffff"/><stop offset="0.7582" stop-color="#fffdfd"/><stop offset="0.8156" stop-color="#fefafa"/><stop offset="0.8402" stop-color="#fef5f5"/><stop offset="0.8484" stop-color="#fdefef"/><stop offset="0.8566" stop-color="#fdf0f0"/><stop offset="0.8648" stop-color="#fcebeb"/><stop offset="0.8893" stop-color="#fce7e7"/><stop offset="0.8975" stop-color="#fceaea"/><stop offset="0.9057" stop-color="#fce7e7"/><stop offset="0.9385" stop-color="#fdf3f3"/><stop offset="0.9467" stop-color="#fdf1f1"/><stop offset="0.9549" stop-color="#fef7f7"/><stop offset="0.9631" stop-color="#fef6f6"/><stop offset="0.9959" stop-color="#fffcfc"/></linearGradient>
<linearGradient id="gd35" gradientUnits="userSpaceOnUse" x1="0" y1="16" x2="0" y2="138"><stop offset="0.0041" stop-color="#ffffff"/><stop offset="0.7582" stop-color="#fffdfd"/><stop offset="0.8156" stop-color="#fef8f8"/><stop offset="0.8402" stop-color="#fdeeee"/><stop offset="0.8484" stop-color="#fce7e7"/><stop offset="0.8566" stop-color="#fce8e8"/><stop offset="0.8648" stop-color="#fbe2e2"/><stop offset="0.8893" stop-color="#fbdfdf"/><stop offset="0.8975" stop-color="#fbe3e3"/><stop offset="0.9057" stop-color="#fbe1e1"/><stop offset="0.9385" stop-color="#fdf0f0"/><stop offset="0.9467" stop-color="#fdf0f0"/><stop offset="0.9549" stop-color="#fef6f6"/><stop offset="0.9631" stop-color="#fef5f5"/><stop offset="0.9959" stop-color="#fffcfc"/></linearGradient>
<linearGradient id="gd36" gradientUnits="userSpaceOnUse" x1="0" y1="16" x2="0" y2="138"><stop offset="0.0041" stop-color="#ffffff"/><stop offset="0.7582" stop-color="#fffdfd"/><stop offset="0.7992" stop-color="#fefbfb"/><stop offset="0.8074" stop-color="#fef5f5"/><stop offset="0.8156" stop-color="#fef5f5"/><stop offset="0.8484" stop-color="#fad9d9"/><stop offset="0.8566" stop-color="#fadbdb"/><stop offset="0.8648" stop-color="#f9d6d6"/><stop offset="0.8893" stop-color="#f9d4d4"/><stop offset="0.8975" stop-color="#fadada"/><stop offset="0.9057" stop-color="#fad8d8"/><stop offset="0.9139" stop-color="#fbe0e0"/><stop offset="0.9385" stop-color="#fdeeee"/><stop offset="0.9467" stop-color="#fdeeee"/><stop offset="0.9549" stop-color="#fef6f6"/><stop offset="0.9631" stop-color="#fef5f5"/><stop offset="0.9959" stop-color="#fffcfc"/></linearGradient>
<linearGradient id="gd37" gradientUnits="userSpaceOnUse" x1="0" y1="16" x2="0" y2="138"><stop offset="0.0041" stop-color="#ffffff"/><stop offset="0.7582" stop-color="#fffdfd"/><stop offset="0.7992" stop-color="#fef9f9"/><stop offset="0.8074" stop-color="#fdf1f1"/><stop offset="0.8156" stop-color="#fceded"/><stop offset="0.8320" stop-color="#f9d3d3"/><stop offset="0.8484" stop-color="#f6c2c2"/><stop offset="0.8566" stop-color="#f7c6c6"/><stop offset="0.8648" stop-color="#f6c3c3"/><stop offset="0.8893" stop-color="#f6c5c5"/><stop offset="0.8975" stop-color="#f8cdcd"/><stop offset="0.9057" stop-color="#f8cece"/><stop offset="0.9139" stop-color="#fad9d9"/><stop offset="0.9385" stop-color="#fdeded"/><stop offset="0.9467" stop-color="#fdeeee"/><stop offset="0.9549" stop-color="#fef6f6"/><stop offset="0.9959" stop-color="#fffdfd"/></linearGradient>
<linearGradient id="gd38" gradientUnits="userSpaceOnUse" x1="0" y1="16" x2="0" y2="138"><stop offset="0.0041" stop-color="#ffffff"/><stop offset="0.7582" stop-color="#fffdfd"/><stop offset="0.7828" stop-color="#fefafa"/><stop offset="0.7992" stop-color="#fdf4f4"/><stop offset="0.8156" stop-color="#fadbdb"/><stop offset="0.8320" stop-color="#f3afaf"/><stop offset="0.8484" stop-color="#f0a2a2"/><stop offset="0.8566" stop-color="#f2aaaa"/><stop offset="0.8648" stop-color="#f2aaaa"/><stop offset="0.8893" stop-color="#f4b5b5"/><stop offset="0.8975" stop-color="#f6c2c2"/><stop offset="0.9057" stop-color="#f7c8c8"/><stop offset="0.9139" stop-color="#f9d6d6"/><stop offset="0.9385" stop-color="#fdefef"/><stop offset="0.9467" stop-color="#fdf1f1"/><stop offset="0.9549" stop-color="#fef8f8"/><stop offset="0.9959" stop-color="#fffdfd"/></linearGradient>
<linearGradient id="gd39" gradientUnits="userSpaceOnUse" x1="0" y1="16" x2="0" y2="138"><stop offset="0.0041" stop-color="#ffffff"/><stop offset="0.7582" stop-color="#fffdfd"/><stop offset="0.7828" stop-color="#fef8f8"/><stop offset="0.7992" stop-color="#fce9e9"/><stop offset="0.8156" stop-color="#f4b6b6"/><stop offset="0.8238" stop-color="#ee9595"/><stop offset="0.8320" stop-color="#ea8080"/><stop offset="0.8402" stop-color="#ea7e7e"/><stop offset="0.8484" stop-color="#ea8181"/><stop offset="0.8566" stop-color="#ed9090"/><stop offset="0.8648" stop-color="#ee9494"/><stop offset="0.8893" stop-color="#f2aeae"/><stop offset="0.8975" stop-color="#f5c0c0"/><stop offset="0.9057" stop-color="#f7caca"/><stop offset="0.9139" stop-color="#fadbdb"/><stop offset="0.9385" stop-color="#fdf3f3"/><stop offset="0.9467" stop-color="#fdf4f4"/><stop offset="0.9549" stop-color="#fefafa"/><stop offset="0.9959" stop-color="#fffdfd"/></linearGradient>
<linearGradient id="gd40" gradientUnits="userSpaceOnUse" x1="0" y1="16" x2="0" y2="138"><stop offset="0.0041" stop-color="#ffffff"/><stop offset="0.7582" stop-color="#fffdfd"/><stop offset="0.7828" stop-color="#fdf2f2"/><stop offset="0.7910" stop-color="#fbe5e5"/><stop offset="0.7992" stop-color="#f9d3d3"/><stop offset="0.8238" stop-color="#e45c5c"/><stop offset="0.8320" stop-color="#e15050"/><stop offset="0.8402" stop-color="#e35959"/><stop offset="0.8484" stop-color="#e66868"/><stop offset="0.8566" stop-color="#ea7e7e"/><stop offset="0.8648" stop-color="#ec8888"/><stop offset="0.8811" stop-color="#f1a5a5"/><stop offset="0.8893" stop-color="#f3b4b4"/><stop offset="0.8975" stop-color="#f7c9c9"/><stop offset="0.9057" stop-color="#f9d4d4"/><stop offset="0.9139" stop-color="#fbe3e3"/><stop offset="0.9385" stop-color="#fef7f7"/><stop offset="0.9467" stop-color="#fef7f7"/><stop offset="0.9549" stop-color="#fefbfb"/><stop offset="0.9959" stop-color="#fffdfd"/></linearGradient>
<linearGradient id="gd41" gradientUnits="userSpaceOnUse" x1="0" y1="16" x2="0" y2="138"><stop offset="0.0041" stop-color="#ffffff"/><stop offset="0.6025" stop-color="#ffffff"/><stop offset="0.7582" stop-color="#fefbfb"/><stop offset="0.7746" stop-color="#fdf2f2"/><stop offset="0.7828" stop-color="#fce7e7"/><stop offset="0.7910" stop-color="#f8d1d1"/><stop offset="0.7992" stop-color="#f2aeae"/><stop offset="0.8074" stop-color="#e97777"/><stop offset="0.8156" stop-color="#e04c4d"/><stop offset="0.8238" stop-color="#da3c3d"/><stop offset="0.8320" stop-color="#db3e3f"/><stop offset="0.8402" stop-color="#e04c4c"/><stop offset="0.8484" stop-color="#e56161"/><stop offset="0.8566" stop-color="#ea7d7d"/><stop offset="0.8648" stop-color="#ec8c8c"/><stop offset="0.8975" stop-color="#f9d7d7"/><stop offset="0.9057" stop-color="#fbe0e0"/><stop offset="0.9139" stop-color="#fceded"/><stop offset="0.9385" stop-color="#fef9f9"/><stop offset="0.9959" stop-color="#fffdfd"/></linearGradient>
<linearGradient id="gd42" gradientUnits="userSpaceOnUse" x1="0" y1="16" x2="0" y2="138"><stop offset="0.0041" stop-color="#ffffff"/><stop offset="0.5041" stop-color="#fdfcfe"/><stop offset="0.6025" stop-color="#ffffff"/><stop offset="0.7172" stop-color="#fffdfd"/><stop offset="0.7582" stop-color="#fef8f8"/><stop offset="0.7746" stop-color="#fce8e8"/><stop offset="0.7828" stop-color="#f9d6d6"/><stop offset="0.7910" stop-color="#f3b1b1"/><stop offset="0.7992" stop-color="#eb8282"/><stop offset="0.8074" stop-color="#df4a4a"/><stop offset="0.8156" stop-color="#d73435"/><stop offset="0.8238" stop-color="#d52e2f"/><stop offset="0.8320" stop-color="#d93a3b"/><stop offset="0.8402" stop-color="#e15050"/><stop offset="0.8566" stop-color="#ec8b8b"/><stop offset="0.8811" stop-color="#f7c6c6"/><stop offset="0.8975" stop-color="#fbe4e4"/><stop offset="0.9057" stop-color="#fce9e9"/><stop offset="0.9139" stop-color="#fdf3f3"/><stop offset="0.9385" stop-color="#fefafa"/><stop offset="0.9959" stop-color="#fffefe"/></linearGradient>
<linearGradient id="gd43" gradientUnits="userSpaceOnUse" x1="0" y1="16" x2="0" y2="138"><stop offset="0.0041" stop-color="#ffffff"/><stop offset="0.4139" stop-color="#ffffff"/><stop offset="0.5041" stop-color="#fcfcfe"/><stop offset="0.5943" stop-color="#ffffff"/><stop offset="0.7418" stop-color="#fefafa"/><stop offset="0.7500" stop-color="#fdf4f4"/><stop offset="0.7582" stop-color="#fdf3f3"/><stop offset="0.7746" stop-color="#fadada"/><stop offset="0.7828" stop-color="#f5bebe"/><stop offset="0.7910" stop-color="#ed8f8f"/><stop offset="0.7992" stop-color="#e35959"/><stop offset="0.8074" stop-color="#d83738"/><stop offset="0.8156" stop-color="#d42b2d"/><stop offset="0.8238" stop-color="#d63133"/><stop offset="0.8320" stop-color="#dd4546"/><stop offset="0.8566" stop-color="#f0a0a0"/><stop offset="0.8730" stop-color="#f7c7c7"/><stop offset="0.8811" stop-color="#f9d7d7"/><stop offset="0.8975" stop-color="#fdeded"/><stop offset="0.9057" stop-color="#fdefef"/><stop offset="0.9139" stop-color="#fef6f6"/><stop offset="0.9385" stop-color="#fefafa"/><stop offset="0.9959" stop-color="#fffefe"/></linearGradient>
<linearGradient id="gd44" gradientUnits="userSpaceOnUse" x1="0" y1="16" x2="0" y2="138"><stop offset="0.0041" stop-color="#ffffff"/><stop offset="0.4139" stop-color="#ffffff"/><stop offset="0.5041" stop-color="#fcfbfe"/><stop offset="0.5943" stop-color="#ffffff"/><stop offset="0.6516" stop-color="#fefafa"/><stop offset="0.7172" stop-color="#fefbfb"/><stop offset="0.7418" stop-color="#fef7f7"/><stop offset="0.7500" stop-color="#fdeeee"/><stop offset="0.7582" stop-color="#fcebeb"/><stop offset="0.7746" stop-color="#f7c7c7"/><stop offset="0.7828" stop-color="#f1a3a3"/><stop offset="0.7910" stop-color="#e87171"/><stop offset="0.7992" stop-color="#df4849"/><stop offset="0.8074" stop-color="#d73335"/><stop offset="0.8156" stop-color="#d73435"/><stop offset="0.8238" stop-color="#dc4243"/><stop offset="0.8320" stop-color="#e45d5d"/><stop offset="0.8402" stop-color="#eb8484"/><stop offset="0.8566" stop-color="#f4b7b7"/><stop offset="0.8730" stop-color="#fad8d8"/><stop offset="0.8811" stop-color="#fbe3e3"/><stop offset="0.8975" stop-color="#fdf2f2"/><stop offset="0.9057" stop-color="#fdf1f1"/><stop offset="0.9139" stop-color="#fef7f7"/><stop offset="0.9959" stop-color="#fffdfd"/></linearGradient>
<linearGradient id="gd45" gradientUnits="userSpaceOnUse" x1="0" y1="16" x2="0" y2="138"><stop offset="0.0041" stop-color="#ffffff"/><stop offset="0.4139" stop-color="#fffeff"/><stop offset="0.5041" stop-color="#fbfbfe"/><stop offset="0.5943" stop-color="#ffffff"/><stop offset="0.6516" stop-color="#fef9f9"/><stop offset="0.7172" stop-color="#fefafa"/><stop offset="0.7418" stop-color="#fdf1f1"/><stop offset="0.7582" stop-color="#fbe0e0"/><stop offset="0.7746" stop-color="#f3b4b4"/><stop offset="0.7828" stop-color="#ed8f8f"/><stop offset="0.7910" stop-color="#e56161"/><stop offset="0.7992" stop-color="#de4848"/><stop offset="0.8074" stop-color="#db3e3f"/><stop offset="0.8156" stop-color="#de4748"/><stop offset="0.8238" stop-color="#e45d5d"/><stop offset="0.8320" stop-color="#ea8080"/><stop offset="0.8402" stop-color="#f09f9f"/><stop offset="0.8566" stop-color="#f7caca"/><stop offset="0.8730" stop-color="#fbe2e2"/><stop offset="0.8975" stop-color="#fdf4f4"/><stop offset="0.9057" stop-color="#fdf2f2"/><stop offset="0.9139" stop-color="#fef7f7"/><stop offset="0.9959" stop-color="#fffdfd"/></linearGradient>
<linearGradient id="gd46" gradientUnits="userSpaceOnUse" x1="0" y1="16" x2="0" y2="138"><stop offset="0.0041" stop-color="#ffffff"/><stop offset="0.4139" stop-color="#fefeff"/><stop offset="0.5041" stop-color="#fbfafe"/><stop offset="0.5861" stop-color="#ffffff"/><stop offset="0.6434" stop-color="#fefafa"/><stop offset="0.6516" stop-color="#fef7f7"/><stop offset="0.6598" stop-color="#fef9f9"/><stop offset="0.6680" stop-color="#fef6f6"/><stop offset="0.6926" stop-color="#fef6f6"/><stop offset="0.7008" stop-color="#fef9f9"/><stop offset="0.7090" stop-color="#fef5f5"/><stop offset="0.7172" stop-color="#fef7f7"/><stop offset="0.7418" stop-color="#fcebeb"/><stop offset="0.7582" stop-color="#f9d5d5"/><stop offset="0.7746" stop-color="#f0a3a3"/><stop offset="0.7910" stop-color="#e46060"/><stop offset="0.7992" stop-color="#e15051"/><stop offset="0.8074" stop-color="#e14f50"/><stop offset="0.8156" stop-color="#e66666"/><stop offset="0.8402" stop-color="#f4b5b5"/><stop offset="0.8566" stop-color="#f9d7d7"/><stop offset="0.8730" stop-color="#fce8e8"/><stop offset="0.8975" stop-color="#fdf4f4"/><stop offset="0.9057" stop-color="#fdf1f1"/><stop offset="0.9139" stop-color="#fef6f6"/><stop offset="0.9385" stop-color="#fef8f8"/><stop offset="0.9467" stop-color="#fef6f6"/><stop offset="0.9549" stop-color="#fefafa"/><stop offset="0.9959" stop-color="#fffdfd"/></linearGradient>
<linearGradient id="gd47" gradientUnits="userSpaceOnUse" x1="0" y1="16" x2="0" y2="138"><stop offset="0.0041" stop-color="#ffffff"/><stop offset="0.4139" stop-color="#fefeff"/><stop offset="0.5041" stop-color="#faf9fe"/><stop offset="0.5861" stop-color="#ffffff"/><stop offset="0.6434" stop-color="#fef9f9"/><stop offset="0.6516" stop-color="#fef4f4"/><stop offset="0.6598" stop-color="#fef8f8"/><stop offset="0.6680" stop-color="#fdf3f3"/><stop offset="0.6926" stop-color="#fdf3f3"/><stop offset="0.7008" stop-color="#fef7f7"/><stop offset="0.7090" stop-color="#fdf2f2"/><stop offset="0.7172" stop-color="#fdf4f4"/><stop offset="0.7418" stop-color="#fbe3e3"/><stop offset="0.7582" stop-color="#f7c8c8"/><stop offset="0.7910" stop-color="#e66969"/><stop offset="0.7992" stop-color="#e66767"/><stop offset="0.8074" stop-color="#e76e6e"/><stop offset="0.8156" stop-color="#eb8686"/><stop offset="0.8402" stop-color="#f6c4c4"/><stop offset="0.8566" stop-color="#fadede"/><stop offset="0.8730" stop-color="#fceaea"/><stop offset="0.8975" stop-color="#fdf3f3"/><stop offset="0.9057" stop-color="#fdf0f0"/><stop offset="0.9139" stop-color="#fef4f4"/><stop offset="0.9385" stop-color="#fef7f7"/><stop offset="0.9467" stop-color="#fef5f5"/><stop offset="0.9549" stop-color="#fefafa"/><stop offset="0.9631" stop-color="#fef8f8"/><stop offset="0.9959" stop-color="#fffdfd"/></linearGradient>
<linearGradient id="gd48" gradientUnits="userSpaceOnUse" x1="0" y1="16" x2="0" y2="138"><stop offset="0.0041" stop-color="#ffffff"/><stop offset="0.4139" stop-color="#fefeff"/><stop offset="0.5041" stop-color="#f9f8fe"/><stop offset="0.5861" stop-color="#ffffff"/><stop offset="0.6434" stop-color="#fef7f7"/><stop offset="0.6516" stop-color="#fdf2f2"/><stop offset="0.6598" stop-color="#fef5f5"/><stop offset="0.6680" stop-color="#fdf1f1"/><stop offset="0.6926" stop-color="#fdf1f1"/><stop offset="0.7008" stop-color="#fdf4f4"/><stop offset="0.7090" stop-color="#fdefef"/><stop offset="0.7172" stop-color="#fdf0f0"/><stop offset="0.7418" stop-color="#fadada"/><stop offset="0.7500" stop-color="#f7c9c9"/><stop offset="0.7582" stop-color="#f5bcbc"/><stop offset="0.7664" stop-color="#f1a4a4"/><stop offset="0.7828" stop-color="#ea8181"/><stop offset="0.7910" stop-color="#e97777"/><stop offset="0.8074" stop-color="#eb8585"/><stop offset="0.8156" stop-color="#ef9a9a"/><stop offset="0.8402" stop-color="#f8cece"/><stop offset="0.8484" stop-color="#f9d6d6"/><stop offset="0.8566" stop-color="#fbe3e3"/><stop offset="0.8730" stop-color="#fcebeb"/><stop offset="0.8893" stop-color="#fceded"/><stop offset="0.8975" stop-color="#fdf1f1"/><stop offset="0.9057" stop-color="#fdeeee"/><stop offset="0.9139" stop-color="#fdf3f3"/><stop offset="0.9385" stop-color="#fef6f6"/><stop offset="0.9467" stop-color="#fdf4f4"/><stop offset="0.9549" stop-color="#fef9f9"/><stop offset="0.9631" stop-color="#fef7f7"/><stop offset="0.9959" stop-color="#fffdfd"/></linearGradient>
<linearGradient id="gd49" gradientUnits="userSpaceOnUse" x1="0" y1="16" x2="0" y2="138"><stop offset="0.0041" stop-color="#ffffff"/><stop offset="0.4139" stop-color="#fefeff"/><stop offset="0.5041" stop-color="#f9f8fd"/><stop offset="0.5861" stop-color="#ffffff"/><stop offset="0.6434" stop-color="#fef5f5"/><stop offset="0.6516" stop-color="#fdf0f0"/><stop offset="0.6598" stop-color="#fdf3f3"/><stop offset="0.6680" stop-color="#fdefef"/><stop offset="0.6926" stop-color="#fdeeee"/><stop offset="0.7008" stop-color="#fdf1f1"/><stop offset="0.7090" stop-color="#fcebeb"/><stop offset="0.7172" stop-color="#fcebeb"/><stop offset="0.7418" stop-color="#f9d1d1"/><stop offset="0.7500" stop-color="#f5bebe"/><stop offset="0.7582" stop-color="#f3b1b1"/><stop offset="0.7664" stop-color="#ef9c9c"/><stop offset="0.7828" stop-color="#eb8686"/><stop offset="0.7910" stop-color="#eb8282"/><stop offset="0.8074" stop-color="#ee9494"/><stop offset="0.8156" stop-color="#f1a8a8"/><stop offset="0.8402" stop-color="#f9d5d5"/><stop offset="0.8484" stop-color="#fadada"/><stop offset="0.8566" stop-color="#fbe5e5"/><stop offset="0.8811" stop-color="#fcecec"/><stop offset="0.8893" stop-color="#fcebeb"/><stop offset="0.8975" stop-color="#fdf0f0"/><stop offset="0.9057" stop-color="#fceded"/><stop offset="0.9139" stop-color="#fdf1f1"/><stop offset="0.9385" stop-color="#fef5f5"/><stop offset="0.9467" stop-color="#fdf3f3"/><stop offset="0.9549" stop-color="#fef8f8"/><stop offset="0.9631" stop-color="#fef6f6"/><stop offset="0.9959" stop-color="#fffcfc"/></linearGradient>
<linearGradient id="gd50" gradientUnits="userSpaceOnUse" x1="0" y1="16" x2="0" y2="138"><stop offset="0.0041" stop-color="#ffffff"/><stop offset="0.4139" stop-color="#fefeff"/><stop offset="0.4959" stop-color="#fafafe"/><stop offset="0.5041" stop-color="#f8f7fd"/><stop offset="0.5123" stop-color="#fbfafe"/><stop offset="0.5205" stop-color="#f8f7fd"/><stop offset="0.5861" stop-color="#ffffff"/><stop offset="0.6025" stop-color="#fffdfd"/><stop offset="0.6434" stop-color="#fdf4f4"/><stop offset="0.6516" stop-color="#fdeeee"/><stop offset="0.6598" stop-color="#fdf1f1"/><stop offset="0.6680" stop-color="#fceded"/><stop offset="0.7008" stop-color="#fdeeee"/><stop offset="0.7090" stop-color="#fce7e7"/><stop offset="0.7172" stop-color="#fce7e7"/><stop offset="0.7418" stop-color="#f7c9c9"/><stop offset="0.7500" stop-color="#f4b5b5"/><stop offset="0.7582" stop-color="#f1a9a9"/><stop offset="0.7664" stop-color="#ee9797"/><stop offset="0.7828" stop-color="#ec8989"/><stop offset="0.7910" stop-color="#ec8989"/><stop offset="0.8074" stop-color="#f09e9e"/><stop offset="0.8156" stop-color="#f3b1b1"/><stop offset="0.8402" stop-color="#fad9d9"/><stop offset="0.8484" stop-color="#fadcdc"/><stop offset="0.8566" stop-color="#fbe6e6"/><stop offset="0.8893" stop-color="#fceaea"/><stop offset="0.8975" stop-color="#fdefef"/><stop offset="0.9057" stop-color="#fcebeb"/><stop offset="0.9139" stop-color="#fdf0f0"/><stop offset="0.9385" stop-color="#fdf4f4"/><stop offset="0.9467" stop-color="#fdf2f2"/><stop offset="0.9549" stop-color="#fef7f7"/><stop offset="0.9631" stop-color="#fef5f5"/><stop offset="0.9959" stop-color="#fffcfc"/></linearGradient>
<linearGradient id="gd51" gradientUnits="userSpaceOnUse" x1="0" y1="16" x2="0" y2="138"><stop offset="0.0041" stop-color="#ffffff"/><stop offset="0.4139" stop-color="#fefeff"/><stop offset="0.4959" stop-color="#faf9fe"/><stop offset="0.5041" stop-color="#f7f6fd"/><stop offset="0.5123" stop-color="#faf9fe"/><stop offset="0.5205" stop-color="#f8f6fd"/><stop offset="0.5861" stop-color="#ffffff"/><stop offset="0.6025" stop-color="#fffcfc"/><stop offset="0.6434" stop-color="#fdf2f2"/><stop offset="0.6516" stop-color="#fceded"/><stop offset="0.6598" stop-color="#fdefef"/><stop offset="0.6680" stop-color="#fceaea"/><stop offset="0.7008" stop-color="#fcebeb"/><stop offset="0.7090" stop-color="#fbe4e4"/><stop offset="0.7172" stop-color="#fbe2e2"/><stop offset="0.7418" stop-color="#f6c1c1"/><stop offset="0.7500" stop-color="#f2adad"/><stop offset="0.7582" stop-color="#f0a2a2"/><stop offset="0.7664" stop-color="#ee9393"/><stop offset="0.7828" stop-color="#ec8c8c"/><stop offset="0.7910" stop-color="#ed8e8e"/><stop offset="0.7992" stop-color="#ef9b9b"/><stop offset="0.8074" stop-color="#f1a4a4"/><stop offset="0.8156" stop-color="#f4b7b7"/><stop offset="0.8402" stop-color="#fadbdb"/><stop offset="0.8484" stop-color="#fadede"/><stop offset="0.8566" stop-color="#fce6e6"/><stop offset="0.8893" stop-color="#fce9e9"/><stop offset="0.8975" stop-color="#fdeded"/><stop offset="0.9057" stop-color="#fceaea"/><stop offset="0.9139" stop-color="#fdefef"/><stop offset="0.9385" stop-color="#fdf3f3"/><stop offset="0.9467" stop-color="#fdf1f1"/><stop offset="0.9549" stop-color="#fef7f7"/><stop offset="0.9631" stop-color="#fef4f4"/><stop offset="0.9959" stop-color="#fffcfc"/></linearGradient>
<linearGradient id="gd52" gradientUnits="userSpaceOnUse" x1="0" y1="16" x2="0" y2="138"><stop offset="0.0041" stop-color="#ffffff"/><stop offset="0.4139" stop-color="#fefeff"/><stop offset="0.4959" stop-color="#f9f8fe"/><stop offset="0.5041" stop-color="#f6f5fd"/><stop offset="0.5123" stop-color="#faf9fe"/><stop offset="0.5205" stop-color="#f7f5fd"/><stop offset="0.5861" stop-color="#ffffff"/><stop offset="0.6189" stop-color="#fef8f8"/><stop offset="0.6434" stop-color="#fdf1f1"/><stop offset="0.6516" stop-color="#fcebeb"/><stop offset="0.6598" stop-color="#fdeded"/><stop offset="0.6680" stop-color="#fce9e9"/><stop offset="0.7008" stop-color="#fce8e8"/><stop offset="0.7090" stop-color="#fbe0e0"/><stop offset="0.7172" stop-color="#fadede"/><stop offset="0.7418" stop-color="#f5baba"/><stop offset="0.7500" stop-color="#f1a7a7"/><stop offset="0.7664" stop-color="#ed9090"/><stop offset="0.7746" stop-color="#ec8d8d"/><stop offset="0.7910" stop-color="#ed9191"/><stop offset="0.7992" stop-color="#f0a0a0"/><stop offset="0.8074" stop-color="#f2a9a9"/><stop offset="0.8156" stop-color="#f5bcbc"/><stop offset="0.8320" stop-color="#f9d2d2"/><stop offset="0.8402" stop-color="#fadddd"/><stop offset="0.8484" stop-color="#fadede"/><stop offset="0.8566" stop-color="#fce6e6"/><stop offset="0.8893" stop-color="#fce8e8"/><stop offset="0.8975" stop-color="#fcecec"/><stop offset="0.9057" stop-color="#fce9e9"/><stop offset="0.9139" stop-color="#fdeeee"/><stop offset="0.9385" stop-color="#fdf2f2"/><stop offset="0.9467" stop-color="#fdf0f0"/><stop offset="0.9549" stop-color="#fef6f6"/><stop offset="0.9631" stop-color="#fdf4f4"/><stop offset="0.9959" stop-color="#fffcfc"/></linearGradient>
<linearGradient id="gd53" gradientUnits="userSpaceOnUse" x1="0" y1="16" x2="0" y2="138"><stop offset="0.0041" stop-color="#ffffff"/><stop offset="0.4139" stop-color="#fefeff"/><stop offset="0.4959" stop-color="#f9f8fd"/><stop offset="0.5041" stop-color="#f5f4fd"/><stop offset="0.5123" stop-color="#f9f8fd"/><stop offset="0.5205" stop-color="#f6f4fd"/><stop offset="0.5861" stop-color="#ffffff"/><stop offset="0.6107" stop-color="#fef7f7"/><stop offset="0.6189" stop-color="#fef8f8"/><stop offset="0.6434" stop-color="#fdf0f0"/><stop offset="0.6516" stop-color="#fceaea"/><stop offset="0.6598" stop-color="#fcecec"/><stop offset="0.6680" stop-color="#fce7e7"/><stop offset="0.7008" stop-color="#fce6e6"/><stop offset="0.7090" stop-color="#fadede"/><stop offset="0.7172" stop-color="#fadbdb"/><stop offset="0.7418" stop-color="#f4b6b6"/><stop offset="0.7500" stop-color="#f0a3a3"/><stop offset="0.7664" stop-color="#ed8e8e"/><stop offset="0.7746" stop-color="#ec8c8c"/><stop offset="0.7910" stop-color="#ee9494"/><stop offset="0.7992" stop-color="#f0a3a3"/><stop offset="0.8074" stop-color="#f2adad"/><stop offset="0.8156" stop-color="#f5bfbf"/><stop offset="0.8320" stop-color="#f9d4d4"/><stop offset="0.8402" stop-color="#fadddd"/><stop offset="0.8484" stop-color="#fadfdf"/><stop offset="0.8566" stop-color="#fbe6e6"/><stop offset="0.8893" stop-color="#fce7e7"/><stop offset="0.8975" stop-color="#fcebeb"/><stop offset="0.9057" stop-color="#fce8e8"/><stop offset="0.9139" stop-color="#fdeded"/><stop offset="0.9221" stop-color="#fcecec"/><stop offset="0.9385" stop-color="#fdf2f2"/><stop offset="0.9467" stop-color="#fdf0f0"/><stop offset="0.9549" stop-color="#fef6f6"/><stop offset="0.9631" stop-color="#fdf4f4"/><stop offset="0.9959" stop-color="#fffcfc"/></linearGradient>
<linearGradient id="gd54" gradientUnits="userSpaceOnUse" x1="0" y1="16" x2="0" y2="138"><stop offset="0.0041" stop-color="#ffffff"/><stop offset="0.4139" stop-color="#fefdff"/><stop offset="0.4959" stop-color="#f7f6fd"/><stop offset="0.5041" stop-color="#f4f2fc"/><stop offset="0.5123" stop-color="#f7f6fd"/><stop offset="0.5205" stop-color="#f4f2fc"/><stop offset="0.5451" stop-color="#f7f5fd"/><stop offset="0.5533" stop-color="#fbfafe"/><stop offset="0.5615" stop-color="#faf9fe"/><stop offset="0.5861" stop-color="#ffffff"/><stop offset="0.6025" stop-color="#fffcfc"/><stop offset="0.6107" stop-color="#fef7f7"/><stop offset="0.6189" stop-color="#fef7f7"/><stop offset="0.6434" stop-color="#fdeeee"/><stop offset="0.6516" stop-color="#fce8e8"/><stop offset="0.6598" stop-color="#fceaea"/><stop offset="0.6680" stop-color="#fbe5e5"/><stop offset="0.7008" stop-color="#fbe3e3"/><stop offset="0.7090" stop-color="#fadbdb"/><stop offset="0.7172" stop-color="#f9d7d7"/><stop offset="0.7418" stop-color="#f3b1b1"/><stop offset="0.7500" stop-color="#f09f9f"/><stop offset="0.7664" stop-color="#ec8d8d"/><stop offset="0.7746" stop-color="#ec8c8c"/><stop offset="0.7910" stop-color="#ee9696"/><stop offset="0.7992" stop-color="#f1a6a6"/><stop offset="0.8074" stop-color="#f3b0b0"/><stop offset="0.8156" stop-color="#f6c2c2"/><stop offset="0.8402" stop-color="#fadddd"/><stop offset="0.8484" stop-color="#fadede"/><stop offset="0.8566" stop-color="#fbe5e5"/><stop offset="0.8893" stop-color="#fbe5e5"/><stop offset="0.8975" stop-color="#fceaea"/><stop offset="0.9057" stop-color="#fce7e7"/><stop offset="0.9139" stop-color="#fcecec"/><stop offset="0.9221" stop-color="#fcebeb"/><stop offset="0.9385" stop-color="#fdf1f1"/><stop offset="0.9467" stop-color="#fdefef"/><stop offset="0.9549" stop-color="#fef5f5"/><stop offset="0.9631" stop-color="#fdf3f3"/><stop offset="0.9959" stop-color="#fefbfb"/></linearGradient>
<linearGradient id="gd55" gradientUnits="userSpaceOnUse" x1="0" y1="16" x2="0" y2="138"><stop offset="0.0041" stop-color="#ffffff"/><stop offset="0.2582" stop-color="#ffffff"/><stop offset="0.3648" stop-color="#fbfafe"/><stop offset="0.4139" stop-color="#fdfdff"/><stop offset="0.4549" stop-color="#fafafe"/><stop offset="0.4631" stop-color="#f6f4fd"/><stop offset="0.4713" stop-color="#f7f6fd"/><stop offset="0.5041" stop-color="#f0eefb"/><stop offset="0.5123" stop-color="#f4f2fc"/><stop offset="0.5205" stop-color="#f1effc"/><stop offset="0.5451" stop-color="#f4f3fc"/><stop offset="0.5533" stop-color="#f9f8fd"/><stop offset="0.5615" stop-color="#f8f6fd"/><stop offset="0.5861" stop-color="#fefeff"/><stop offset="0.6025" stop-color="#fffcfc"/><stop offset="0.6107" stop-color="#fef7f7"/><stop offset="0.6189" stop-color="#fef7f7"/><stop offset="0.6434" stop-color="#fdeded"/><stop offset="0.6516" stop-color="#fce7e7"/><stop offset="0.6598" stop-color="#fce9e9"/><stop offset="0.6680" stop-color="#fbe4e4"/><stop offset="0.7008" stop-color="#fbe2e2"/><stop offset="0.7090" stop-color="#fad9d9"/><stop offset="0.7172" stop-color="#f9d6d6"/><stop offset="0.7418" stop-color="#f3b1b1"/><stop offset="0.7500" stop-color="#f09f9f"/><stop offset="0.7664" stop-color="#ed8e8e"/><stop offset="0.7746" stop-color="#ed8e8e"/><stop offset="0.7910" stop-color="#ee9797"/><stop offset="0.7992" stop-color="#f1a7a7"/><stop offset="0.8074" stop-color="#f3b0b0"/><stop offset="0.8156" stop-color="#f6c2c2"/><stop offset="0.8402" stop-color="#fadddd"/><stop offset="0.8484" stop-color="#fadddd"/><stop offset="0.8566" stop-color="#fbe4e4"/><stop offset="0.8893" stop-color="#fbe4e4"/><stop offset="0.8975" stop-color="#fce9e9"/><stop offset="0.9057" stop-color="#fbe6e6"/><stop offset="0.9139" stop-color="#fcebeb"/><stop offset="0.9221" stop-color="#fceaea"/><stop offset="0.9385" stop-color="#fdf0f0"/><stop offset="0.9467" stop-color="#fdeeee"/><stop offset="0.9549" stop-color="#fdf4f4"/><stop offset="0.9631" stop-color="#fdf2f2"/><stop offset="0.9959" stop-color="#fefbfb"/></linearGradient>
<linearGradient id="gd56" gradientUnits="userSpaceOnUse" x1="0" y1="16" x2="0" y2="138"><stop offset="0.0041" stop-color="#ffffff"/><stop offset="0.2582" stop-color="#ffffff"/><stop offset="0.3648" stop-color="#faf9fe"/><stop offset="0.4139" stop-color="#fdfcfe"/><stop offset="0.4467" stop-color="#f8f7fd"/><stop offset="0.4549" stop-color="#f9f8fe"/><stop offset="0.4631" stop-color="#f4f2fc"/><stop offset="0.4713" stop-color="#f5f4fd"/><stop offset="0.5041" stop-color="#edeafb"/><stop offset="0.5123" stop-color="#f1eefb"/><stop offset="0.5205" stop-color="#eeebfb"/><stop offset="0.5451" stop-color="#f2f0fc"/><stop offset="0.5533" stop-color="#f7f6fd"/><stop offset="0.5615" stop-color="#f6f4fd"/><stop offset="0.5697" stop-color="#fafafe"/><stop offset="0.5943" stop-color="#fffefe"/><stop offset="0.6434" stop-color="#fceded"/><stop offset="0.6516" stop-color="#fce7e7"/><stop offset="0.6598" stop-color="#fce8e8"/><stop offset="0.6680" stop-color="#fbe3e3"/><stop offset="0.7008" stop-color="#fbe2e2"/><stop offset="0.7090" stop-color="#fadada"/><stop offset="0.7172" stop-color="#f9d7d7"/><stop offset="0.7418" stop-color="#f3b3b3"/><stop offset="0.7500" stop-color="#f0a1a1"/><stop offset="0.7664" stop-color="#ed9090"/><stop offset="0.7746" stop-color="#ed9090"/><stop offset="0.7910" stop-color="#ef9999"/><stop offset="0.7992" stop-color="#f1a8a8"/><stop offset="0.8074" stop-color="#f3b1b1"/><stop offset="0.8156" stop-color="#f6c2c2"/><stop offset="0.8402" stop-color="#fadcdc"/><stop offset="0.8484" stop-color="#fadddd"/><stop offset="0.8566" stop-color="#fbe3e3"/><stop offset="0.8648" stop-color="#fbe1e1"/><stop offset="0.8893" stop-color="#fbe4e4"/><stop offset="0.8975" stop-color="#fce8e8"/><stop offset="0.9057" stop-color="#fbe5e5"/><stop offset="0.9139" stop-color="#fceaea"/><stop offset="0.9221" stop-color="#fceaea"/><stop offset="0.9385" stop-color="#fdf0f0"/><stop offset="0.9467" stop-color="#fdeeee"/><stop offset="0.9549" stop-color="#fdf4f4"/><stop offset="0.9631" stop-color="#fdf2f2"/><stop offset="0.9959" stop-color="#fefbfb"/></linearGradient>
<linearGradient id="gd57" gradientUnits="userSpaceOnUse" x1="0" y1="16" x2="0" y2="138"><stop offset="0.0041" stop-color="#ffffff"/><stop offset="0.2582" stop-color="#ffffff"/><stop offset="0.3648" stop-color="#faf9fe"/><stop offset="0.4139" stop-color="#fcfcfe"/><stop offset="0.4467" stop-color="#f7f6fd"/><stop offset="0.4549" stop-color="#f8f7fd"/><stop offset="0.4631" stop-color="#f3f1fc"/><stop offset="0.4713" stop-color="#f4f2fc"/><stop offset="0.5041" stop-color="#ebe8fa"/><stop offset="0.5123" stop-color="#efecfb"/><stop offset="0.5205" stop-color="#ece9fa"/><stop offset="0.5451" stop-color="#f0eefb"/><stop offset="0.5533" stop-color="#f6f4fd"/><stop offset="0.5615" stop-color="#f4f3fc"/><stop offset="0.5697" stop-color="#faf9fe"/><stop offset="0.5943" stop-color="#fffefe"/><stop offset="0.6434" stop-color="#fceded"/><stop offset="0.6516" stop-color="#fce6e6"/><stop offset="0.6598" stop-color="#fce8e8"/><stop offset="0.6680" stop-color="#fbe3e3"/><stop offset="0.7008" stop-color="#fbe2e2"/><stop offset="0.7090" stop-color="#fadada"/><stop offset="0.7172" stop-color="#f9d7d7"/><stop offset="0.7418" stop-color="#f4b5b5"/><stop offset="0.7500" stop-color="#f1a4a4"/><stop offset="0.7664" stop-color="#ee9393"/><stop offset="0.7746" stop-color="#ee9393"/><stop offset="0.7910" stop-color="#ef9c9c"/><stop offset="0.7992" stop-color="#f2abab"/><stop offset="0.8074" stop-color="#f3b3b3"/><stop offset="0.8156" stop-color="#f6c4c4"/><stop offset="0.8402" stop-color="#fadddd"/><stop offset="0.8484" stop-color="#fadddd"/><stop offset="0.8566" stop-color="#fbe3e3"/><stop offset="0.8648" stop-color="#fbe1e1"/><stop offset="0.8893" stop-color="#fbe4e4"/><stop offset="0.8975" stop-color="#fce8e8"/><stop offset="0.9057" stop-color="#fbe5e5"/><stop offset="0.9139" stop-color="#fceaea"/><stop offset="0.9221" stop-color="#fceaea"/><stop offset="0.9385" stop-color="#fdefef"/><stop offset="0.9467" stop-color="#fdeeee"/><stop offset="0.9549" stop-color="#fdf4f4"/><stop offset="0.9631" stop-color="#fdf2f2"/><stop offset="0.9959" stop-color="#fefbfb"/></linearGradient>
<linearGradient id="gd58" gradientUnits="userSpaceOnUse" x1="0" y1="16" x2="0" y2="138"><stop offset="0.0041" stop-color="#ffffff"/><stop offset="0.2582" stop-color="#ffffff"/><stop offset="0.3648" stop-color="#faf9fe"/><stop offset="0.4139" stop-color="#fcfcfe"/><stop offset="0.4467" stop-color="#f7f5fd"/><stop offset="0.4549" stop-color="#f8f7fd"/><stop offset="0.4631" stop-color="#f3f1fc"/><stop offset="0.4713" stop-color="#f4f2fc"/><stop offset="0.5041" stop-color="#ebe8fa"/><stop offset="0.5123" stop-color="#eeecfb"/><stop offset="0.5205" stop-color="#ece9fa"/><stop offset="0.5451" stop-color="#f0eefb"/><stop offset="0.5533" stop-color="#f5f4fd"/><stop offset="0.5615" stop-color="#f4f3fc"/><stop offset="0.5697" stop-color="#faf9fe"/><stop offset="0.5943" stop-color="#fffefe"/><stop offset="0.6434" stop-color="#fceded"/><stop offset="0.6516" stop-color="#fce6e6"/><stop offset="0.6598" stop-color="#fce8e8"/><stop offset="0.6680" stop-color="#fbe3e3"/><stop offset="0.7008" stop-color="#fbe2e2"/><stop offset="0.7090" stop-color="#fadada"/><stop offset="0.7172" stop-color="#fad8d8"/><stop offset="0.7418" stop-color="#f4b6b6"/><stop offset="0.7500" stop-color="#f1a6a6"/><stop offset="0.7664" stop-color="#ee9696"/><stop offset="0.7746" stop-color="#ee9696"/><stop offset="0.7910" stop-color="#f09e9e"/><stop offset="0.7992" stop-color="#f2adad"/><stop offset="0.8074" stop-color="#f4b5b5"/><stop offset="0.8156" stop-color="#f6c5c5"/><stop offset="0.8402" stop-color="#fadddd"/><stop offset="0.8484" stop-color="#fadddd"/><stop offset="0.8566" stop-color="#fbe3e3"/><stop offset="0.8648" stop-color="#fbe1e1"/><stop offset="0.8893" stop-color="#fbe4e4"/><stop offset="0.8975" stop-color="#fce8e8"/><stop offset="0.9057" stop-color="#fbe5e5"/><stop offset="0.9139" stop-color="#fceaea"/><stop offset="0.9221" stop-color="#fceaea"/><stop offset="0.9385" stop-color="#fdefef"/><stop offset="0.9467" stop-color="#fdeeee"/><stop offset="0.9549" stop-color="#fdf4f4"/><stop offset="0.9631" stop-color="#fdf2f2"/><stop offset="0.9959" stop-color="#fefbfb"/></linearGradient>
<linearGradient id="gd59" gradientUnits="userSpaceOnUse" x1="0" y1="16" x2="0" y2="138"><stop offset="0.0041" stop-color="#ffffff"/><stop offset="0.2582" stop-color="#ffffff"/><stop offset="0.3648" stop-color="#faf9fe"/><stop offset="0.4139" stop-color="#fcfcfe"/><stop offset="0.4467" stop-color="#f7f5fd"/><stop offset="0.4549" stop-color="#f8f7fd"/><stop offset="0.4631" stop-color="#f3f1fc"/><stop offset="0.4713" stop-color="#f4f2fc"/><stop offset="0.5041" stop-color="#ebe8fa"/><stop offset="0.5123" stop-color="#eeecfb"/><stop offset="0.5205" stop-color="#ece8fa"/><stop offset="0.5451" stop-color="#f0eefb"/><stop offset="0.5533" stop-color="#f5f4fd"/><stop offset="0.5615" stop-color="#f4f3fc"/><stop offset="0.5697" stop-color="#faf9fe"/><stop offset="0.5943" stop-color="#fffefe"/><stop offset="0.6434" stop-color="#fceded"/><stop offset="0.6516" stop-color="#fce6e6"/><stop offset="0.6598" stop-color="#fce8e8"/><stop offset="0.6680" stop-color="#fbe3e3"/><stop offset="0.7008" stop-color="#fbe2e2"/><stop offset="0.7090" stop-color="#fadada"/><stop offset="0.7172" stop-color="#fad8d8"/><stop offset="0.7418" stop-color="#f4b7b7"/><stop offset="0.7500" stop-color="#f1a6a6"/><stop offset="0.7664" stop-color="#ee9696"/><stop offset="0.7746" stop-color="#ee9696"/><stop offset="0.7910" stop-color="#f09f9f"/><stop offset="0.7992" stop-color="#f2adad"/><stop offset="0.8074" stop-color="#f4b5b5"/><stop offset="0.8156" stop-color="#f6c5c5"/><stop offset="0.8402" stop-color="#fadddd"/><stop offset="0.8484" stop-color="#fadddd"/><stop offset="0.8566" stop-color="#fbe4e4"/><stop offset="0.8648" stop-color="#fbe1e1"/><stop offset="0.8893" stop-color="#fbe4e4"/><stop offset="0.8975" stop-color="#fce8e8"/><stop offset="0.9057" stop-color="#fbe5e5"/><stop offset="0.9139" stop-color="#fceaea"/><stop offset="0.9221" stop-color="#fceaea"/><stop offset="0.9385" stop-color="#fdefef"/><stop offset="0.9467" stop-color="#fdeeee"/><stop offset="0.9549" stop-color="#fdf4f4"/><stop offset="0.9631" stop-color="#fdf2f2"/><stop offset="0.9959" stop-color="#fefbfb"/></linearGradient></defs>
<g shape-rendering="crispEdges"><rect x="47" y="0" width="15" height="122" fill="url(#ga0)"/>
<rect x="62" y="0" width="7" height="122" fill="url(#ga1)"/>
<rect x="69" y="0" width="5" height="122" fill="url(#ga2)"/>
<rect x="74" y="0" width="4" height="122" fill="url(#ga3)"/>
<rect x="78" y="0" width="4" height="122" fill="url(#ga4)"/>
<rect x="82" y="0" width="4" height="122" fill="url(#ga5)"/>
<rect x="86" y="0" width="3" height="122" fill="url(#ga6)"/>
<rect x="89" y="0" width="2" height="122" fill="url(#ga7)"/>
<rect x="91" y="0" width="2" height="122" fill="url(#ga8)"/>
<rect x="93" y="0" width="2" height="122" fill="url(#ga9)"/>
<rect x="95" y="0" width="2" height="122" fill="url(#ga10)"/>
<rect x="97" y="0" width="1" height="122" fill="url(#ga11)"/>
<rect x="98" y="0" width="1" height="122" fill="url(#ga12)"/>
<rect x="99" y="0" width="1" height="122" fill="url(#ga13)"/>
<rect x="100" y="0" width="1" height="122" fill="url(#ga14)"/>
<rect x="101" y="0" width="1" height="122" fill="url(#ga15)"/>
<rect x="102" y="0" width="1" height="122" fill="url(#ga16)"/>
<rect x="103" y="0" width="1" height="122" fill="url(#ga17)"/>
<rect x="104" y="0" width="1" height="122" fill="url(#ga18)"/>
<rect x="105" y="0" width="1" height="122" fill="url(#ga19)"/>
<rect x="106" y="0" width="1" height="122" fill="url(#ga20)"/>
<rect x="107" y="0" width="1" height="122" fill="url(#ga21)"/>
<rect x="108" y="0" width="1" height="122" fill="url(#ga22)"/>
<rect x="109" y="0" width="1" height="122" fill="url(#ga23)"/>
<rect x="110" y="0" width="1" height="122" fill="url(#ga24)"/>
<rect x="111" y="0" width="1" height="122" fill="url(#ga25)"/>
<rect x="112" y="0" width="1" height="122" fill="url(#ga26)"/>
<rect x="113" y="0" width="2" height="122" fill="url(#ga27)"/>
<rect x="115" y="0" width="14" height="122" fill="url(#ga28)"/>
<rect x="129" y="0" width="2" height="122" fill="url(#ga29)"/>
<rect x="131" y="0" width="1" height="122" fill="url(#ga30)"/>
<rect x="132" y="0" width="1" height="122" fill="url(#ga31)"/>
<rect x="133" y="0" width="1" height="122" fill="url(#ga32)"/>
<rect x="134" y="0" width="1" height="122" fill="url(#ga33)"/>
<rect x="135" y="0" width="1" height="122" fill="url(#ga34)"/>
<rect x="136" y="0" width="1" height="122" fill="url(#ga35)"/>
<rect x="137" y="0" width="1" height="122" fill="url(#ga36)"/>
<rect x="138" y="0" width="1" height="122" fill="url(#ga37)"/>
<rect x="139" y="0" width="1" height="122" fill="url(#ga38)"/>
<rect x="140" y="0" width="1" height="122" fill="url(#ga39)"/>
<rect x="141" y="0" width="1" height="122" fill="url(#ga40)"/>
<rect x="142" y="0" width="1" height="122" fill="url(#ga41)"/>
<rect x="143" y="0" width="1" height="122" fill="url(#ga42)"/>
<rect x="144" y="0" width="1" height="122" fill="url(#ga43)"/>
<rect x="145" y="0" width="1" height="122" fill="url(#ga44)"/>
<rect x="146" y="0" width="1" height="122" fill="url(#ga45)"/>
<rect x="147" y="0" width="1" height="122" fill="url(#ga46)"/>
<rect x="148" y="0" width="1" height="122" fill="url(#ga47)"/>
<rect x="149" y="0" width="1" height="122" fill="url(#ga48)"/>
<rect x="150" y="0" width="1" height="122" fill="url(#ga49)"/>
<rect x="151" y="0" width="1" height="122" fill="url(#ga50)"/>
<rect x="152" y="0" width="1" height="122" fill="url(#ga51)"/>
<rect x="153" y="0" width="1" height="122" fill="url(#ga52)"/>
<rect x="154" y="0" width="1" height="122" fill="url(#ga53)"/>
<rect x="155" y="0" width="1" height="122" fill="url(#ga54)"/>
<rect x="156" y="0" width="1" height="122" fill="url(#ga55)"/>
<rect x="157" y="0" width="1" height="122" fill="url(#ga56)"/>
<rect x="158" y="0" width="1" height="122" fill="url(#ga57)"/>
<rect x="159" y="0" width="2" height="122" fill="url(#ga58)"/>
<rect x="161" y="0" width="3" height="122" fill="url(#ga59)"/>
<rect x="164" y="0" width="3" height="122" fill="url(#ga60)"/>
<rect x="167" y="0" width="3" height="122" fill="url(#ga61)"/>
<rect x="170" y="0" width="3" height="122" fill="url(#ga62)"/>
<rect x="173" y="0" width="3" height="122" fill="url(#ga63)"/>
<rect x="176" y="0" width="3" height="122" fill="url(#ga64)"/>
<rect x="179" y="0" width="13" height="122" fill="url(#ga65)"/>
<rect x="192" y="0" width="16" height="122" fill="url(#ga66)"/>
<rect x="208" y="0" width="60" height="122" fill="url(#ga67)"/>
<rect x="268" y="0" width="21" height="122" fill="url(#ga67)"/><rect x="47" y="122" width="30" height="122" fill="url(#gb0)"/>
<rect x="77" y="122" width="3" height="122" fill="url(#gb1)"/>
<rect x="80" y="122" width="2" height="122" fill="url(#gb2)"/>
<rect x="82" y="122" width="1" height="122" fill="url(#gb3)"/>
<rect x="83" y="122" width="1" height="122" fill="url(#gb4)"/>
<rect x="84" y="122" width="1" height="122" fill="url(#gb5)"/>
<rect x="85" y="122" width="1" height="122" fill="url(#gb6)"/>
<rect x="86" y="122" width="1" height="122" fill="url(#gb7)"/>
<rect x="87" y="122" width="1" height="122" fill="url(#gb8)"/>
<rect x="88" y="122" width="1" height="122" fill="url(#gb9)"/>
<rect x="89" y="122" width="1" height="122" fill="url(#gb10)"/>
<rect x="90" y="122" width="1" height="122" fill="url(#gb11)"/>
<rect x="91" y="122" width="1" height="122" fill="url(#gb12)"/>
<rect x="92" y="122" width="1" height="122" fill="url(#gb13)"/>
<rect x="93" y="122" width="1" height="122" fill="url(#gb14)"/>
<rect x="94" y="122" width="1" height="122" fill="url(#gb15)"/>
<rect x="95" y="122" width="1" height="122" fill="url(#gb16)"/>
<rect x="96" y="122" width="1" height="122" fill="url(#gb17)"/>
<rect x="97" y="122" width="1" height="122" fill="url(#gb18)"/>
<rect x="98" y="122" width="1" height="122" fill="url(#gb19)"/>
<rect x="99" y="122" width="1" height="122" fill="url(#gb20)"/>
<rect x="100" y="122" width="1" height="122" fill="url(#gb21)"/>
<rect x="101" y="122" width="1" height="122" fill="url(#gb22)"/>
<rect x="102" y="122" width="1" height="122" fill="url(#gb23)"/>
<rect x="103" y="122" width="1" height="122" fill="url(#gb24)"/>
<rect x="104" y="122" width="1" height="122" fill="url(#gb25)"/>
<rect x="105" y="122" width="1" height="122" fill="url(#gb26)"/>
<rect x="106" y="122" width="1" height="122" fill="url(#gb27)"/>
<rect x="107" y="122" width="1" height="122" fill="url(#gb28)"/>
<rect x="108" y="122" width="1" height="122" fill="url(#gb29)"/>
<rect x="109" y="122" width="1" height="122" fill="url(#gb30)"/>
<rect x="110" y="122" width="1" height="122" fill="url(#gb31)"/>
<rect x="111" y="122" width="21" height="122" fill="url(#gb32)"/>
<rect x="132" y="122" width="1" height="122" fill="url(#gb33)"/>
<rect x="133" y="122" width="1" height="122" fill="url(#gb34)"/>
<rect x="134" y="122" width="1" height="122" fill="url(#gb35)"/>
<rect x="135" y="122" width="1" height="122" fill="url(#gb36)"/>
<rect x="136" y="122" width="1" height="122" fill="url(#gb37)"/>
<rect x="137" y="122" width="1" height="122" fill="url(#gb38)"/>
<rect x="138" y="122" width="1" height="122" fill="url(#gb39)"/>
<rect x="139" y="122" width="1" height="122" fill="url(#gb40)"/>
<rect x="140" y="122" width="1" height="122" fill="url(#gb41)"/>
<rect x="141" y="122" width="1" height="122" fill="url(#gb42)"/>
<rect x="142" y="122" width="1" height="122" fill="url(#gb43)"/>
<rect x="143" y="122" width="1" height="122" fill="url(#gb44)"/>
<rect x="144" y="122" width="1" height="122" fill="url(#gb45)"/>
<rect x="145" y="122" width="1" height="122" fill="url(#gb46)"/>
<rect x="146" y="122" width="1" height="122" fill="url(#gb47)"/>
<rect x="147" y="122" width="1" height="122" fill="url(#gb48)"/>
<rect x="148" y="122" width="1" height="122" fill="url(#gb49)"/>
<rect x="149" y="122" width="1" height="122" fill="url(#gb50)"/>
<rect x="150" y="122" width="1" height="122" fill="url(#gb51)"/>
<rect x="151" y="122" width="4" height="122" fill="url(#gb52)"/>
<rect x="155" y="122" width="4" height="122" fill="url(#gb53)"/>
<rect x="159" y="122" width="4" height="122" fill="url(#gb54)"/>
<rect x="163" y="122" width="4" height="122" fill="url(#gb55)"/>
<rect x="167" y="122" width="4" height="122" fill="url(#gb56)"/>
<rect x="171" y="122" width="20" height="122" fill="url(#gb57)"/>
<rect x="191" y="122" width="60" height="122" fill="url(#gb58)"/>
<rect x="251" y="122" width="38" height="122" fill="url(#gb59)"/><rect x="399" y="16" width="30" height="122" fill="url(#gd0)"/>
<rect x="429" y="16" width="3" height="122" fill="url(#gd1)"/>
<rect x="432" y="16" width="2" height="122" fill="url(#gd2)"/>
<rect x="434" y="16" width="1" height="122" fill="url(#gd3)"/>
<rect x="435" y="16" width="1" height="122" fill="url(#gd4)"/>
<rect x="436" y="16" width="1" height="122" fill="url(#gd5)"/>
<rect x="437" y="16" width="1" height="122" fill="url(#gd6)"/>
<rect x="438" y="16" width="1" height="122" fill="url(#gd7)"/>
<rect x="439" y="16" width="1" height="122" fill="url(#gd8)"/>
<rect x="440" y="16" width="1" height="122" fill="url(#gd9)"/>
<rect x="441" y="16" width="1" height="122" fill="url(#gd10)"/>
<rect x="442" y="16" width="1" height="122" fill="url(#gd11)"/>
<rect x="443" y="16" width="1" height="122" fill="url(#gd12)"/>
<rect x="444" y="16" width="1" height="122" fill="url(#gd13)"/>
<rect x="445" y="16" width="1" height="122" fill="url(#gd14)"/>
<rect x="446" y="16" width="1" height="122" fill="url(#gd15)"/>
<rect x="447" y="16" width="1" height="122" fill="url(#gd16)"/>
<rect x="448" y="16" width="1" height="122" fill="url(#gd17)"/>
<rect x="449" y="16" width="1" height="122" fill="url(#gd18)"/>
<rect x="450" y="16" width="1" height="122" fill="url(#gd19)"/>
<rect x="451" y="16" width="1" height="122" fill="url(#gd20)"/>
<rect x="452" y="16" width="1" height="122" fill="url(#gd21)"/>
<rect x="453" y="16" width="1" height="122" fill="url(#gd22)"/>
<rect x="454" y="16" width="1" height="122" fill="url(#gd23)"/>
<rect x="455" y="16" width="1" height="122" fill="url(#gd24)"/>
<rect x="456" y="16" width="1" height="122" fill="url(#gd25)"/>
<rect x="457" y="16" width="1" height="122" fill="url(#gd26)"/>
<rect x="458" y="16" width="1" height="122" fill="url(#gd27)"/>
<rect x="459" y="16" width="1" height="122" fill="url(#gd28)"/>
<rect x="460" y="16" width="1" height="122" fill="url(#gd29)"/>
<rect x="461" y="16" width="2" height="122" fill="url(#gd30)"/>
<rect x="463" y="16" width="18" height="122" fill="url(#gd31)"/>
<rect x="481" y="16" width="2" height="122" fill="url(#gd32)"/>
<rect x="483" y="16" width="1" height="122" fill="url(#gd33)"/>
<rect x="484" y="16" width="1" height="122" fill="url(#gd34)"/>
<rect x="485" y="16" width="1" height="122" fill="url(#gd35)"/>
<rect x="486" y="16" width="1" height="122" fill="url(#gd36)"/>
<rect x="487" y="16" width="1" height="122" fill="url(#gd37)"/>
<rect x="488" y="16" width="1" height="122" fill="url(#gd38)"/>
<rect x="489" y="16" width="1" height="122" fill="url(#gd39)"/>
<rect x="490" y="16" width="1" height="122" fill="url(#gd40)"/>
<rect x="491" y="16" width="1" height="122" fill="url(#gd41)"/>
<rect x="492" y="16" width="1" height="122" fill="url(#gd42)"/>
<rect x="493" y="16" width="1" height="122" fill="url(#gd43)"/>
<rect x="494" y="16" width="1" height="122" fill="url(#gd44)"/>
<rect x="495" y="16" width="1" height="122" fill="url(#gd45)"/>
<rect x="496" y="16" width="1" height="122" fill="url(#gd46)"/>
<rect x="497" y="16" width="1" height="122" fill="url(#gd47)"/>
<rect x="498" y="16" width="1" height="122" fill="url(#gd48)"/>
<rect x="499" y="16" width="1" height="122" fill="url(#gd49)"/>
<rect x="500" y="16" width="1" height="122" fill="url(#gd50)"/>
<rect x="501" y="16" width="1" height="122" fill="url(#gd51)"/>
<rect x="502" y="16" width="1" height="122" fill="url(#gd52)"/>
<rect x="503" y="16" width="1" height="122" fill="url(#gd53)"/>
<rect x="504" y="16" width="4" height="122" fill="url(#gd54)"/>
<rect x="508" y="16" width="5" height="122" fill="url(#gd55)"/>
<rect x="513" y="16" width="9" height="122" fill="url(#gd56)"/>
<rect x="522" y="16" width="20" height="122" fill="url(#gd57)"/>
<rect x="542" y="16" width="60" height="122" fill="url(#gd58)"/>
<rect x="602" y="16" width="40" height="122" fill="url(#gd59)"/></g>
<rect x="47" y="0.5" width="242.3" height="121.8" fill="none" stroke="#3a3a3a" stroke-width="1"/>
<rect x="47" y="122.3" width="242.3" height="121.2" fill="none" stroke="#3a3a3a" stroke-width="1"/>
<line x1="44" y1="44.5" x2="47" y2="44.5" stroke="#3a3a3a" stroke-width="1" />
<line x1="44" y1="88.4" x2="47" y2="88.4" stroke="#3a3a3a" stroke-width="1" />
<line x1="44" y1="166.3" x2="47" y2="166.3" stroke="#3a3a3a" stroke-width="1" />
<line x1="44" y1="209.5" x2="47" y2="209.5" stroke="#3a3a3a" stroke-width="1" />
<line x1="107.5" y1="122.3" x2="107.5" y2="125.5" stroke="#3a3a3a" stroke-width="1" />
<line x1="107.5" y1="243.5" x2="107.5" y2="246.6" stroke="#3a3a3a" stroke-width="1" />
<line x1="168.3" y1="122.3" x2="168.3" y2="125.5" stroke="#3a3a3a" stroke-width="1" />
<line x1="168.3" y1="243.5" x2="168.3" y2="246.6" stroke="#3a3a3a" stroke-width="1" />
<line x1="229" y1="122.3" x2="229" y2="125.5" stroke="#3a3a3a" stroke-width="1" />
<line x1="229" y1="243.5" x2="229" y2="246.6" stroke="#3a3a3a" stroke-width="1" />
<text x="39" y="48.5" font-size="11" text-anchor="end" >1</text>
<text x="39" y="170.3" font-size="11" text-anchor="end" >1</text>
<text x="39.3" y="92.4" font-size="11" text-anchor="end" >0.5</text>
<text x="39.3" y="213.5" font-size="11" text-anchor="end" >0.5</text>
<text transform="translate(15,61.5) rotate(-90)" font-size="11" text-anchor="middle"><tspan font-style="italic">f</tspan> (GHz)</text>
<text transform="translate(15,183.5) rotate(-90)" font-size="11" text-anchor="middle"><tspan font-style="italic">f</tspan> (GHz)</text>
<text x="-0.5" y="7.6" font-size="15" text-anchor="start" font-weight="bold">a</text>
<text x="-0.5" y="134.5" font-size="15" text-anchor="start" font-weight="bold">b</text>
<text x="0" y="252.8" font-size="15" text-anchor="start" font-weight="bold">c</text>
<text x="356" y="22.7" font-size="15" text-anchor="start" font-weight="bold">d</text>
<text x="356" y="208.8" font-size="15" text-anchor="start" font-weight="bold">e</text>
<text x="49.5" y="13.8" font-size="11">Δ<tspan font-style="italic">S</tspan><tspan font-size="8" dy="2.9">21</tspan></text>
<text x="49.5" y="137.6" font-size="11">Δ<tspan font-style="italic">S</tspan><tspan font-size="8" dy="2.9">23</tspan></text>
<text x="218.5" y="16.6" font-size="11.3"><tspan font-style="italic">P</tspan><tspan x="231.5">= –72 dBm</tspan></text>
<rect x="298.5" y="84.8" width="9" height="75" fill="url(#cbar)" stroke="#333" stroke-width="0.6"/>
<line x1="307.4" y1="97.4" x2="310.3" y2="97.4" stroke="#3a3a3a" stroke-width="1" />
<text x="315" y="101.4" font-size="11" text-anchor="start" >20</text>
<line x1="307.4" y1="122.2" x2="310.3" y2="122.2" stroke="#3a3a3a" stroke-width="1" />
<text x="315" y="126.2" font-size="11" text-anchor="start" >0</text>
<line x1="307.4" y1="146.9" x2="310.3" y2="146.9" stroke="#3a3a3a" stroke-width="1" />
<text x="315" y="150.9" font-size="11" text-anchor="start" >–20</text>
<line x1="47" y1="243.5" x2="47" y2="327" stroke="#3a3a3a" stroke-width="1" />
<line x1="289.3" y1="243.5" x2="289.3" y2="327" stroke="#3a3a3a" stroke-width="1" />
<line x1="46.5" y1="326.5" x2="289.8" y2="326.5" stroke="#3a3a3a" stroke-width="1" />
<line x1="44" y1="262.1" x2="47" y2="262.1" stroke="#3a3a3a" stroke-width="1" />
<text x="39" y="266.1" font-size="11" text-anchor="end" >1</text>
<line x1="44" y1="287.2" x2="47" y2="287.2" stroke="#3a3a3a" stroke-width="1" />
<text x="39" y="291.2" font-size="11" text-anchor="end" >0</text>
<line x1="44" y1="312.3" x2="47" y2="312.3" stroke="#3a3a3a" stroke-width="1" />
<text x="39" y="316.3" font-size="11" text-anchor="end" >–1</text>
<line x1="289.3" y1="262.3" x2="292.3" y2="262.3" stroke="#3a3a3a" stroke-width="1" />
<text x="297" y="266.3" font-size="11" text-anchor="start" >4</text>
<line x1="289.3" y1="287.3" x2="292.3" y2="287.3" stroke="#3a3a3a" stroke-width="1" />
<text x="297" y="291.3" font-size="11" text-anchor="start" >0</text>
<line x1="289.3" y1="312.2" x2="292.3" y2="312.2" stroke="#3a3a3a" stroke-width="1" />
<text x="297" y="316.2" font-size="11" text-anchor="start" >–4</text>
<line x1="47" y1="326.5" x2="47" y2="329.6" stroke="#3a3a3a" stroke-width="1" />
<text x="47" y="342.3" font-size="11" text-anchor="middle" >–0.4</text>
<line x1="107.4" y1="326.5" x2="107.4" y2="329.6" stroke="#3a3a3a" stroke-width="1" />
<text x="107.4" y="342.3" font-size="11" text-anchor="middle" >–0.2</text>
<line x1="167.8" y1="326.5" x2="167.8" y2="329.6" stroke="#3a3a3a" stroke-width="1" />
<text x="167.8" y="342.3" font-size="11" text-anchor="middle" >0</text>
<line x1="228.2" y1="326.5" x2="228.2" y2="329.6" stroke="#3a3a3a" stroke-width="1" />
<text x="228.2" y="342.3" font-size="11" text-anchor="middle" >0.2</text>
<line x1="288.6" y1="326.5" x2="288.6" y2="329.6" stroke="#3a3a3a" stroke-width="1" />
<text x="288.6" y="342.3" font-size="11" text-anchor="middle" >0.4</text>
<text x="168.4" y="359.4" font-size="11" text-anchor="middle"><tspan font-style="italic">B</tspan> (T)</text>
<text x="50" y="257" font-size="11"><tspan font-style="italic">M</tspan><tspan font-size="8" dy="2.5">z</tspan><tspan dy="-2.5" x="65.6">=</tspan><tspan x="75.2">–</tspan><tspan x="80.2">1</tspan></text>
<text x="250" y="257" font-size="11"><tspan font-style="italic">M</tspan><tspan font-size="8" dy="2.5">z</tspan><tspan dy="-2.5" x="265.6">=</tspan><tspan x="275.2">+</tspan><tspan x="280.9">1</tspan></text>
<text transform="translate(11.6,284) rotate(-90)" font-size="11" text-anchor="middle"><tspan font-style="italic">R</tspan><tspan font-size="8" dy="2.5" font-style="italic">xy</tspan><tspan dy="-2.5"> (h/e</tspan><tspan font-size="8" dy="-4">2</tspan><tspan dy="4">)</tspan></text>
<text transform="translate(319.7,283.3) rotate(90)" font-size="11" text-anchor="middle"><tspan font-style="italic">R</tspan><tspan font-size="8" dy="2.5" font-style="italic">xx</tspan><tspan dy="-2.5"> (h/e</tspan><tspan font-size="8" dy="-4">2</tspan><tspan dy="4">)</tspan></text>
<line x1="198.5" y1="316.8" x2="183" y2="316.8" stroke="#222" stroke-width="1" />
<path d="M180.8,316.8 L185.5,314.6 L185.5,319 Z" fill="#222"/>
<text x="203.8" y="319.8" font-size="11.25" text-anchor="start" >Sweep direction</text>
<path d="M47.0,287.20 L48.0,287.20 L49.0,287.20 L50.0,287.20 L51.0,287.20 L52.0,287.20 L53.0,287.20 L54.0,287.20 L55.0,287.20 L56.0,287.20 L57.0,287.20 L58.0,287.20 L59.0,287.20 L60.0,287.20 L61.0,287.20 L62.0,287.19 L63.0,287.19 L64.0,287.19 L65.0,287.19 L66.0,287.19 L67.0,287.18 L68.0,287.18 L69.0,287.17 L70.0,287.17 L71.0,287.16 L72.0,287.15 L73.0,287.14 L74.0,287.13 L75.0,287.11 L76.0,287.10 L77.0,287.08 L78.0,287.06 L79.0,287.04 L80.0,287.01 L81.0,286.98 L82.0,286.95 L83.0,286.92 L84.0,286.89 L85.0,286.85 L86.0,286.81 L87.0,286.77 L88.0,286.73 L89.0,286.68 L90.0,286.64 L91.0,286.58 L92.0,286.52 L93.0,286.45 L94.0,286.37 L95.0,286.27 L96.0,286.15 L97.0,285.99 L98.0,285.79 L99.0,285.54 L100.0,285.22 L101.0,284.81 L102.0,284.30 L103.0,283.68 L104.0,282.92 L105.0,282.01 L106.0,280.95 L107.0,279.73 L108.0,278.34 L109.0,276.80 L110.0,275.13 L111.0,273.35 L112.0,271.50 L113.0,269.64 L114.0,267.80 L115.0,266.06 L116.0,264.46 L117.0,263.08 L118.0,261.96 L119.0,261.15 L120.0,260.67 L121.0,260.57 L122.0,260.81 L123.0,261.40 L124.0,262.30 L125.0,263.48 L126.0,264.89 L127.0,266.49 L128.0,268.22 L129.0,270.02 L130.0,271.84 L131.0,273.63 L132.0,275.34 L133.0,276.96 L134.0,278.44 L135.0,279.78 L136.0,280.97 L137.0,282.00 L138.0,282.89 L139.0,283.64 L140.0,284.26 L141.0,284.78 L142.0,285.20 L143.0,285.54 L144.0,285.81 L145.0,286.03 L146.0,286.21 L147.0,286.36 L148.0,286.48 L149.0,286.58 L150.0,286.66 L151.0,286.73 L152.0,286.80 L153.0,286.85 L154.0,286.90 L155.0,286.95 L156.0,286.98 L157.0,287.02 L158.0,287.05 L159.0,287.07 L160.0,287.10 L161.0,287.12 L162.0,287.13 L163.0,287.15 L164.0,287.16 L165.0,287.17 L166.0,287.17 L167.0,287.18 L168.0,287.19 L169.0,287.19 L170.0,287.19 L171.0,287.19 L172.0,287.20 L173.0,287.20 L174.0,287.20 L175.0,287.20 L176.0,287.20 L177.0,287.20 L178.0,287.20 L179.0,287.20 L180.0,287.20 L181.0,287.20 L182.0,287.20 L183.0,287.20 L184.0,287.20 L185.0,287.20 L186.0,287.20 L187.0,287.20 L188.0,287.20 L189.0,287.20 L190.0,287.20 L191.0,287.20 L192.0,287.20 L193.0,287.20 L194.0,287.20 L195.0,287.20 L196.0,287.20 L197.0,287.20 L198.0,287.20 L199.0,287.20 L200.0,287.20 L201.0,287.20 L202.0,287.20 L203.0,287.20 L204.0,287.20 L205.0,287.20 L206.0,287.20 L207.0,287.20 L208.0,287.20 L209.0,287.20 L210.0,287.20 L211.0,287.20 L212.0,287.20 L213.0,287.20 L214.0,287.20 L215.0,287.20 L216.0,287.20 L217.0,287.20 L218.0,287.20 L219.0,287.20 L220.0,287.20 L221.0,287.20 L222.0,287.20 L223.0,287.20 L224.0,287.20 L225.0,287.20 L226.0,287.20 L227.0,287.20 L228.0,287.20 L229.0,287.20 L230.0,287.20 L231.0,287.20 L232.0,287.20 L233.0,287.20 L234.0,287.20 L235.0,287.20 L236.0,287.20 L237.0,287.20 L238.0,287.20 L239.0,287.20 L240.0,287.20 L241.0,287.20 L242.0,287.20 L243.0,287.20 L244.0,287.20 L245.0,287.20 L246.0,287.20 L247.0,287.20 L248.0,287.20 L249.0,287.20 L250.0,287.20 L251.0,287.20 L252.0,287.20 L253.0,287.20 L254.0,287.20 L255.0,287.20 L256.0,287.20 L257.0,287.20 L258.0,287.20 L259.0,287.20 L260.0,287.20 L261.0,287.20 L262.0,287.20 L263.0,287.20 L264.0,287.20 L265.0,287.20 L266.0,287.20 L267.0,287.20 L268.0,287.20 L269.0,287.20 L270.0,287.20 L271.0,287.20 L272.0,287.20 L273.0,287.20 L274.0,287.20 L275.0,287.20 L276.0,287.20 L277.0,287.20 L278.0,287.20 L279.0,287.20 L280.0,287.20 L281.0,287.20 L282.0,287.20 L283.0,287.20 L284.0,287.20 L285.0,287.20 L286.0,287.20 L287.0,287.20 L288.0,287.20 L289.0,287.20" fill="none" stroke="#6f549f" stroke-width="1.3"/>
<path d="M47.0,312.30 L53.4,312.29 L62.8,312.28 L72.5,312.26 L80.0,312.20 L84.6,312.11 L87.6,311.99 L89.8,311.85 L92.0,311.70 L94.3,311.55 L96.4,311.40 L98.2,311.22 L100.0,311.00 L101.7,310.74 L103.2,310.44 L104.6,310.10 L106.0,309.70 L107.3,309.26 L108.6,308.77 L109.8,308.22 L111.0,307.31 L112.1,306.92 L113.2,305.91 L114.1,305.32 L115.0,304.54 L115.7,303.19 L116.4,302.42 L117.0,302.62 L117.5,301.24 L118.0,300.42 L118.4,300.45 L118.9,299.03 L119.3,298.57 L119.7,297.27 L120.2,296.52 L120.6,295.04 L121.0,294.65 L121.3,294.05 L121.6,292.86 L122.0,292.24 L122.3,291.19 L122.7,289.38 L123.1,288.88 L123.6,287.39 L124.0,285.78 L124.4,284.25 L124.7,283.93 L125.1,282.26 L125.5,281.24 L126.0,280.04 L126.5,278.42 L127.0,277.24 L127.5,275.50 L128.0,274.39 L128.5,273.39 L129.0,272.47 L129.5,271.60 L130.1,270.78 L130.7,270.02 L131.3,269.30 L132.0,268.60 L132.8,267.91 L133.6,267.24 L134.5,266.60 L135.5,266.00 L136.5,265.44 L137.5,264.93 L138.6,264.44 L140.0,264.00 L141.7,263.59 L143.5,263.21 L145.6,262.88 L148.0,262.60 L150.6,262.38 L153.6,262.23 L156.7,262.10 L160.0,262.00 L161.2,261.92 L161.1,261.86 L164.2,261.83 L175.0,261.80 L199.2,261.79 L232.9,261.79 L266.2,261.80 L289.0,261.80" fill="none" stroke="#2b7a4e" stroke-width="1.3"/>
<path d="M63.7,309.5 C63,303 58,299 53.5,298" fill="none" stroke="#2b7a4e" stroke-width="1.2"/>
<path d="M51.2,296.8 L55.5,296.2 L53.8,300.2 Z" fill="#2b7a4e"/>
<path d="M271.7,291.3 C272.3,297 276,301.3 281.2,302.9" fill="none" stroke="#6f549f" stroke-width="1.3"/>
<path d="M284.6,303.7 L280.2,300.4 L279.4,305.3 Z" fill="#6f549f"/>
<rect x="398.7" y="16.3" width="242.8" height="121.1" fill="none" stroke="#3a3a3a" stroke-width="1"/>
<line x1="395.6" y1="60" x2="398.7" y2="60" stroke="#3a3a3a" stroke-width="1" />
<text x="390.9" y="64" font-size="11" text-anchor="end" >1</text>
<line x1="395.6" y1="103.4" x2="398.7" y2="103.4" stroke="#3a3a3a" stroke-width="1" />
<text x="390.9" y="107.4" font-size="11" text-anchor="end" >0.5</text>
<line x1="398.7" y1="137.4" x2="398.7" y2="140.5" stroke="#3a3a3a" stroke-width="1" />
<text x="398.7" y="153.5" font-size="11" text-anchor="middle" >–0.4</text>
<line x1="459.6" y1="137.4" x2="459.6" y2="140.5" stroke="#3a3a3a" stroke-width="1" />
<text x="459.6" y="153.5" font-size="11" text-anchor="middle" >–0.2</text>
<line x1="520.3" y1="137.4" x2="520.3" y2="140.5" stroke="#3a3a3a" stroke-width="1" />
<text x="520.3" y="153.5" font-size="11" text-anchor="middle" >0</text>
<line x1="580.9" y1="137.4" x2="580.9" y2="140.5" stroke="#3a3a3a" stroke-width="1" />
<text x="580.9" y="153.5" font-size="11" text-anchor="middle" >0.2</text>
<line x1="641.5" y1="137.4" x2="641.5" y2="140.5" stroke="#3a3a3a" stroke-width="1" />
<text x="641.5" y="153.5" font-size="11" text-anchor="middle" >0.4</text>
<text x="520.3" y="168.3" font-size="11" text-anchor="middle"><tspan font-style="italic">B</tspan> (T)</text>
<text transform="translate(369.5,74.5) rotate(-90)" font-size="11" text-anchor="middle"><tspan font-style="italic">f</tspan> (GHz)</text>
<text x="403.8" y="30.2" font-size="11"><tspan font-style="italic">S</tspan><tspan font-size="8" dy="2.6">21</tspan><tspan dy="-2.6"> - </tspan><tspan font-style="italic">S</tspan><tspan font-size="8" dy="2.6">23</tspan></text>
<line x1="472.5" y1="16.8" x2="472.5" y2="137" stroke="#3a3a7c" stroke-width="1.1" stroke-dasharray="4.4 1.7" stroke-dashoffset="2.6"/>
<line x1="493.3" y1="16.8" x2="493.3" y2="137" stroke="#6a2838" stroke-width="1.1" stroke-dasharray="4.4 1.7" stroke-dashoffset="2.6"/>
<line x1="520.4" y1="16.8" x2="520.4" y2="137" stroke="#151515" stroke-width="1.1" stroke-dasharray="4.4 1.7" stroke-dashoffset="2.6"/>
<rect x="651" y="39" width="8.7" height="75.5" fill="url(#cbar)" stroke="#333" stroke-width="0.6"/>
<line x1="659.7" y1="52.2" x2="662.5" y2="52.2" stroke="#3a3a3a" stroke-width="1" />
<text x="666.6" y="56.2" font-size="11" text-anchor="start" >20</text>
<line x1="659.7" y1="76.2" x2="662.5" y2="76.2" stroke="#3a3a3a" stroke-width="1" />
<text x="666.6" y="80.2" font-size="11" text-anchor="start" >0</text>
<line x1="659.7" y1="101.5" x2="662.5" y2="101.5" stroke="#3a3a3a" stroke-width="1" />
<text x="666.6" y="105.5" font-size="11" text-anchor="start" >–20</text>
<line x1="562.3" y1="182.7" x2="546.5" y2="182.7" stroke="#222" stroke-width="1" />
<path d="M544.2,182.7 L548.9,180.5 L548.9,184.9 Z" fill="#222"/>
<text x="567.5" y="185.6" font-size="11.25" text-anchor="start" >Sweep direction</text>
<rect x="400.2" y="209.7" width="242.2" height="82" fill="none" stroke="#3a3a3a" stroke-width="1"/>
<line x1="400.2" y1="226.1" x2="403" y2="226.1" stroke="#3a3a3a" stroke-width="1" />
<line x1="642.4" y1="226.1" x2="639.6" y2="226.1" stroke="#3a3a3a" stroke-width="1" />
<text x="395.2" y="230.1" font-size="11" text-anchor="end" >0</text>
<line x1="400.2" y1="261.7" x2="403" y2="261.7" stroke="#3a3a3a" stroke-width="1" />
<line x1="642.4" y1="261.7" x2="639.6" y2="261.7" stroke="#3a3a3a" stroke-width="1" />
<text x="395.2" y="265.7" font-size="11" text-anchor="end" >–20</text>
<line x1="488.6" y1="291.7" x2="488.6" y2="288.9" stroke="#3a3a3a" stroke-width="1" />
<line x1="488.6" y1="209.7" x2="488.6" y2="212.5" stroke="#3a3a3a" stroke-width="1" />
<text x="488.6" y="304.8" font-size="11" text-anchor="middle" >0.5</text>
<line x1="597.3" y1="291.7" x2="597.3" y2="288.9" stroke="#3a3a3a" stroke-width="1" />
<line x1="597.3" y1="209.7" x2="597.3" y2="212.5" stroke="#3a3a3a" stroke-width="1" />
<text x="597.3" y="304.8" font-size="11" text-anchor="middle" >1</text>
<text x="521.5" y="321.6" font-size="11" text-anchor="middle"><tspan font-style="italic">f</tspan> (GHz)</text>
<text transform="translate(366,250.3) rotate(-90)" font-size="11" text-anchor="middle"><tspan font-style="italic">S</tspan><tspan font-size="8" dy="2.5">21</tspan><tspan dy="-2.5"> - </tspan><tspan font-style="italic">S</tspan><tspan font-size="8" dy="2.5">23</tspan><tspan dy="-2.5"> (dB)</tspan></text>
<line x1="549.2" y1="242.5" x2="560.8" y2="242.5" stroke="#111" stroke-width="1.2" />
<text x="564.3" y="246.9" font-size="11"><tspan font-style="italic">B</tspan><tspan font-size="8" dy="2.8">0</tspan><tspan dy="-2.8" x="578.2">=</tspan><tspan x="593.6">0 T</tspan></text>
<line x1="549.2" y1="260.5" x2="560.8" y2="260.5" stroke="#30309a" stroke-width="1.0" />
<text x="564.3" y="264.4" font-size="11"><tspan font-style="italic">B</tspan><tspan font-size="8" dy="2.8">c</tspan><tspan dy="-2.8"> = − 0.16 T</tspan></text>
<line x1="549.2" y1="277.5" x2="560.8" y2="277.5" stroke="#a0345a" stroke-width="1.0" />
<text x="564.3" y="281.7" font-size="11"><tspan font-style="italic">B</tspan><tspan font-size="8" dy="2.8">min</tspan><tspan dy="-2.8"> = − 0.09 T</tspan></text>
<g clip-path="url(#ce)">
<path d="M400.0,235.67 L401.0,236.14 L402.0,235.89 L403.0,235.25 L404.0,235.30 L405.0,234.75 L406.0,234.44 L407.0,234.06 L408.0,232.93 L409.0,232.11 L410.0,232.07 L411.0,230.94 L412.3,230.80 L413.5,229.69 L414.8,229.65 L415.9,230.43 L416.9,230.52 L418.0,231.70 L419.2,231.64 L420.4,230.83 L421.7,230.80 L422.9,231.24 L423.9,231.35 L424.9,230.59 L426.0,230.19 L427.0,230.13 L428.0,229.65 L429.1,229.70 L430.1,229.77 L431.1,229.70 L432.4,229.66 L433.7,229.86 L435.0,230.05 L436.1,230.36 L437.1,230.31 L438.2,230.17 L439.3,231.00 L440.3,230.78 L441.3,230.89 L442.4,230.52 L443.4,231.28 L444.4,231.19 L445.4,230.56 L446.4,231.22 L447.5,232.03 L448.5,232.49 L449.5,233.53 L450.6,233.90 L451.6,235.10 L452.6,235.85 L453.6,236.42 L454.6,237.58 L455.6,238.64 L456.7,239.41 L457.7,239.90 L458.7,240.68 L459.8,240.88 L460.8,241.77 L461.8,242.80 L462.8,242.99 L463.8,243.31 L464.9,244.09 L465.9,244.68 L466.9,245.11 L468.0,245.29 L469.0,245.10 L470.0,244.91 L471.0,244.90 L472.0,244.42 L473.0,243.93 L474.1,243.64 L475.1,242.85 L476.1,242.49 L477.3,242.43 L478.6,242.03 L479.8,241.03 L481.0,240.20 L482.1,239.50 L483.1,239.30 L484.2,239.23 L485.2,238.54 L486.3,237.84 L487.4,237.57 L488.4,236.46 L489.4,236.16 L490.5,236.01 L491.5,235.20 L492.5,234.61 L493.5,233.97 L494.5,233.74 L495.5,233.66 L496.6,232.36 L497.6,232.61 L498.6,232.19 L499.6,231.85 L500.6,231.32 L501.7,230.98 L502.7,230.32 L503.7,230.11 L504.8,229.73 L505.8,229.15 L506.8,229.63 L507.8,229.19 L508.9,228.68 L509.9,228.78 L510.9,228.59 L511.9,228.15 L513.0,227.81 L514.0,227.66 L515.0,227.41 L516.1,226.68 L517.1,225.81 L518.2,224.70 L519.3,224.16 L520.4,223.74 L521.5,223.73 L522.6,223.61 L523.7,223.18 L524.8,222.81 L525.9,222.46 L527.0,221.58 L528.1,221.76 L529.2,221.26 L530.3,220.37 L531.4,219.97 L532.4,219.61 L533.5,219.93 L534.6,219.12 L535.7,218.65 L536.9,219.24 L538.1,219.11 L539.3,218.99 L540.5,219.19 L541.6,219.56 L542.7,219.28 L543.7,219.42 L544.8,219.85 L545.9,219.66 L546.9,219.31 L548.0,219.23 L549.0,218.60 L550.0,218.70 L551.0,218.56 L552.0,218.19 L553.0,217.95 L554.0,218.96 L555.0,218.91 L556.0,218.94 L557.0,219.60 L558.0,220.09 L559.0,219.70 L560.1,220.03 L561.1,220.48 L562.2,221.33 L563.2,221.16 L564.3,221.98 L565.3,222.12 L566.4,222.16 L567.4,222.03 L568.5,222.87 L569.5,222.87 L570.5,222.85 L571.5,222.83 L572.5,223.45 L573.5,223.47 L574.5,223.87 L575.5,224.04 L576.5,224.72 L577.6,224.60 L578.6,225.22 L579.7,225.74 L580.8,225.58 L581.8,224.99 L582.9,225.40 L584.0,224.83 L585.1,225.33 L586.3,225.09 L587.5,224.72 L588.6,224.51 L589.8,224.22 L590.9,224.94 L591.9,224.08 L593.0,224.69 L594.0,224.72 L595.0,224.26 L596.0,223.80 L597.0,224.33 L598.1,224.33 L599.1,223.98 L600.2,224.01 L601.4,224.09 L602.5,224.26 L603.7,224.34 L604.9,224.96 L606.0,224.94 L607.1,224.88 L608.1,224.96 L609.2,225.62 L610.2,225.45 L611.3,225.79 L612.3,225.79 L613.4,226.43 L614.5,226.31 L615.7,225.37 L616.9,225.38 L618.0,225.34 L619.1,225.80 L620.2,225.47 L621.4,224.94 L622.5,224.68 L623.6,224.96 L624.7,225.12 L625.7,225.22 L626.8,224.71 L627.9,225.21 L628.9,225.05 L630.0,224.89 L631.2,225.32 L632.4,224.62 L633.5,225.04 L634.7,224.45 L635.9,224.50 L636.9,225.39 L637.9,224.98 L639.0,225.68 L640.0,225.76 L641.0,226.19 L642.0,226.10" fill="none" stroke="#1a1a1a" stroke-width="1.1"/>
<path d="M400.0,236.36 L401.0,236.18 L402.0,235.30 L403.0,235.14 L404.0,235.57 L405.0,234.99 L406.0,234.44 L407.0,233.65 L408.0,233.38 L409.0,232.62 L410.0,231.83 L411.0,230.73 L412.7,230.24 L414.0,230.78 L415.2,231.61 L416.5,232.40 L417.6,232.78 L418.7,232.89 L419.8,233.23 L420.9,233.51 L421.9,233.55 L422.9,233.77 L424.0,234.35 L425.0,234.45 L426.0,234.65 L427.1,235.21 L428.1,235.07 L429.1,235.25 L430.1,235.51 L431.1,235.86 L432.2,236.62 L433.2,236.99 L434.2,237.81 L435.2,239.02 L436.2,239.58 L437.3,240.01 L438.3,241.39 L439.3,242.14 L440.3,243.36 L441.4,244.78 L442.4,245.94 L443.4,247.23 L444.4,248.43 L445.4,250.48 L446.5,252.02 L447.5,252.93 L448.5,255.67 L449.6,257.91 L450.6,259.97 L452.2,268.02 L453.2,275.99 L453.9,283.34 L454.3,288.80 L455.0,284.27 L455.6,278.38 L456.5,272.81 L457.2,267.52 L457.8,269.57 L458.6,266.05 L459.8,260.34 L460.8,257.83 L461.8,255.29 L462.8,252.98 L463.8,250.96 L464.8,249.83 L465.9,247.98 L466.9,247.15 L467.9,245.21 L468.9,245.15 L469.9,244.08 L470.9,244.02 L472.0,243.23 L473.0,242.49 L474.0,241.91 L475.0,241.51 L476.1,240.95 L477.1,240.21 L478.1,239.62 L479.1,239.35 L480.1,239.17 L481.2,238.41 L482.2,237.46 L483.2,237.54 L484.2,236.96 L485.3,236.59 L486.3,235.50 L487.3,235.43 L488.3,234.37 L489.4,234.33 L490.4,233.52 L491.4,233.06 L492.4,233.15 L493.5,232.11 L494.5,232.02 L495.5,231.86 L496.6,230.95 L497.6,230.49 L498.6,230.60 L499.6,230.03 L500.7,230.05 L501.7,229.29 L502.7,229.34 L503.7,228.98 L504.8,229.16 L505.8,228.48 L506.8,228.96 L507.9,228.22 L508.9,228.78 L509.9,228.22 L511.0,228.40 L512.0,228.35 L513.1,227.33 L514.1,226.85 L515.2,226.75 L516.2,226.01 L517.3,225.23 L518.4,225.93 L519.5,225.21 L520.6,225.06 L521.7,225.25 L522.8,225.41 L523.9,225.45 L525.0,224.89 L526.1,224.99 L527.1,224.67 L528.2,224.93 L529.3,225.11 L530.4,225.02 L531.5,225.07 L532.5,224.88 L533.6,224.89 L534.8,225.11 L536.0,225.28 L537.3,225.43 L538.5,226.13 L539.6,226.15 L540.7,226.28 L541.7,226.86 L542.8,227.50 L543.9,227.20 L544.9,227.27 L545.9,226.81 L547.0,226.61 L548.0,226.02 L549.0,226.37 L550.0,225.63 L551.0,225.72 L552.1,225.40 L553.1,224.89 L554.1,225.15 L555.3,224.94 L556.5,225.00 L557.8,225.10 L559.0,225.33 L560.1,225.36 L561.1,225.87 L562.2,225.85 L563.2,226.31 L564.3,226.35 L565.4,226.46 L566.6,225.91 L567.7,226.14 L568.9,226.04 L570.0,226.37 L571.1,226.45 L572.2,226.64 L573.3,226.62 L574.4,226.31 L575.5,226.49 L576.6,226.62 L577.8,225.90 L579.0,225.63 L580.3,225.63 L581.5,225.09 L582.6,225.40 L583.6,224.83 L584.7,224.54 L585.7,224.43 L586.8,224.29 L587.8,224.24 L588.9,224.45 L589.9,224.37 L590.9,224.21 L592.0,224.45 L593.0,224.07 L594.0,224.58 L595.0,224.57 L596.0,224.33 L597.1,224.05 L598.1,224.06 L599.1,224.06 L600.2,223.81 L601.4,224.27 L602.5,224.52 L603.7,224.41 L604.9,224.51 L606.0,225.24 L607.1,225.05 L608.1,225.33 L609.2,225.81 L610.2,225.72 L611.3,225.62 L612.3,226.33 L613.4,226.00 L614.5,225.57 L615.7,225.95 L616.9,225.33 L618.0,225.34 L619.1,225.63 L620.2,225.36 L621.4,224.69 L622.5,224.90 L623.6,224.73 L624.7,224.81 L625.7,224.60 L626.8,224.92 L627.9,224.53 L628.9,224.71 L630.0,224.80 L631.2,225.23 L632.4,224.52 L633.5,225.04 L634.7,224.57 L635.9,224.86 L636.9,224.93 L637.9,225.20 L639.0,225.65 L640.0,225.58 L641.0,225.58 L642.0,226.10" fill="none" stroke="#9e2c50" stroke-width="1.1"/>
<path d="M400.0,235.76 L401.0,235.86 L402.0,235.53 L403.0,235.57 L404.0,235.41 L405.0,234.41 L406.0,233.86 L407.0,234.10 L408.0,233.08 L409.0,232.29 L410.0,232.21 L411.0,230.97 L412.3,230.87 L413.5,230.11 L414.8,229.83 L416.0,229.82 L417.3,230.69 L418.5,231.33 L419.6,231.20 L420.7,231.57 L421.8,231.68 L422.9,231.31 L423.9,231.58 L424.9,231.08 L426.0,230.47 L427.0,229.88 L428.0,230.35 L429.1,229.73 L430.1,229.67 L431.1,229.54 L432.4,229.63 L433.7,230.05 L435.0,229.81 L436.1,230.27 L437.1,230.05 L438.2,230.59 L439.3,230.64 L440.5,229.49 L441.6,229.07 L442.8,228.70 L444.0,228.92 L445.1,228.06 L446.2,227.85 L447.3,227.18 L448.4,226.99 L449.5,226.50 L450.5,226.67 L451.5,227.08 L452.5,227.28 L453.5,227.76 L454.6,227.76 L455.6,228.19 L456.6,228.32 L457.7,228.64 L458.7,228.40 L459.8,227.98 L460.8,228.65 L461.9,228.79 L462.9,228.78 L464.0,228.52 L465.0,228.69 L466.0,228.25 L467.0,228.83 L468.0,228.61 L469.0,228.36 L470.0,228.18 L471.0,228.90 L472.0,229.04 L473.0,227.95 L474.0,228.31 L475.0,227.68 L476.0,227.17 L477.0,227.01 L478.0,227.24 L479.1,227.14 L480.1,226.19 L481.2,226.50 L482.2,225.79 L483.4,226.44 L484.5,226.13 L485.7,226.66 L486.8,226.79 L488.0,226.40 L489.1,226.88 L490.2,226.30 L491.2,226.12 L492.3,226.62 L493.4,226.14 L494.5,226.33 L495.5,226.52 L496.6,226.70 L497.6,226.29 L498.6,226.19 L499.6,226.93 L500.6,226.43 L501.7,227.01 L502.7,226.96 L503.7,226.69 L504.8,226.96 L505.8,227.22 L506.8,227.53 L507.8,227.69 L508.9,227.85 L509.9,228.11 L510.9,228.60 L511.9,227.81 L513.0,227.34 L514.0,227.20 L515.0,226.36 L516.0,226.17 L517.0,226.53 L518.0,225.87 L519.0,225.64 L520.0,225.13 L521.0,225.46 L522.0,225.57 L523.0,225.03 L524.0,225.54 L525.0,225.52 L526.1,224.89 L527.1,225.29 L528.2,225.03 L529.3,225.11 L530.4,224.70 L531.5,224.91 L532.5,224.83 L533.6,224.07 L534.8,224.48 L536.0,225.41 L537.3,226.04 L538.5,225.78 L539.6,226.22 L540.7,226.60 L541.7,226.62 L542.8,226.92 L543.9,227.13 L544.9,226.90 L545.9,226.83 L547.0,226.28 L548.0,226.07 L549.0,226.15 L550.0,225.29 L551.0,225.60 L552.1,225.57 L553.1,225.01 L554.1,224.75 L555.3,225.40 L556.5,225.01 L557.8,225.09 L559.0,225.44 L560.1,225.76 L561.1,225.30 L562.2,225.58 L563.2,225.67 L564.3,226.20 L565.4,225.90 L566.6,226.34 L567.7,225.78 L568.9,225.99 L570.0,226.34 L571.1,226.58 L572.2,226.22 L573.3,226.05 L574.4,225.99 L575.5,226.39 L576.6,226.12 L577.8,226.40 L579.0,226.15 L580.3,225.29 L581.5,225.10 L582.6,225.40 L583.6,225.07 L584.7,225.04 L585.7,224.44 L586.8,224.07 L587.8,224.18 L588.9,224.60 L589.9,224.09 L590.9,224.13 L592.0,224.16 L593.0,224.13 L594.0,224.09 L595.0,224.51 L596.0,223.79 L597.1,223.62 L598.1,224.43 L599.1,224.34 L600.2,224.60 L601.4,224.27 L602.5,224.91 L603.7,225.05 L604.9,224.58 L606.0,225.22 L607.1,225.46 L608.1,225.46 L609.2,225.49 L610.2,225.44 L611.3,225.64 L612.3,225.70 L613.4,225.71 L614.5,226.03 L615.7,225.61 L616.9,225.93 L618.0,225.09 L619.1,225.72 L620.2,225.39 L621.4,225.46 L622.5,225.30 L623.6,225.16 L624.7,224.89 L625.7,224.40 L626.8,225.07 L627.9,224.57 L628.9,224.70 L630.0,225.05 L631.2,224.90 L632.4,224.78 L633.5,225.24 L634.7,224.92 L635.9,224.66 L636.9,224.79 L637.9,225.56 L639.0,225.43 L640.0,225.92 L641.0,225.75 L642.0,226.10" fill="none" stroke="#3a3a9e" stroke-width="1.0"/>
</g>
</svg>
</body></html>
